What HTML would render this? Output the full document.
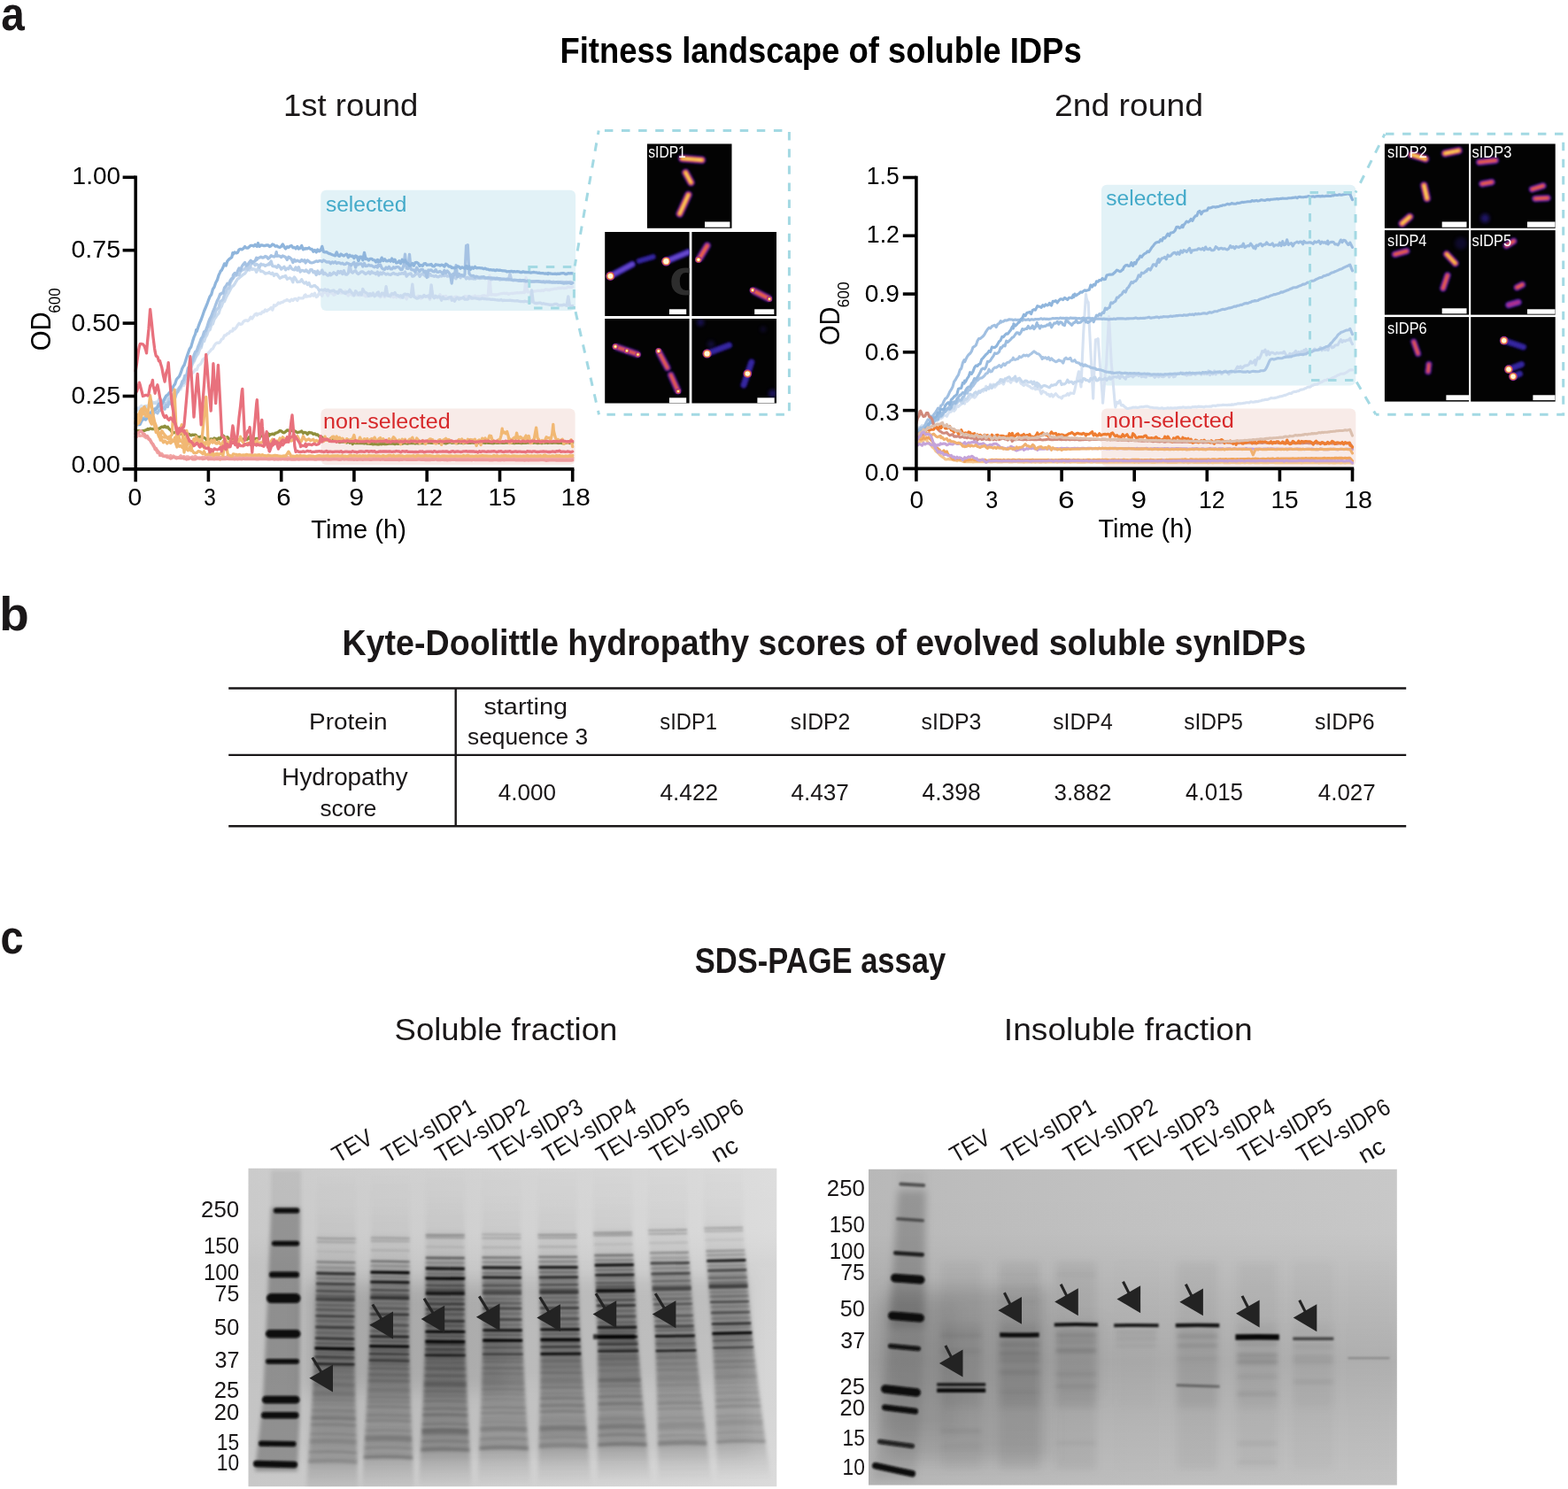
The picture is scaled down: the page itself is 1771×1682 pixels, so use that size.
<!DOCTYPE html>
<html lang="en"><head><meta charset="utf-8"><title>Fitness landscape of soluble IDPs</title>
<style>
html,body{margin:0;padding:0;background:#fff;}
svg{display:block;font-family:"Liberation Sans",sans-serif;}
</style></head>
<body>
<svg xmlns="http://www.w3.org/2000/svg" width="1771" height="1682" viewBox="0 0 1771 1682">
<defs>
<filter id="mb1" filterUnits="userSpaceOnUse" x="670" y="150" width="1100" height="320"><feGaussianBlur stdDeviation="1.1"/></filter>
<filter id="mb2" filterUnits="userSpaceOnUse" x="670" y="150" width="1100" height="320"><feGaussianBlur stdDeviation="0.7"/></filter>
<filter id="mb3" filterUnits="userSpaceOnUse" x="670" y="150" width="1100" height="320"><feGaussianBlur stdDeviation="2.2"/></filter>

<filter id="gb05" x="-20%" y="-200%" width="140%" height="500%"><feGaussianBlur stdDeviation="0.6"/></filter>
<filter id="gb1" x="-20%" y="-200%" width="140%" height="500%"><feGaussianBlur stdDeviation="1.0"/></filter>
<filter id="gb15" x="-20%" y="-20%" width="140%" height="140%"><feGaussianBlur stdDeviation="1.5"/></filter>
<filter id="gb2" x="-20%" y="-20%" width="140%" height="140%"><feGaussianBlur stdDeviation="2.2"/></filter>
<filter id="gb8" x="-20%" y="-20%" width="140%" height="140%"><feGaussianBlur stdDeviation="9"/></filter>
<filter id="gb4" x="-20%" y="-20%" width="140%" height="140%"><feGaussianBlur stdDeviation="4"/></filter>
<filter id="gnoise" x="0" y="0" width="100%" height="100%"><feTurbulence type="fractalNoise" baseFrequency="0.9" numOctaves="2" seed="3" result="n"/><feColorMatrix type="matrix" values="0 0 0 0 0  0 0 0 0 0  0 0 0 0 0  0.5 0.5 0 0 -0.38"/></filter>
<linearGradient id="g1bg" x1="0" y1="0" x2="1" y2="0"><stop offset="0" stop-color="#c8c8c8"/><stop offset="0.3" stop-color="#cdcdcd"/><stop offset="0.55" stop-color="#d2d2d2"/><stop offset="0.85" stop-color="#d7d7d7"/><stop offset="1" stop-color="#dbdbdb"/></linearGradient>
<linearGradient id="g1v" x1="0" y1="0" x2="0" y2="1"><stop offset="0" stop-color="#fff" stop-opacity="0.06"/><stop offset="0.2" stop-color="#fff" stop-opacity="0.02"/><stop offset="0.3" stop-color="#000" stop-opacity="0.03"/><stop offset="0.8" stop-color="#000" stop-opacity="0.02"/><stop offset="1" stop-color="#000" stop-opacity="0.0"/></linearGradient>
<linearGradient id="g2bg" x1="0" y1="0" x2="1" y2="0"><stop offset="0" stop-color="#b8b8b8"/><stop offset="0.15" stop-color="#bcbcbc"/><stop offset="0.5" stop-color="#c2c2c2"/><stop offset="1" stop-color="#c8c8c8"/></linearGradient>
<linearGradient id="g2v" x1="0" y1="0" x2="0" y2="1"><stop offset="0" stop-color="#000" stop-opacity="0.0"/><stop offset="0.2" stop-color="#000" stop-opacity="0.005"/><stop offset="0.39" stop-color="#000" stop-opacity="0.065"/><stop offset="0.61" stop-color="#000" stop-opacity="0.12"/><stop offset="0.81" stop-color="#000" stop-opacity="0.065"/><stop offset="0.97" stop-color="#000" stop-opacity="0.03"/><stop offset="1" stop-color="#000" stop-opacity="0.025"/></linearGradient>
</defs>
<rect width="1771" height="1682" fill="#fff"/>
<rect x="362.3" y="214.8" width="287.8" height="136.3" rx="6" fill="#e2f2f7"/>
<rect x="362.4" y="461.6" width="287.2" height="63.4" rx="6" fill="#f8ebe8"/>
<path d="M153.2,461.9 L154.8,460.9 L156.5,460.7 L158.1,459.9 L159.8,458.2 L161.4,461.0 L163.1,458.8 L164.7,458.6 L166.4,458.7 L168.0,457.3 L169.6,456.7 L171.3,453.1 L172.9,455.5 L174.6,455.6 L176.2,454.0 L177.9,456.1 L179.5,455.1 L180.6,453.4 L181.2,454.5 L182.8,454.3 L184.5,453.0 L186.1,453.2 L187.7,449.2 L189.4,448.2 L191.0,445.6 L192.7,448.7 L194.3,447.8 L196.0,446.2 L197.6,443.6 L199.3,442.7 L200.9,440.1 L202.5,440.0 L204.2,439.9 L205.8,434.3 L207.5,435.5 L208.0,432.8 L209.1,433.3 L210.8,430.5 L212.4,430.7 L214.1,427.6 L215.7,423.6 L217.4,421.2 L219.0,420.1 L220.6,417.4 L222.3,417.9 L223.9,413.2 L225.6,412.0 L227.2,410.3 L228.9,406.3 L230.5,405.2 L232.2,403.6 L233.8,400.8 L235.4,398.6 L237.1,396.9 L238.7,394.8 L240.4,393.9 L242.0,390.5 L243.7,388.1 L245.3,387.2 L247.0,387.4 L248.6,386.3 L250.3,383.3 L251.9,382.5 L253.5,378.9 L255.2,378.8 L256.8,376.9 L258.5,376.7 L260.1,374.1 L261.8,374.2 L262.9,373.7 L263.4,371.1 L265.1,371.9 L266.7,370.2 L268.4,367.2 L270.0,365.3 L271.6,366.4 L273.3,366.0 L274.9,363.4 L276.6,362.2 L278.2,361.8 L279.9,362.6 L281.5,361.1 L283.2,358.2 L284.8,359.9 L286.4,357.4 L288.1,354.9 L289.7,354.2 L290.3,356.1 L291.4,355.1 L293.0,354.2 L294.7,354.6 L296.3,352.2 L298.0,352.6 L299.6,349.9 L301.2,351.4 L302.9,350.0 L304.5,349.1 L306.2,347.5 L307.8,350.0 L309.5,344.7 L311.1,345.5 L312.8,344.2 L314.4,342.0 L316.1,342.8 L317.7,341.5 L319.3,341.4 L321.0,339.9 L322.6,339.6 L324.3,338.5 L325.9,339.6 L327.6,340.4 L329.2,338.2 L330.9,339.5 L332.5,337.6 L334.1,337.5 L335.8,339.4 L337.4,336.5 L339.1,336.9 L340.7,336.8 L342.4,336.9 L344.0,333.6 L345.1,333.0 L345.7,335.2 L347.3,334.9 L349.0,334.4 L350.6,334.5 L352.2,332.2 L353.9,334.1 L355.5,331.3 L357.2,335.5 L358.8,334.5 L360.5,330.9 L362.1,332.3 L363.8,334.3 L365.4,328.6 L367.0,330.3 L368.7,330.6 L370.3,334.1 L372.0,329.5 L372.5,330.6 L373.6,330.9 L375.3,331.3 L376.9,333.2 L378.6,332.5 L380.2,330.5 L381.9,329.9 L383.5,330.4 L385.1,330.8 L386.8,331.2 L388.4,330.9 L390.1,328.8 L391.7,331.7 L393.4,333.9 L395.0,331.4 L396.7,332.5 L398.3,333.6 L399.9,333.9 L401.6,331.3 L403.2,333.3 L404.9,332.8 L406.5,333.8 L408.2,331.2 L409.8,333.4 L411.5,333.5 L413.1,335.0 L414.8,334.7 L416.4,331.8 L418.0,334.6 L419.7,332.1 L421.3,332.8 L423.0,333.1 L424.6,333.4 L426.3,333.8 L427.4,332.3 L427.9,333.7 L429.6,335.7 L431.2,334.3 L432.8,332.0 L434.5,335.6 L436.1,334.1 L437.8,334.2 L439.4,332.7 L441.1,335.4 L442.7,332.5 L444.4,335.7 L446.0,334.2 L447.7,335.9 L449.3,334.2 L450.9,335.3 L452.6,336.5 L454.2,334.2 L455.9,335.9 L457.5,333.8 L459.2,338.0 L460.8,332.7 L462.5,334.9 L464.1,332.5 L465.8,333.9 L467.4,334.9 L469.0,335.2 L470.7,335.6 L472.3,334.1 L474.0,335.3 L475.6,337.0 L477.3,335.5 L478.9,334.5 L480.6,335.1 L482.2,334.9 L483.8,334.7 L485.5,338.4 L487.1,335.0 L488.8,333.3 L490.4,334.6 L492.1,335.7 L493.7,336.7 L495.4,336.1 L497.0,332.8 L498.6,335.9 L500.3,334.6 L501.9,335.3 L503.6,334.4 L505.2,336.8 L506.9,337.8 L508.5,335.8 L510.2,335.1 L511.8,338.7 L513.5,335.6 L515.1,335.1 L516.7,335.6 L518.4,335.8 L520.0,337.8 L521.7,336.5 L523.3,336.9 L525.0,334.4 L526.6,335.1 L528.3,334.8 L529.9,337.5 L531.5,337.1 L533.2,335.1 L534.8,335.4 L536.5,334.0 L537.0,336.2 L538.1,335.5 L539.8,334.8 L541.4,335.2 L543.1,334.9 L544.7,334.1 L546.4,333.8 L548.0,334.2 L549.6,334.4 L551.3,333.9 L552.9,311.4 L554.6,333.0 L556.2,332.6 L557.9,332.8 L559.5,333.0 L561.2,332.9 L562.8,332.5 L564.5,332.0 L566.1,331.7 L567.7,331.5 L569.4,331.2 L571.0,331.6 L572.7,331.2 L574.3,332.4 L576.0,331.8 L577.6,331.3 L579.3,331.5 L580.9,331.2 L582.5,331.0 L584.2,330.7 L585.8,330.8 L587.5,330.7 L589.1,330.7 L590.8,330.3 L591.9,330.1 L592.4,330.6 L594.1,313.6 L595.7,329.9 L597.3,329.9 L599.0,329.9 L600.6,329.6 L602.3,329.4 L603.9,328.9 L605.6,328.7 L607.2,328.4 L608.9,328.4 L610.5,328.6 L612.2,327.9 L613.8,328.5 L615.4,327.3 L617.1,326.9 L618.7,327.6 L619.3,327.4 L620.4,327.8 L622.0,326.9 L623.7,326.8 L625.3,326.4 L627.0,326.1 L628.6,326.1 L630.2,325.5 L631.9,325.4 L633.5,325.6 L635.2,325.0 L636.8,325.5 L638.5,325.4 L640.1,325.1 L641.8,323.9 L643.4,324.6 L645.1,324.4 L646.7,324.0" fill="none" stroke="#d9e4f3" stroke-width="3.3" stroke-linejoin="round" stroke-linecap="round"/>
<path d="M153.2,465.6 L154.8,462.9 L156.5,461.5 L158.1,462.9 L159.8,463.4 L161.4,461.1 L163.1,459.8 L164.7,458.4 L166.4,460.8 L168.0,460.3 L169.6,457.1 L171.3,456.8 L172.9,454.8 L174.6,455.0 L176.2,455.8 L177.9,455.4 L179.5,451.1 L180.6,454.5 L181.2,454.9 L182.8,454.5 L184.5,452.1 L186.1,451.3 L187.7,451.1 L189.4,450.0 L191.0,448.7 L192.7,447.4 L194.3,446.1 L196.0,445.2 L197.6,445.9 L199.3,440.6 L200.9,441.5 L202.5,437.8 L204.2,437.6 L205.8,433.7 L207.5,432.7 L208.0,430.7 L209.1,424.4 L210.8,425.5 L212.4,420.9 L214.1,420.4 L215.7,415.7 L217.4,411.1 L219.0,408.7 L220.6,404.8 L222.3,401.7 L223.9,399.8 L225.6,394.4 L227.2,392.9 L228.9,386.0 L230.5,385.7 L232.2,380.8 L233.8,378.3 L235.4,373.7 L237.1,372.6 L238.7,367.3 L240.4,365.7 L242.0,360.7 L243.7,358.3 L245.3,355.8 L247.0,353.9 L248.6,348.7 L250.3,345.9 L251.9,341.2 L253.5,340.7 L255.2,336.3 L256.8,333.2 L258.5,330.3 L260.1,327.3 L261.8,324.1 L262.9,323.0 L263.4,323.1 L265.1,320.7 L266.7,317.8 L268.4,315.1 L270.0,314.2 L271.6,312.6 L273.3,311.4 L274.9,309.9 L276.6,309.1 L278.2,306.7 L279.9,303.9 L281.5,305.1 L282.1,305.0 L283.2,301.8 L284.8,304.4 L286.4,303.8 L288.1,304.3 L289.7,307.4 L291.4,303.0 L293.0,304.3 L294.7,306.7 L296.3,306.3 L298.0,307.5 L299.6,309.2 L301.2,308.6 L302.9,308.3 L304.0,307.6 L304.5,308.3 L306.2,309.5 L307.8,308.2 L309.5,311.4 L311.1,309.7 L312.8,309.7 L314.4,312.0 L316.1,314.3 L317.7,313.6 L319.3,312.4 L321.0,312.5 L322.6,311.5 L324.3,315.3 L325.9,314.3 L327.6,313.9 L329.2,315.3 L330.9,318.7 L331.4,314.6 L332.5,313.0 L334.1,315.3 L335.8,318.5 L337.4,318.4 L339.1,318.1 L340.7,315.7 L342.4,318.8 L344.0,320.1 L345.7,318.7 L347.3,321.5 L349.0,319.5 L350.6,323.5 L352.2,323.8 L353.9,322.8 L355.5,322.5 L357.2,324.1 L358.8,325.2 L360.5,328.3 L362.1,327.3 L363.8,327.5 L365.4,327.8 L367.0,326.8 L368.7,328.4 L370.3,327.3 L372.0,328.6 L372.5,329.3 L373.6,328.8 L375.3,328.4 L376.9,328.0 L378.6,329.8 L380.2,329.6 L381.9,331.2 L383.5,327.4 L385.1,327.7 L386.8,329.9 L388.4,330.4 L390.1,331.5 L391.7,329.8 L393.4,329.8 L395.0,327.3 L396.7,330.0 L398.3,331.4 L399.9,333.7 L401.6,328.7 L403.2,330.4 L404.9,332.9 L406.5,330.6 L408.2,333.1 L409.8,326.5 L411.5,329.7 L413.1,330.5 L414.8,331.6 L416.4,334.3 L418.0,331.7 L419.7,333.7 L421.3,331.0 L423.0,334.7 L424.6,333.2 L426.3,330.5 L427.4,330.0 L427.9,333.7 L429.6,334.3 L431.2,331.2 L432.8,331.3 L434.5,333.9 L436.1,323.7 L437.8,333.7 L439.4,334.4 L441.1,333.9 L442.7,331.4 L444.4,332.3 L446.0,330.5 L447.7,333.5 L449.3,333.6 L450.9,334.9 L452.6,333.8 L454.2,335.5 L454.8,336.1 L455.9,332.9 L457.5,332.1 L459.2,332.9 L460.8,332.4 L462.5,333.9 L464.1,335.3 L465.8,321.1 L467.4,335.0 L469.0,336.1 L470.7,337.0 L472.3,336.8 L474.0,334.9 L475.6,334.8 L477.3,335.8 L478.9,333.4 L480.6,335.1 L482.2,334.7 L483.8,333.9 L485.5,336.7 L487.1,321.8 L488.8,334.8 L490.4,336.8 L492.1,334.3 L493.7,335.7 L495.4,334.9 L497.0,335.3 L498.6,339.2 L500.3,335.6 L501.9,337.5 L503.6,337.7 L505.2,337.4 L506.9,335.9 L508.5,335.9 L509.6,335.8 L510.2,339.3 L511.8,337.9 L513.5,340.2 L515.1,337.2 L516.7,336.3 L518.4,338.1 L520.0,336.8 L521.7,336.8 L523.3,335.8 L525.0,338.2 L526.6,338.2 L528.3,338.1 L529.9,334.8 L531.5,335.6 L533.2,337.2 L534.8,336.8 L536.5,336.9 L537.0,336.8 L538.1,337.2 L539.8,337.4 L541.4,337.8 L543.1,337.7 L544.7,337.0 L546.4,337.5 L548.0,337.7 L549.6,337.9 L551.3,337.9 L552.9,337.9 L554.6,338.4 L556.2,338.2 L557.9,338.3 L559.5,338.7 L561.2,338.8 L562.8,339.0 L564.5,339.1 L566.1,338.5 L567.7,339.7 L569.4,339.1 L571.0,339.3 L572.7,339.4 L574.3,339.3 L576.0,339.1 L577.6,339.5 L579.3,339.7 L580.9,339.9 L582.5,339.9 L584.2,339.6 L585.8,340.1 L587.5,340.5 L589.1,340.6 L590.8,340.7 L591.9,340.8 L592.4,340.1 L594.1,340.5 L595.7,340.9 L597.3,340.6 L599.0,341.5 L600.6,328.0 L602.3,341.4 L603.9,342.3 L605.6,342.5 L607.2,342.5 L608.9,342.1 L610.5,342.2 L612.2,343.2 L613.8,342.7 L615.4,343.3 L617.1,343.5 L618.7,343.8 L619.3,343.8 L620.4,344.3 L622.0,344.2 L623.7,344.3 L625.3,343.9 L627.0,343.4 L628.6,343.3 L630.2,344.4 L631.9,345.0 L633.5,344.7 L635.2,344.9 L636.8,344.1 L638.5,344.6 L640.1,345.2 L641.8,334.8 L643.4,344.9 L645.1,345.8 L646.7,345.5" fill="none" stroke="#c9daee" stroke-width="3.3" stroke-linejoin="round" stroke-linecap="round"/>
<path d="M153.2,472.5 L154.8,469.7 L156.5,469.8 L158.1,469.4 L159.8,466.9 L161.4,467.5 L163.1,467.4 L164.7,464.0 L166.4,466.5 L168.0,466.9 L169.6,466.5 L171.3,464.7 L172.9,462.6 L174.6,461.7 L176.2,460.8 L177.9,459.2 L179.5,458.8 L180.6,459.8 L181.2,458.5 L182.8,458.2 L184.5,458.6 L186.1,455.6 L187.7,455.4 L189.4,454.6 L191.0,450.5 L192.7,450.9 L194.3,451.4 L196.0,448.5 L197.6,442.9 L199.3,443.9 L200.9,440.3 L202.5,438.0 L204.2,435.8 L205.8,433.3 L207.5,432.4 L208.0,431.6 L209.1,428.7 L210.8,425.2 L212.4,419.8 L214.1,415.1 L215.7,414.6 L217.4,408.9 L219.0,407.2 L220.6,403.1 L222.3,398.7 L223.9,394.5 L225.6,391.5 L227.2,390.6 L228.9,381.5 L230.5,380.0 L232.2,376.7 L233.8,371.2 L235.4,369.1 L237.1,367.1 L238.7,361.3 L240.4,358.3 L242.0,356.8 L243.7,351.4 L245.3,348.8 L247.0,347.7 L248.6,340.7 L250.3,339.5 L251.9,338.2 L253.5,332.9 L255.2,330.2 L256.8,325.9 L258.5,325.8 L260.1,319.5 L261.8,316.4 L262.9,314.7 L263.4,314.3 L265.1,311.9 L266.7,311.3 L268.4,310.7 L270.0,310.6 L271.6,306.6 L273.3,305.3 L274.9,304.8 L276.6,303.6 L278.2,301.4 L279.9,304.4 L281.5,299.2 L282.1,302.5 L283.2,298.8 L284.8,297.7 L286.4,296.6 L288.1,299.7 L289.7,298.5 L291.4,299.2 L293.0,302.1 L294.7,298.1 L296.3,299.1 L298.0,299.0 L299.6,300.4 L301.2,299.2 L302.9,299.0 L304.0,297.4 L304.5,298.9 L306.2,295.0 L307.8,300.6 L309.5,300.8 L311.1,300.9 L312.8,302.3 L314.4,299.6 L316.1,301.2 L317.7,304.1 L319.3,302.5 L321.0,301.3 L322.6,304.9 L324.3,303.0 L325.9,303.7 L327.6,300.5 L329.2,303.2 L330.9,304.5 L332.5,304.9 L334.1,301.9 L335.8,305.2 L337.4,301.7 L339.1,307.1 L340.7,305.4 L342.4,305.7 L344.0,306.5 L345.1,306.0 L345.7,304.9 L347.3,306.9 L349.0,308.1 L350.6,304.6 L352.2,304.6 L353.9,307.7 L355.5,306.6 L357.2,310.6 L358.8,306.0 L360.5,309.3 L362.1,308.5 L363.8,305.1 L365.4,309.8 L367.0,308.3 L368.7,310.0 L370.3,311.2 L372.0,310.5 L372.5,308.6 L373.6,310.7 L375.3,309.6 L376.9,307.8 L378.6,308.9 L380.2,310.3 L381.9,306.4 L383.5,308.2 L385.1,306.4 L386.8,309.6 L388.4,305.8 L390.1,309.8 L391.7,310.2 L393.4,308.3 L395.0,298.3 L396.7,307.2 L398.3,308.2 L399.9,306.5 L401.6,305.7 L403.2,308.4 L404.9,309.5 L406.5,308.3 L408.2,306.8 L409.8,306.9 L411.5,308.5 L413.1,309.5 L414.8,308.3 L416.4,307.1 L418.0,309.4 L419.7,306.8 L421.3,308.3 L423.0,308.4 L424.6,309.7 L426.3,307.1 L427.4,309.0 L427.9,311.0 L429.6,308.0 L431.2,309.7 L432.8,307.7 L434.5,309.0 L436.1,310.1 L437.8,309.1 L439.4,310.0 L441.1,310.5 L442.7,309.4 L444.4,308.4 L446.0,309.5 L447.7,309.7 L449.3,310.4 L450.9,309.0 L452.6,309.4 L454.2,308.5 L455.9,309.4 L457.5,307.1 L459.2,312.1 L460.8,310.1 L462.5,309.4 L464.1,308.9 L465.8,312.2 L467.4,311.8 L469.0,310.3 L470.7,308.9 L472.3,308.9 L474.0,312.4 L475.6,310.3 L477.3,308.9 L478.9,310.5 L480.6,312.0 L482.2,311.6 L483.8,312.5 L485.5,309.3 L487.1,311.3 L488.8,311.6 L490.4,312.3 L492.1,311.4 L493.7,312.6 L495.4,312.8 L497.0,311.6 L498.6,312.0 L500.3,311.1 L501.9,311.7 L503.6,310.4 L505.2,312.1 L506.9,311.8 L508.5,311.9 L510.2,313.4 L511.8,310.9 L513.5,313.3 L515.1,314.7 L516.7,311.1 L518.4,312.0 L520.0,313.7 L521.7,311.8 L523.3,311.8 L525.0,312.3 L526.6,314.9 L528.3,313.2 L529.9,314.9 L531.5,314.4 L533.2,314.5 L534.8,315.0 L536.5,313.3 L537.0,315.0 L538.1,313.9 L539.8,314.1 L541.4,314.5 L543.1,314.3 L544.7,314.2 L546.4,314.2 L548.0,314.7 L549.6,314.2 L551.3,314.7 L552.9,314.5 L554.6,315.5 L556.2,315.5 L557.9,314.8 L559.5,315.4 L561.2,315.3 L562.8,315.1 L564.5,316.1 L566.1,315.6 L567.7,315.2 L569.4,315.7 L571.0,316.0 L572.7,316.0 L574.3,316.2 L576.0,309.5 L577.6,316.0 L579.3,316.6 L580.9,316.4 L582.5,316.6 L584.2,316.6 L585.8,316.7 L587.5,317.4 L589.1,316.7 L590.8,316.9 L591.9,317.7 L592.4,317.4 L594.1,317.8 L595.7,317.5 L597.3,317.4 L599.0,317.9 L600.6,317.8 L602.3,317.9 L603.9,317.9 L605.6,318.0 L607.2,318.1 L608.9,317.6 L610.5,317.9 L612.2,318.2 L613.8,317.6 L615.4,318.2 L617.1,317.8 L618.7,318.5 L620.4,317.7 L622.0,318.3 L623.7,318.6 L625.3,318.2 L627.0,318.8 L628.6,318.8 L630.2,318.4 L631.9,318.7 L633.5,318.4 L635.2,318.5 L636.8,318.6 L638.5,318.7 L640.1,318.5 L641.8,318.8 L643.4,318.5 L645.1,318.6 L646.7,319.6" fill="none" stroke="#b9cfe9" stroke-width="3.3" stroke-linejoin="round" stroke-linecap="round"/>
<path d="M153.2,477.3 L154.8,474.4 L156.5,476.6 L158.1,477.1 L159.8,473.6 L161.4,472.3 L163.1,471.9 L164.7,470.9 L166.4,470.9 L168.0,470.7 L169.6,470.2 L171.3,468.6 L172.9,468.1 L174.6,465.5 L176.2,465.1 L177.9,466.8 L179.5,463.5 L180.6,463.9 L181.2,462.0 L182.8,460.3 L184.5,460.3 L186.1,462.2 L187.7,457.8 L189.4,459.6 L191.0,454.2 L192.7,456.0 L194.3,454.2 L196.0,448.4 L197.6,450.0 L199.3,444.4 L200.9,442.7 L202.5,438.8 L204.2,436.0 L205.8,430.9 L207.5,429.0 L208.0,427.1 L209.1,424.2 L210.8,423.6 L212.4,415.7 L214.1,414.1 L215.7,412.3 L217.4,407.2 L219.0,401.4 L220.6,397.4 L222.3,395.9 L223.9,391.1 L225.6,387.2 L227.2,382.4 L228.9,380.2 L230.5,374.9 L232.2,373.7 L233.8,369.7 L235.4,364.1 L237.1,360.0 L238.7,357.1 L240.4,352.3 L242.0,348.8 L243.7,344.1 L245.3,339.7 L247.0,336.6 L248.6,332.2 L249.2,332.5 L250.3,331.2 L251.9,331.2 L253.5,325.1 L255.2,323.2 L256.8,320.2 L258.5,321.1 L260.1,316.8 L261.8,314.5 L262.9,314.6 L263.4,310.5 L265.1,308.5 L266.7,310.2 L268.4,306.3 L270.0,303.0 L271.6,305.4 L273.3,300.9 L274.9,298.5 L276.6,296.5 L278.2,300.1 L279.9,298.9 L281.5,296.4 L283.2,294.2 L284.8,296.8 L286.4,295.3 L288.1,295.0 L289.7,291.2 L290.3,293.2 L291.4,291.5 L293.0,291.2 L294.7,290.2 L296.3,291.0 L298.0,290.8 L299.6,289.5 L301.2,290.1 L302.9,292.2 L304.5,291.0 L306.2,288.8 L307.8,289.6 L309.5,290.0 L311.1,289.0 L312.2,284.7 L312.8,289.3 L314.4,288.9 L316.1,289.3 L317.7,290.6 L319.3,289.0 L321.0,289.7 L322.6,290.7 L324.3,293.4 L325.9,290.2 L327.6,291.2 L329.2,292.7 L330.9,296.5 L332.5,293.3 L334.1,295.2 L335.8,294.2 L337.4,294.9 L339.1,295.6 L340.7,293.5 L342.4,295.0 L344.0,293.8 L345.1,297.0 L345.7,296.0 L347.3,293.9 L349.0,295.3 L350.6,296.7 L352.2,296.9 L353.9,296.5 L355.5,295.8 L357.2,294.8 L358.8,295.5 L360.5,294.7 L362.1,294.6 L363.8,295.6 L365.4,294.0 L367.0,294.7 L368.7,296.0 L370.3,296.0 L372.0,295.8 L372.5,296.7 L373.6,297.7 L375.3,296.0 L376.9,297.0 L378.6,295.7 L380.2,297.5 L381.9,296.7 L383.5,296.8 L385.1,297.9 L386.8,297.2 L388.4,298.6 L390.1,298.4 L391.7,297.0 L393.4,297.7 L395.0,298.4 L396.7,299.7 L398.3,297.9 L399.9,296.3 L401.6,302.1 L403.2,297.8 L404.9,299.0 L406.5,297.9 L408.2,297.9 L409.8,301.0 L411.5,297.4 L413.1,300.6 L414.8,300.3 L416.4,299.2 L418.0,300.2 L419.7,299.9 L421.3,301.0 L423.0,301.8 L424.6,300.5 L426.3,302.1 L427.4,298.9 L427.9,300.4 L429.6,299.0 L431.2,302.7 L432.8,304.0 L434.5,304.4 L436.1,302.0 L437.8,303.4 L439.4,301.3 L441.1,303.9 L442.7,303.9 L444.4,301.8 L446.0,302.9 L447.7,301.6 L449.3,301.6 L450.9,302.3 L452.6,304.6 L454.2,304.3 L455.9,300.2 L457.5,287.2 L459.2,303.2 L460.8,303.5 L462.5,287.4 L464.1,304.2 L465.8,304.9 L467.4,305.0 L469.0,307.2 L470.7,302.3 L472.3,304.9 L474.0,306.7 L475.6,304.3 L477.3,304.3 L478.9,307.3 L480.6,306.2 L482.2,313.5 L483.8,305.1 L485.5,305.4 L487.1,304.9 L488.8,306.6 L490.4,307.0 L492.1,304.7 L493.7,307.3 L495.4,307.3 L497.0,306.5 L498.6,307.6 L500.3,309.5 L501.9,305.4 L503.6,308.3 L505.2,306.0 L506.9,307.9 L508.5,310.0 L510.2,320.1 L511.8,309.4 L513.5,310.6 L515.1,299.7 L516.7,312.7 L518.4,309.4 L520.0,311.2 L521.7,310.7 L523.3,311.8 L525.0,309.9 L526.6,277.5 L528.3,276.7 L529.9,309.1 L531.5,311.2 L533.2,311.6 L534.8,311.5 L536.5,313.3 L537.0,313.0 L538.1,312.2 L539.8,312.9 L541.4,313.4 L543.1,313.0 L544.7,312.9 L546.4,312.7 L548.0,313.6 L549.6,313.8 L551.3,313.6 L552.9,313.8 L554.6,313.8 L556.2,314.2 L557.9,314.1 L559.5,314.6 L561.2,314.2 L562.8,314.6 L564.5,314.6 L566.1,315.1 L567.7,315.6 L569.4,315.2 L571.0,315.4 L572.7,315.2 L574.3,315.4 L576.0,315.9 L577.6,316.0 L579.3,316.5 L580.9,316.3 L582.5,316.4 L584.2,316.7 L585.8,317.1 L587.5,316.4 L589.1,317.3 L590.8,316.6 L591.9,316.9 L592.4,316.8 L594.1,317.7 L595.7,317.2 L597.3,318.0 L599.0,317.7 L600.6,318.2 L602.3,318.0 L603.9,318.0 L605.6,317.6 L607.2,317.7 L608.9,318.2 L610.5,318.3 L612.2,318.6 L613.8,318.7 L615.4,319.0 L617.1,318.6 L618.7,318.4 L620.4,318.9 L622.0,318.6 L623.7,319.2 L625.3,319.2 L627.0,319.1 L628.6,318.7 L630.2,319.3 L631.9,318.9 L633.5,319.4 L635.2,319.7 L636.8,320.1 L638.5,319.7 L640.1,319.9 L641.8,319.4 L643.4,319.6 L645.1,320.4 L646.7,319.6" fill="none" stroke="#a5c2e3" stroke-width="3.3" stroke-linejoin="round" stroke-linecap="round"/>
<path d="M153.2,478.9 L154.8,478.0 L156.5,479.9 L158.1,479.5 L159.8,475.8 L161.4,473.5 L163.1,473.5 L164.7,474.1 L166.4,471.6 L166.9,468.7 L168.0,471.3 L169.6,466.6 L171.3,465.7 L172.9,464.1 L174.6,462.2 L176.2,462.3 L177.9,460.2 L179.5,456.1 L180.6,457.9 L181.2,457.3 L182.8,456.6 L184.5,453.4 L186.1,449.8 L187.7,447.2 L189.4,446.0 L191.0,444.0 L192.7,442.1 L194.3,440.5 L196.0,436.0 L197.6,434.0 L199.3,428.8 L200.9,426.8 L202.5,425.2 L204.2,421.2 L205.8,416.2 L207.5,413.0 L208.0,412.8 L209.1,409.3 L210.8,403.7 L212.4,399.1 L214.1,394.2 L215.7,392.1 L217.4,386.1 L219.0,380.9 L220.6,377.4 L221.7,372.7 L222.3,374.2 L223.9,369.2 L225.6,364.6 L227.2,361.0 L228.9,356.2 L230.5,351.5 L232.2,347.5 L233.8,343.7 L235.4,339.3 L237.1,334.9 L238.7,332.8 L240.4,326.6 L242.0,324.3 L243.7,319.3 L245.3,316.4 L247.0,310.9 L248.6,307.6 L249.2,306.1 L250.3,305.3 L251.9,302.0 L253.5,297.9 L255.2,300.1 L256.8,295.0 L258.5,293.1 L260.1,291.8 L261.8,290.7 L262.9,285.6 L263.4,287.1 L265.1,285.0 L266.7,285.8 L268.4,285.3 L270.0,282.0 L271.6,281.4 L273.3,281.8 L274.9,280.7 L276.6,278.6 L278.2,280.2 L279.9,280.1 L281.5,278.9 L283.2,277.3 L284.8,277.3 L286.4,278.0 L288.1,276.3 L289.7,278.0 L290.3,278.4 L291.4,274.7 L293.0,278.4 L294.7,277.0 L296.3,277.0 L298.0,277.6 L299.6,277.5 L301.2,276.9 L302.9,277.0 L304.5,278.5 L306.2,277.7 L307.8,276.0 L309.5,276.8 L311.1,278.3 L312.8,277.7 L314.4,279.0 L316.1,279.4 L317.7,278.4 L319.3,275.9 L321.0,278.9 L322.6,280.9 L324.3,278.7 L325.9,279.6 L327.6,278.0 L329.2,277.5 L330.9,279.8 L332.5,279.4 L334.1,280.9 L335.8,278.4 L337.4,281.1 L339.1,280.3 L340.7,277.5 L342.4,281.9 L344.0,280.7 L345.1,281.1 L345.7,280.5 L347.3,280.8 L349.0,279.8 L350.6,281.4 L352.2,281.5 L353.9,284.2 L355.5,282.4 L357.2,284.9 L358.8,281.9 L360.5,283.9 L362.1,282.9 L363.8,278.4 L365.4,284.4 L367.0,284.9 L368.7,284.6 L370.3,285.7 L372.0,286.6 L372.5,286.5 L373.6,287.0 L375.3,287.7 L376.9,288.3 L378.6,288.9 L380.2,284.9 L381.9,288.6 L383.5,289.4 L385.1,287.0 L386.8,288.2 L388.4,289.0 L390.1,287.7 L391.7,287.1 L393.4,290.8 L395.0,288.2 L396.7,289.6 L398.3,289.1 L399.9,291.6 L401.6,289.0 L403.2,289.8 L404.9,294.8 L406.5,290.1 L408.2,290.2 L409.8,293.9 L411.5,285.3 L413.1,292.7 L414.8,292.4 L416.4,294.0 L418.0,292.3 L419.7,292.3 L421.3,293.6 L423.0,293.8 L424.6,296.1 L426.3,293.4 L427.4,295.9 L427.9,294.2 L429.6,295.4 L431.2,291.1 L432.8,294.5 L434.5,292.7 L436.1,294.8 L437.8,294.9 L439.4,294.0 L441.1,295.1 L442.7,292.1 L444.4,295.5 L446.0,293.3 L447.7,297.0 L449.3,296.7 L450.9,294.8 L452.6,297.5 L454.2,293.3 L454.8,295.2 L455.9,295.9 L457.5,293.9 L459.2,297.1 L460.8,297.6 L462.5,300.1 L464.1,299.5 L465.8,297.6 L467.4,300.1 L469.0,296.6 L470.7,296.5 L472.3,297.4 L474.0,300.3 L475.6,299.5 L477.3,300.3 L478.9,297.9 L480.6,297.6 L482.2,299.5 L483.8,299.2 L485.5,299.1 L487.1,298.5 L488.8,300.7 L490.4,300.9 L492.1,298.7 L493.7,299.2 L495.4,299.3 L497.0,300.0 L498.6,299.2 L500.3,299.6 L501.9,301.1 L503.6,298.2 L505.2,299.1 L506.9,301.0 L508.5,300.9 L509.6,301.7 L510.2,302.7 L511.8,302.3 L513.5,302.9 L515.1,302.0 L516.7,300.8 L518.4,301.4 L520.0,303.3 L521.7,301.8 L523.3,302.5 L525.0,303.2 L526.6,300.4 L528.3,303.3 L529.9,300.9 L531.5,304.3 L533.2,301.9 L534.8,303.2 L536.5,301.2 L537.0,301.9 L538.1,302.9 L539.8,302.6 L541.4,302.6 L543.1,302.8 L544.7,302.9 L546.4,303.7 L548.0,303.1 L549.6,304.2 L551.3,304.2 L552.9,304.9 L554.6,304.7 L556.2,305.2 L557.9,304.9 L559.5,305.7 L561.2,304.8 L562.8,305.3 L564.5,305.2 L566.1,305.5 L567.7,305.9 L569.4,305.9 L571.0,306.1 L572.7,306.9 L574.3,306.7 L576.0,306.6 L577.6,306.3 L579.3,307.1 L580.9,306.7 L582.5,307.0 L584.2,306.7 L585.8,306.8 L587.5,307.5 L589.1,307.6 L590.8,306.9 L591.9,307.1 L592.4,307.5 L594.1,307.3 L595.7,307.6 L597.3,307.6 L599.0,308.0 L600.6,307.8 L602.3,307.5 L603.9,307.7 L605.6,307.8 L607.2,308.3 L608.9,308.1 L610.5,308.7 L612.2,308.7 L613.8,308.7 L615.4,309.2 L617.1,308.9 L618.7,309.6 L619.3,308.5 L620.4,308.8 L622.0,309.0 L623.7,309.3 L625.3,309.3 L627.0,309.2 L628.6,309.6 L630.2,309.2 L631.9,309.4 L633.5,308.8 L635.2,308.6 L636.8,308.6 L638.5,309.5 L640.1,309.5 L641.8,308.6 L643.4,308.8 L645.1,308.7 L646.7,308.8" fill="none" stroke="#8fb5dc" stroke-width="3.3" stroke-linejoin="round" stroke-linecap="round"/>
<path d="M153.2,482.7 L154.8,478.7 L156.5,478.2 L158.1,475.0 L159.8,470.1 L161.4,465.0 L163.1,467.4 L164.7,470.1 L166.4,470.2 L168.0,469.9 L169.6,469.3 L171.3,473.5 L172.9,476.9 L174.6,479.7 L175.1,480.2 L176.2,484.7 L177.9,488.7 L179.5,493.3 L180.6,494.8 L181.2,497.2 L182.8,496.5 L184.5,499.8 L186.1,498.0 L187.7,499.5 L188.8,500.9 L189.4,500.2 L191.0,499.0 L192.7,500.6 L194.3,498.9 L196.0,498.2 L197.1,498.1 L197.6,498.4 L199.3,503.2 L200.9,502.1 L202.5,504.4 L204.2,503.3 L205.8,505.4 L207.5,506.2 L208.0,506.2 L209.1,507.8 L210.8,507.3 L212.4,508.8 L214.1,505.5 L215.7,509.2 L217.4,509.0 L219.0,511.7 L220.6,511.7 L222.3,511.3 L223.9,509.6 L225.6,510.0 L227.2,511.0 L228.9,512.6 L230.5,509.8 L232.2,513.9 L233.8,514.1 L235.4,512.7 L237.1,514.9 L238.7,513.4 L240.4,512.7 L242.0,514.3 L243.7,513.8 L245.3,514.5 L247.0,515.6 L248.6,519.1 L250.3,516.7 L251.9,515.4 L253.5,517.7 L255.2,516.5 L256.8,515.7 L258.5,514.4 L260.1,518.1 L261.8,517.2 L262.9,516.4 L263.4,516.5 L265.1,517.2 L266.7,516.1 L268.4,517.0 L270.0,516.4 L271.6,516.8 L273.3,516.6 L274.9,516.2 L276.6,516.5 L278.2,516.7 L279.9,517.0 L281.5,516.9 L283.2,517.2 L284.8,516.0 L286.4,517.2 L288.1,517.5 L289.7,516.2 L291.4,516.3 L293.0,516.8 L294.7,516.4 L296.3,517.0 L298.0,516.9 L299.6,516.5 L301.2,516.6 L302.9,516.9 L304.5,516.2 L306.2,516.5 L307.8,516.7 L309.5,517.1 L311.1,516.7 L312.8,516.8 L314.4,516.7 L316.1,516.4 L317.7,516.9 L319.3,516.6 L321.0,516.4 L322.6,516.6 L324.3,516.0 L325.9,517.3 L327.6,516.7 L329.2,517.1 L330.9,516.7 L332.5,515.9 L334.1,517.2 L335.8,516.8 L337.4,516.5 L339.1,516.7 L340.7,516.4 L342.4,517.2 L344.0,516.4 L345.7,517.0 L347.3,517.1 L349.0,516.5 L350.6,516.6 L352.2,516.9 L353.9,517.0 L355.5,516.8 L357.2,516.7 L358.8,516.8 L360.5,517.0 L362.1,517.5 L363.8,516.3 L365.4,516.7 L367.0,517.1 L368.7,517.2 L370.3,516.9 L372.0,516.8 L373.6,517.4 L375.3,516.3 L376.9,516.6 L378.6,516.8 L380.2,516.6 L381.9,516.6 L383.5,516.4 L385.1,516.7 L386.8,516.3 L388.4,516.2 L390.1,516.8 L391.7,516.9 L393.4,517.0 L395.0,516.8 L396.7,516.9 L398.3,516.7 L399.9,516.6 L401.6,516.5 L403.2,517.1 L404.9,516.4 L406.5,516.8 L408.2,516.7 L409.8,516.9 L411.5,517.4 L413.1,516.6 L414.8,517.3 L416.4,516.3 L418.0,516.7 L419.7,516.2 L421.3,516.5 L423.0,516.5 L424.6,516.3 L426.3,516.7 L427.9,516.2 L429.6,516.8 L431.2,516.6 L432.8,516.9 L434.5,516.5 L436.1,516.5 L437.8,516.9 L439.4,517.1 L441.1,516.7 L442.7,516.6 L444.4,516.8 L446.0,517.0 L447.7,516.9 L449.3,516.8 L450.9,517.6 L452.6,516.9 L454.2,516.2 L455.9,517.1 L457.5,516.8 L459.2,516.2 L460.8,516.5 L462.5,516.4 L464.1,516.8 L465.8,517.1 L467.4,515.8 L469.0,516.6 L470.7,516.6 L472.3,516.2 L474.0,516.4 L475.6,516.7 L477.3,517.1 L478.9,516.8 L480.6,516.8 L482.2,516.9 L483.8,517.0 L485.5,517.0 L487.1,516.8 L488.8,516.9 L490.4,516.6 L492.1,516.4 L493.7,516.6 L495.4,516.7 L497.0,516.2 L498.6,516.5 L500.3,517.2 L501.9,516.9 L503.6,516.6 L505.2,517.0 L506.9,516.5 L508.5,517.3 L510.2,517.3 L511.8,516.4 L513.5,516.5 L515.1,517.2 L516.7,516.7 L518.4,516.3 L520.0,517.1 L521.7,517.1 L523.3,517.1 L525.0,517.0 L526.6,517.3 L528.3,516.9 L529.9,517.2 L531.5,516.7 L533.2,516.0 L534.8,517.1 L536.5,516.4 L538.1,516.3 L539.8,517.5 L541.4,516.7 L543.1,516.7 L544.7,516.8 L546.4,516.5 L548.0,516.9 L549.6,516.6 L551.3,516.8 L552.9,516.8 L554.6,517.0 L556.2,516.0 L557.9,516.7 L559.5,517.1 L561.2,516.1 L562.8,516.2 L564.5,516.8 L566.1,516.9 L567.7,517.0 L569.4,516.3 L571.0,516.8 L572.7,516.9 L574.3,516.4 L576.0,516.8 L577.6,516.7 L579.3,516.1 L580.9,516.4 L582.5,516.3 L584.2,516.6 L585.8,516.3 L587.5,516.8 L589.1,516.4 L590.8,516.4 L592.4,516.9 L594.1,517.1 L595.7,516.5 L597.3,516.8 L599.0,516.5 L600.6,516.9 L602.3,516.5 L603.9,516.4 L605.6,515.9 L607.2,516.1 L608.9,516.6 L610.5,516.2 L612.2,516.9 L613.8,516.3 L615.4,516.7 L617.1,516.3 L618.7,516.6 L620.4,516.8 L622.0,516.9 L623.7,516.3 L625.3,516.7 L627.0,516.5 L628.6,516.6 L630.2,517.4 L631.9,516.5 L633.5,516.8 L635.2,516.6 L636.8,516.6 L638.5,517.3 L640.1,516.8 L641.8,516.7 L643.4,516.6 L645.1,516.4 L646.7,516.9" fill="none" stroke="#f1b873" stroke-width="3.3" stroke-linejoin="round" stroke-linecap="round"/>
<path d="M153.2,493.3 L154.8,493.4 L156.5,490.6 L158.1,492.3 L159.8,492.2 L161.4,491.7 L163.1,493.3 L164.7,494.5 L166.4,494.6 L168.0,496.3 L169.6,496.4 L171.3,499.7 L172.9,503.4 L174.6,505.8 L176.2,508.1 L177.9,511.5 L179.5,511.2 L181.2,512.3 L182.8,512.4 L184.5,514.7 L186.1,515.2 L187.7,514.8 L189.4,514.8 L191.0,516.1 L192.7,514.5 L194.3,516.1 L196.0,515.0 L197.6,516.1 L199.3,516.3 L200.9,517.0 L202.5,516.4 L204.2,514.8 L205.8,517.0 L207.5,515.6 L208.0,515.8 L209.1,517.0 L210.8,516.0 L212.4,515.8 L214.1,516.9 L215.7,517.1 L217.4,516.0 L219.0,516.5 L220.6,515.3 L222.3,516.5 L223.9,517.6 L225.6,516.8 L227.2,517.6 L228.9,516.3 L230.5,516.3 L232.2,517.1 L233.8,517.4 L235.4,516.2 L237.1,516.9 L238.7,516.6 L240.4,517.0 L242.0,516.9 L243.7,516.9 L245.3,517.0 L247.0,516.4 L248.6,516.6 L250.3,517.0 L251.9,516.7 L253.5,517.2 L255.2,516.7 L256.8,516.7 L258.5,517.0 L260.1,517.0 L261.8,516.9 L263.4,516.8 L265.1,517.0 L266.7,517.1 L268.4,517.0 L270.0,517.0 L271.6,516.8 L273.3,516.9 L274.9,516.9 L276.6,517.3 L278.2,517.0 L279.9,517.1 L281.5,517.1 L283.2,517.0 L284.8,517.1 L286.4,517.3 L288.1,516.9 L289.7,516.9 L291.4,517.1 L293.0,516.9 L294.7,517.2 L296.3,517.3 L298.0,517.1 L299.6,516.8 L301.2,517.1 L302.9,517.3 L304.5,517.0 L306.2,517.2 L307.8,517.2 L309.5,517.0 L311.1,517.4 L312.8,517.4 L314.4,517.4 L316.1,516.9 L317.7,517.1 L319.3,517.2 L321.0,517.3 L322.6,517.0 L324.3,516.9 L325.9,517.3 L327.6,517.1 L329.2,516.8 L330.9,517.1 L332.5,517.2 L334.1,517.1 L335.8,517.2 L337.4,517.1 L339.1,517.1 L340.7,517.3 L342.4,517.2 L344.0,517.2 L345.7,517.3 L347.3,517.2 L349.0,517.4 L350.6,517.0 L352.2,517.0 L353.9,517.4 L355.5,517.1 L357.2,517.2 L358.8,517.3 L360.5,517.3 L362.1,517.2 L363.8,517.1 L365.4,517.5 L367.0,517.1 L368.7,517.4 L370.3,517.5 L372.0,517.3 L373.6,517.2 L375.3,517.4 L376.9,517.3 L378.6,517.4 L380.2,517.4 L381.9,517.2 L383.5,517.5 L385.1,517.2 L386.8,517.3 L388.4,517.4 L390.1,517.4 L391.7,517.4 L393.4,517.4 L395.0,517.4 L396.7,517.4 L398.3,517.8 L399.9,517.8 L401.6,517.4 L403.2,517.5 L404.9,517.5 L406.5,517.5 L408.2,517.6 L409.8,517.2 L411.5,517.5 L413.1,517.5 L414.8,517.7 L416.4,517.3 L418.0,517.4 L419.7,517.2 L421.3,517.4 L423.0,517.7 L424.6,517.7 L426.3,517.3 L427.9,517.6 L429.6,517.6 L431.2,517.6 L432.8,517.5 L434.5,517.5 L436.1,517.7 L437.8,517.7 L439.4,517.9 L441.1,517.5 L442.7,517.6 L444.4,517.9 L446.0,517.4 L447.7,517.6 L449.3,517.8 L450.9,517.7 L452.6,517.7 L454.2,517.6 L455.9,517.6 L457.5,517.7 L459.2,517.6 L460.8,518.1 L462.5,517.7 L464.1,517.6 L465.8,517.5 L467.4,517.5 L469.0,517.9 L470.7,518.0 L472.3,517.8 L474.0,517.3 L475.6,517.7 L477.3,517.8 L478.9,518.0 L480.6,517.7 L482.2,517.8 L483.8,517.7 L485.5,517.7 L487.1,518.2 L488.8,517.8 L490.4,517.6 L492.1,517.9 L493.7,518.0 L495.4,518.0 L497.0,518.0 L498.6,517.4 L500.3,517.6 L501.9,517.9 L503.6,517.6 L505.2,518.0 L506.9,517.9 L508.5,518.0 L510.2,517.9 L511.8,517.7 L513.5,517.5 L515.1,517.7 L516.7,517.9 L518.4,517.8 L520.0,517.9 L521.7,517.8 L523.3,518.0 L525.0,517.9 L526.6,517.8 L528.3,517.8 L529.9,518.1 L531.5,517.9 L533.2,517.9 L534.8,518.1 L536.5,518.3 L538.1,518.0 L539.8,517.8 L541.4,518.0 L543.1,517.6 L544.7,517.9 L546.4,518.1 L548.0,518.0 L549.6,517.9 L551.3,517.9 L552.9,518.0 L554.6,517.9 L556.2,517.5 L557.9,517.9 L559.5,518.0 L561.2,518.1 L562.8,518.3 L564.5,518.0 L566.1,518.1 L567.7,518.1 L569.4,518.2 L571.0,517.9 L572.7,517.9 L574.3,518.2 L576.0,518.3 L577.6,518.0 L579.3,517.9 L580.9,518.0 L582.5,518.0 L584.2,518.4 L585.8,518.2 L587.5,518.0 L589.1,518.1 L590.8,518.1 L592.4,518.1 L594.1,518.0 L595.7,518.2 L597.3,518.3 L599.0,518.4 L600.6,518.2 L602.3,518.2 L603.9,518.2 L605.6,518.0 L607.2,518.3 L608.9,518.3 L610.5,518.1 L612.2,518.4 L613.8,518.6 L615.4,518.3 L617.1,518.1 L618.7,518.4 L620.4,518.3 L622.0,518.6 L623.7,518.1 L625.3,518.6 L627.0,518.4 L628.6,518.3 L630.2,518.0 L631.9,518.3 L633.5,518.4 L635.2,518.6 L636.8,518.4 L638.5,518.5 L640.1,518.4 L641.8,518.3 L643.4,518.1 L645.1,518.5 L646.7,518.1" fill="none" stroke="#f2a8a6" stroke-width="3.3" stroke-linejoin="round" stroke-linecap="round"/>
<path d="M153.2,484.9 L154.8,487.9 L156.5,486.3 L158.1,486.7 L159.8,487.1 L161.4,486.6 L163.1,486.4 L164.7,485.8 L166.4,485.1 L166.9,484.4 L168.0,485.1 L169.6,484.0 L171.3,484.5 L172.9,484.6 L174.6,484.7 L176.2,485.3 L177.9,485.7 L179.5,484.0 L180.6,484.0 L181.2,483.2 L182.8,482.2 L184.5,482.7 L186.1,481.2 L187.7,482.9 L189.4,482.2 L191.0,484.6 L192.7,485.7 L194.3,488.0 L196.0,488.8 L197.6,488.5 L199.3,488.4 L200.9,488.2 L202.5,490.6 L204.2,489.2 L205.8,490.7 L207.5,490.8 L208.0,490.7 L209.1,491.0 L210.8,490.3 L212.4,490.1 L214.1,490.8 L215.7,491.9 L217.4,491.1 L219.0,491.4 L220.6,491.1 L221.7,491.8 L222.3,493.8 L223.9,493.6 L225.6,493.8 L227.2,493.1 L228.9,494.8 L230.5,494.3 L232.2,495.5 L233.8,497.6 L235.4,497.0 L237.1,496.1 L238.7,495.8 L240.4,497.3 L242.0,495.0 L243.7,495.6 L245.3,496.7 L247.0,494.8 L248.6,495.8 L249.2,495.0 L250.3,492.6 L251.9,492.0 L253.5,493.7 L255.2,494.7 L256.8,493.7 L258.5,495.6 L260.1,497.3 L261.8,499.1 L262.9,496.1 L263.4,499.2 L265.1,499.7 L266.7,497.4 L268.4,496.6 L270.0,497.4 L271.6,495.5 L273.3,496.5 L274.9,496.1 L276.6,495.7 L278.2,496.7 L279.9,495.8 L281.5,493.6 L283.2,496.7 L284.8,495.5 L286.4,495.1 L288.1,496.0 L289.7,495.4 L290.3,497.0 L291.4,495.4 L293.0,494.3 L294.7,492.7 L296.3,492.2 L298.0,493.1 L299.6,493.1 L301.2,489.6 L302.9,489.9 L304.0,492.3 L304.5,490.6 L306.2,490.8 L307.8,490.1 L309.5,490.8 L311.1,489.1 L312.8,488.8 L314.4,488.1 L316.1,486.5 L317.7,486.9 L319.3,488.3 L321.0,488.8 L322.6,487.6 L324.3,486.0 L325.9,486.2 L327.6,487.7 L329.2,486.0 L330.9,486.7 L331.4,487.7 L332.5,486.8 L334.1,487.5 L335.8,488.7 L337.4,488.2 L339.1,487.9 L340.7,486.9 L342.4,489.4 L344.0,488.4 L345.1,488.7 L345.7,488.9 L347.3,490.5 L349.0,488.4 L350.6,488.8 L352.2,488.9 L353.9,490.4 L355.5,489.8 L357.2,491.1 L358.8,491.0 L360.5,493.0 L362.1,493.0 L363.8,494.1 L365.4,495.4 L367.0,495.4 L368.7,496.7 L370.3,497.3 L372.0,497.2 L372.5,497.6 L373.6,495.1 L375.3,495.5 L376.9,496.4 L378.6,496.9 L380.2,498.7 L381.9,497.8 L383.5,499.7 L385.1,499.1 L386.8,499.2 L388.4,499.2 L390.1,498.2 L391.7,500.1 L393.4,497.1 L395.0,500.2 L396.7,499.0 L398.3,501.6 L399.9,499.4 L401.6,500.6 L403.2,500.4 L404.9,500.5 L406.5,500.4 L408.2,500.6 L409.8,500.7 L411.5,501.0 L413.1,500.5 L414.8,501.2 L416.4,501.2 L418.0,501.4 L419.7,501.4 L421.3,501.8 L423.0,501.7 L424.6,501.6 L426.3,502.0 L427.4,501.8 L427.9,502.0 L429.6,501.5 L431.2,501.8 L432.8,501.3 L434.5,501.6 L436.1,501.7 L437.8,501.3 L439.4,501.2 L441.1,501.1 L442.7,501.1 L444.4,501.2 L446.0,501.6 L447.7,501.0 L449.3,501.3 L450.9,501.1 L452.6,500.8 L454.2,501.3 L455.9,500.7 L457.5,500.4 L459.2,500.8 L460.8,501.0 L462.5,500.5 L464.1,500.7 L465.8,500.5 L467.4,500.4 L469.0,501.0 L470.7,500.5 L472.3,500.9 L474.0,500.7 L475.6,500.3 L477.3,500.7 L478.9,500.5 L480.6,500.4 L482.2,500.2 L483.8,500.2 L485.5,500.1 L487.1,500.4 L488.8,500.4 L490.4,500.1 L492.1,500.5 L493.7,500.4 L495.4,500.1 L497.0,500.4 L498.6,500.5 L500.3,500.0 L501.9,500.3 L503.6,500.8 L505.2,500.4 L506.9,499.8 L508.5,499.5 L510.2,500.3 L511.8,500.1 L513.5,500.1 L515.1,500.2 L516.7,500.7 L518.4,500.0 L520.0,500.2 L521.7,500.3 L523.3,500.6 L525.0,500.4 L526.6,500.3 L528.3,500.3 L529.9,500.2 L531.5,500.3 L533.2,500.0 L534.8,500.1 L536.5,500.5 L537.0,500.4 L538.1,500.1 L539.8,500.4 L541.4,499.9 L543.1,500.4 L544.7,500.2 L546.4,500.1 L548.0,500.5 L549.6,499.9 L551.3,500.3 L552.9,500.4 L554.6,500.4 L556.2,500.7 L557.9,500.6 L559.5,499.9 L561.2,500.3 L562.8,500.3 L564.5,500.2 L566.1,500.1 L567.7,500.4 L569.4,500.3 L571.0,500.2 L572.7,500.0 L574.3,500.2 L576.0,499.8 L577.6,500.3 L579.3,500.3 L580.9,500.6 L582.5,500.3 L584.2,500.1 L585.8,500.3 L587.5,500.3 L589.1,500.5 L590.8,500.4 L592.4,500.4 L594.1,500.3 L595.7,500.0 L597.3,500.1 L599.0,500.0 L600.6,500.0 L602.3,500.4 L603.9,499.9 L605.6,500.2 L607.2,500.6 L608.9,500.4 L610.5,500.3 L612.2,500.6 L613.8,499.7 L615.4,500.3 L617.1,500.0 L618.7,500.5 L620.4,500.2 L622.0,500.2 L623.7,500.4 L625.3,500.2 L627.0,500.2 L628.6,500.2 L630.2,500.5 L631.9,500.1 L633.5,500.3 L635.2,500.5 L636.8,500.8 L638.5,500.3 L640.1,500.3 L641.8,499.7 L643.4,500.5 L645.1,499.9 L646.7,499.9" fill="none" stroke="#8f8f3c" stroke-width="3.3" stroke-linejoin="round" stroke-linecap="round"/>
<path d="M153.2,478.1 L154.8,478.9 L156.5,470.3 L158.1,464.8 L159.8,468.2 L161.4,464.5 L163.1,462.5 L164.2,462.2 L164.7,463.1 L166.4,465.0 L168.0,470.7 L169.6,476.1 L171.3,479.1 L172.4,475.7 L172.9,477.1 L174.6,480.8 L176.2,488.3 L177.9,486.5 L179.5,488.7 L180.6,492.5 L181.2,492.3 L182.8,486.8 L184.5,489.3 L186.1,491.3 L187.7,493.1 L189.4,495.5 L191.0,496.1 L192.7,494.7 L194.3,498.8 L196.0,497.8 L197.6,494.2 L199.3,500.9 L200.9,500.2 L202.5,495.1 L204.2,498.5 L205.8,499.3 L207.5,501.9 L208.0,503.3 L209.1,497.4 L210.8,505.1 L212.4,498.2 L214.1,500.0 L215.7,498.6 L217.4,502.5 L219.0,495.7 L220.6,495.9 L221.7,496.3 L222.3,496.2 L223.9,500.4 L225.6,497.5 L227.2,497.2 L228.9,498.8 L230.5,505.9 L232.2,499.7 L233.8,499.6 L235.4,502.7 L237.1,500.0 L238.7,497.2 L240.4,500.1 L242.0,497.0 L243.7,500.9 L245.3,501.2 L247.0,499.0 L248.6,501.4 L250.3,503.0 L251.9,498.5 L253.5,499.2 L255.2,497.8 L256.8,500.8 L258.5,499.8 L260.1,497.7 L261.8,499.7 L262.9,499.1 L263.4,498.1 L265.1,500.4 L266.7,498.3 L268.4,502.1 L270.0,498.0 L271.6,493.3 L273.3,497.8 L274.9,500.2 L276.6,502.9 L278.2,502.0 L279.9,500.2 L281.5,501.4 L283.2,498.7 L284.8,499.6 L286.4,498.4 L288.1,500.6 L289.7,498.5 L290.3,497.3 L291.4,502.1 L293.0,500.1 L294.7,500.0 L296.3,499.7 L298.0,496.8 L299.6,499.8 L301.2,500.8 L302.9,501.6 L304.5,501.7 L306.2,498.5 L307.8,496.2 L309.5,497.8 L311.1,499.5 L312.8,497.9 L314.4,499.3 L316.1,495.0 L317.7,496.7 L319.3,493.8 L321.0,495.5 L322.6,495.6 L324.3,498.9 L325.9,495.8 L327.6,497.7 L329.2,498.1 L330.9,496.5 L332.5,493.4 L334.1,495.8 L335.8,492.6 L337.4,495.5 L339.1,499.8 L340.7,498.0 L342.4,492.8 L344.0,495.6 L345.1,496.7 L345.7,497.8 L347.3,496.5 L349.0,495.9 L350.6,497.7 L352.2,497.0 L353.9,496.2 L355.5,499.1 L357.2,497.4 L358.8,498.4 L360.5,498.2 L362.1,498.7 L363.8,498.2 L365.4,498.6 L367.0,493.1 L368.7,497.2 L370.3,496.0 L372.0,498.5 L372.5,496.5 L373.6,495.9 L375.3,493.4 L376.9,493.1 L378.6,497.7 L380.2,493.0 L381.9,496.6 L383.5,494.2 L385.1,496.9 L386.8,495.2 L388.4,497.0 L390.1,499.6 L391.7,495.6 L393.4,497.4 L395.0,497.0 L396.7,496.2 L398.3,495.7 L399.9,491.5 L401.6,499.0 L403.2,497.8 L404.9,498.7 L406.5,494.1 L408.2,497.4 L409.8,498.0 L411.5,495.8 L413.1,496.6 L414.8,495.6 L416.4,499.9 L418.0,496.7 L419.7,495.5 L421.3,498.0 L423.0,494.1 L424.6,497.0 L426.3,498.4 L427.4,497.6 L427.9,495.7 L429.6,494.6 L431.2,497.9 L432.8,495.7 L434.5,497.7 L436.1,498.9 L437.8,499.2 L439.4,495.6 L441.1,498.1 L442.7,496.9 L444.4,493.8 L446.0,495.2 L447.7,498.2 L449.3,498.0 L450.9,496.9 L452.6,501.9 L454.2,496.2 L455.9,499.1 L457.5,496.2 L459.2,499.2 L460.8,498.5 L462.5,496.1 L464.1,496.5 L465.8,494.2 L467.4,499.0 L469.0,499.3 L470.7,495.0 L472.3,497.0 L474.0,500.6 L475.6,499.2 L477.3,497.4 L478.9,499.4 L480.6,501.4 L482.2,498.3 L483.8,497.5 L485.5,495.8 L487.1,496.2 L488.8,496.8 L490.4,500.2 L492.1,501.0 L493.7,500.6 L495.4,497.3 L497.0,496.6 L498.6,502.4 L500.3,497.3 L501.9,496.6 L503.6,495.3 L505.2,496.9 L506.9,496.5 L508.5,498.0 L510.2,499.1 L511.8,498.8 L513.5,498.6 L515.1,500.9 L516.7,498.7 L518.4,496.4 L520.0,499.2 L521.7,495.9 L523.3,500.3 L525.0,497.6 L526.6,500.1 L528.3,496.3 L529.9,497.0 L531.5,496.5 L533.2,496.8 L534.8,497.4 L536.5,496.2 L537.0,498.1 L538.1,503.5 L539.8,497.9 L541.4,496.9 L543.1,502.6 L544.7,495.1 L546.4,497.5 L548.0,495.0 L549.6,497.6 L550.7,496.5 L551.3,497.3 L552.9,492.1 L553.5,493.5 L554.6,492.4 L556.2,497.7 L557.9,498.2 L559.5,498.4 L561.2,498.9 L562.8,496.9 L564.5,497.1 L566.1,491.6 L567.2,484.2 L567.7,489.2 L569.4,487.9 L571.0,489.7 L572.7,487.6 L574.3,493.3 L575.4,500.7 L576.0,495.8 L577.6,499.9 L579.3,495.7 L580.9,494.2 L582.5,495.3 L583.6,489.1 L584.2,491.9 L585.8,496.0 L587.5,493.5 L589.1,494.5 L590.8,497.4 L591.9,498.7 L592.4,494.9 L594.1,492.1 L595.7,496.4 L597.3,492.5 L599.0,500.5 L600.6,500.3 L602.3,496.7 L602.8,498.2 L603.9,492.4 L605.6,483.1 L607.2,495.1 L608.3,496.0 L608.9,497.0 L610.5,499.6 L612.2,497.4 L613.8,499.3 L615.4,497.4 L617.1,493.8 L618.7,494.7 L620.4,494.7 L622.0,496.6 L623.7,490.1 L624.8,479.4 L625.3,486.3 L627.0,493.4 L627.5,494.7 L628.6,497.4 L630.2,496.4 L631.9,497.7 L633.5,497.2 L635.2,496.3 L636.8,501.3 L638.5,498.6 L640.1,500.2 L641.8,499.8 L643.4,498.9 L645.1,496.8 L646.7,504.6" fill="none" stroke="#f1b873" stroke-width="3.3" stroke-linejoin="round" stroke-linecap="round"/>
<path d="M153.2,476.0 L154.8,469.1 L156.5,468.1 L158.1,466.7 L159.8,462.0 L161.4,462.0 L163.1,459.5 L164.7,463.8 L166.4,466.7 L166.9,466.2 L168.0,460.9 L169.6,446.7 L171.3,457.9 L172.4,465.9 L172.9,468.5 L174.6,476.6 L176.2,480.6 L177.9,488.8 L179.5,488.7 L181.2,491.7 L182.8,493.9 L184.5,493.8 L186.1,494.1 L187.7,493.5 L189.4,494.7 L191.0,493.4 L192.7,492.9 L194.3,491.0 L196.0,460.4 L197.1,440.2 L197.6,453.9 L199.3,490.9 L199.8,505.0 L200.9,499.5 L202.5,490.1 L204.2,483.1 L205.3,479.7 L205.8,486.2 L207.5,503.8 L208.0,511.0 L209.1,502.4 L210.8,486.3 L212.4,494.4 L214.1,498.3 L215.7,506.4 L216.3,506.9 L217.4,501.9 L219.0,499.4 L220.6,496.4 L221.7,493.2 L222.3,496.7 L223.9,496.3 L225.6,501.6 L227.2,504.6 L228.9,487.6 L230.5,469.8 L232.2,454.0 L232.7,448.3 L233.8,470.6 L235.4,506.6 L237.1,507.1 L238.7,509.7 L240.4,511.1 L240.9,514.9 L242.0,513.3 L243.7,512.7 L245.3,512.2 L247.0,513.8 L248.6,512.6 L250.3,511.9 L251.9,514.6 L253.5,502.7 L254.6,494.7 L255.2,497.3 L256.8,510.9 L257.4,513.4 L258.5,514.0 L260.1,514.8 L261.8,515.9 L263.4,512.8 L265.1,513.2 L266.7,513.3 L268.4,514.2 L270.0,513.4 L271.6,513.9 L273.3,514.2 L274.9,514.0 L276.6,514.1 L278.2,513.4 L279.9,513.9 L281.5,514.0 L283.2,513.9 L284.8,513.9 L286.4,514.6 L288.1,513.8 L289.7,514.1 L291.4,513.9 L293.0,513.7 L294.7,514.5 L296.3,513.6 L298.0,514.5 L299.6,514.6 L301.2,515.2 L302.9,514.1 L304.5,514.7 L306.2,514.8 L307.8,514.9 L309.5,514.5 L311.1,514.4 L312.8,514.6 L314.4,514.9 L316.1,515.1 L317.7,515.6 L319.3,515.2 L321.0,514.9 L322.6,515.2 L323.2,514.4 L324.3,512.8 L325.9,510.2 L327.6,512.9 L328.7,515.0 L329.2,515.3 L330.9,515.2 L332.5,515.6 L334.1,515.2 L335.8,514.7 L337.4,515.2 L339.1,514.5 L340.7,515.1 L342.4,514.8 L344.0,514.9 L345.7,515.3 L347.3,515.4 L349.0,514.9 L350.6,514.8 L352.2,515.1 L353.9,515.1 L355.5,516.0 L357.2,515.3 L358.8,514.8 L360.5,514.7 L362.1,514.9 L363.8,515.3 L365.4,514.8 L367.0,515.2 L368.7,514.8 L370.3,514.6 L372.0,515.4 L373.6,515.1 L375.3,515.0 L376.9,514.9 L378.6,515.0 L380.2,514.8 L381.9,514.7 L383.5,515.2 L385.1,515.1 L386.8,514.7 L388.4,515.4 L390.1,515.2 L391.7,515.7 L393.4,515.3 L395.0,514.4 L396.7,514.4 L398.3,515.2 L399.9,514.5 L401.6,514.9 L403.2,514.9 L404.9,515.1 L406.5,514.7 L408.2,515.5 L409.8,514.6 L411.5,515.0 L413.1,515.0 L414.8,515.6 L416.4,514.3 L418.0,514.8 L419.7,514.9 L421.3,515.0 L423.0,514.7 L424.6,515.2 L426.3,514.9 L427.9,514.8 L429.6,515.3 L431.2,515.3 L432.8,514.6 L434.5,515.3 L436.1,515.3 L437.8,514.9 L439.4,514.3 L441.1,514.4 L442.7,515.3 L444.4,514.3 L446.0,515.5 L447.7,515.2 L449.3,514.9 L450.9,514.7 L452.6,514.8 L454.2,514.9 L455.9,515.6 L457.5,515.6 L459.2,515.0 L460.8,514.9 L462.5,515.0 L464.1,515.2 L465.8,514.9 L467.4,514.7 L469.0,516.0 L470.7,514.6 L472.3,514.5 L474.0,514.8 L475.6,515.2 L477.3,515.0 L478.9,515.0 L480.6,514.3 L482.2,514.9 L483.8,514.8 L485.5,514.7 L487.1,515.0 L488.8,515.2 L490.4,515.6 L492.1,515.3 L493.7,514.8 L495.4,514.8 L497.0,515.7 L498.6,515.2 L500.3,515.0 L501.9,514.8 L503.6,515.2 L505.2,515.2 L506.9,515.1 L508.5,514.9 L510.2,515.0 L511.8,515.3 L513.5,515.1 L515.1,515.0 L516.7,515.2 L518.4,515.1 L520.0,515.1 L521.7,515.6 L523.3,514.5 L525.0,515.1 L526.6,514.8 L528.3,514.4 L529.9,514.9 L531.5,515.3 L533.2,515.1 L534.8,515.3 L536.5,515.2 L538.1,514.8 L539.8,515.3 L541.4,514.9 L543.1,515.0 L544.7,514.5 L546.4,514.9 L548.0,514.8 L549.6,514.8 L551.3,515.2 L552.9,515.1 L554.6,515.4 L556.2,515.4 L557.9,514.4 L559.5,515.4 L561.2,514.7 L562.8,515.1 L564.5,515.4 L566.1,515.0 L567.7,514.8 L569.4,514.7 L571.0,514.7 L572.7,515.1 L574.3,514.9 L576.0,515.3 L577.6,515.3 L579.3,514.8 L580.9,514.8 L582.5,515.1 L584.2,515.1 L585.8,515.3 L587.5,515.0 L589.1,515.4 L590.8,515.0 L592.4,515.1 L594.1,515.1 L595.7,514.4 L597.3,515.3 L599.0,515.0 L600.6,514.8 L602.3,515.3 L603.9,514.8 L605.6,515.4 L607.2,514.9 L608.9,515.0 L610.5,514.6 L612.2,515.6 L613.8,514.6 L615.4,514.1 L617.1,514.9 L618.7,515.4 L620.4,515.0 L622.0,515.5 L623.7,514.8 L625.3,515.0 L627.0,515.4 L628.6,514.5 L630.2,515.1 L631.9,514.6 L633.5,515.2 L635.2,515.2 L636.8,515.5 L638.5,515.0 L640.1,515.1 L641.8,515.4 L643.4,514.5 L645.1,515.1 L646.7,514.4" fill="none" stroke="#f1b873" stroke-width="3.3" stroke-linejoin="round" stroke-linecap="round"/>
<path d="M153.2,444.2 L154.8,441.4 L156.5,435.7 L157.3,432.2 L158.1,434.3 L159.8,441.2 L161.4,447.5 L163.1,447.0 L164.7,446.3 L166.4,446.3 L166.9,446.9 L168.0,444.6 L169.6,435.9 L171.3,433.8 L172.4,429.4 L172.9,436.1 L174.6,441.2 L175.1,444.3 L176.2,439.2 L177.9,434.8 L179.5,442.7 L180.6,449.2 L181.2,450.9 L182.8,463.5 L184.5,469.0 L186.1,471.5 L187.7,469.6 L189.4,473.0 L191.0,474.4 L192.7,471.9 L194.3,473.5 L196.0,476.5 L197.6,477.6 L199.3,482.7 L199.8,486.6 L200.9,485.3 L202.5,483.8 L204.2,486.9 L205.8,485.5 L207.5,487.7 L208.0,486.1 L209.1,489.7 L210.8,489.9 L212.4,494.7 L214.1,498.5 L215.7,498.5 L216.3,499.6 L217.4,500.3 L219.0,503.6 L220.6,502.3 L222.3,500.4 L223.9,502.1 L225.6,505.0 L227.2,501.4 L228.9,503.5 L230.5,504.9 L232.2,506.3 L233.8,506.4 L235.4,506.0 L237.1,510.9 L238.7,507.8 L240.4,509.5 L242.0,506.9 L243.7,507.6 L245.3,508.0 L247.0,507.5 L248.6,505.6 L249.2,505.4 L250.3,509.9 L251.9,503.9 L253.5,505.6 L255.2,507.7 L256.8,501.7 L258.5,504.2 L260.1,503.0 L261.8,499.4 L262.9,500.6 L263.4,500.0 L265.1,498.4 L266.7,500.1 L268.4,505.3 L270.0,501.7 L271.6,503.5 L273.3,503.6 L274.9,503.8 L276.6,501.6 L278.2,501.9 L279.9,502.7 L281.5,500.7 L283.2,502.5 L284.8,503.3 L286.4,501.4 L288.1,502.3 L289.7,503.1 L290.3,501.7 L291.4,502.1 L293.0,502.9 L294.7,502.9 L296.3,503.5 L298.0,504.2 L299.6,498.5 L301.2,501.7 L302.9,505.9 L304.5,501.6 L306.2,502.9 L307.8,503.1 L309.5,501.8 L311.1,500.6 L312.8,499.1 L314.4,501.0 L316.1,500.8 L317.7,499.4 L319.3,502.9 L321.0,500.5 L322.6,499.1 L324.3,493.8 L325.9,494.9 L327.6,495.0 L329.2,493.5 L330.9,492.9 L331.4,489.9 L332.5,492.3 L334.1,494.0 L335.8,496.4 L337.4,498.8 L339.1,502.1 L339.6,504.6 L340.7,503.1 L342.4,503.7 L344.0,503.5 L345.1,501.3 L345.7,504.7 L347.3,502.1 L349.0,501.9 L350.6,502.2 L352.2,502.7 L353.9,501.5 L355.5,501.5 L357.2,502.4 L358.8,502.0 L360.5,501.1 L361.6,497.7 L362.1,492.6 L363.8,499.0 L365.4,495.7 L367.0,497.1 L368.7,496.0 L370.3,496.4 L372.0,498.2 L372.5,497.6 L373.6,498.5 L375.3,498.6 L376.9,498.6 L378.6,498.3 L380.2,499.3 L381.9,498.7 L383.5,498.7 L385.1,498.9 L386.8,498.6 L388.4,497.9 L390.1,498.7 L391.7,498.0 L393.4,498.1 L395.0,498.7 L396.7,498.7 L398.3,498.6 L399.9,498.7 L401.6,497.6 L403.2,498.5 L404.9,498.5 L406.5,498.9 L408.2,498.8 L409.8,498.8 L411.5,498.8 L413.1,498.5 L414.8,498.3 L416.4,498.7 L418.0,499.2 L419.7,498.0 L421.3,498.5 L423.0,498.6 L424.6,499.0 L426.3,498.5 L427.9,498.6 L429.6,498.4 L431.2,498.6 L432.8,498.4 L434.5,498.6 L436.1,497.3 L437.8,499.4 L439.4,498.5 L441.1,499.6 L442.7,498.5 L444.4,498.7 L446.0,499.0 L447.7,498.2 L449.3,498.9 L450.9,499.2 L452.6,498.7 L454.2,498.8 L455.9,499.4 L457.5,498.0 L459.2,498.8 L460.8,498.8 L462.5,499.5 L464.1,498.1 L465.8,498.6 L467.4,498.4 L469.0,498.4 L470.7,499.1 L472.3,498.9 L474.0,498.2 L475.6,498.7 L477.3,498.0 L478.9,498.8 L480.6,498.1 L482.2,498.1 L483.8,498.9 L485.5,498.7 L487.1,498.4 L488.8,498.7 L490.4,498.6 L492.1,498.5 L493.7,499.0 L495.4,498.9 L497.0,498.5 L498.6,498.7 L500.3,499.0 L501.9,498.8 L503.6,498.5 L505.2,498.4 L506.9,498.5 L508.5,498.5 L510.2,497.9 L511.8,498.7 L513.5,498.8 L515.1,498.3 L516.7,498.5 L518.4,498.7 L520.0,498.9 L521.7,498.8 L523.3,498.5 L525.0,498.5 L526.6,499.1 L528.3,499.7 L529.9,498.1 L531.5,498.9 L533.2,498.6 L534.8,499.0 L536.5,499.5 L538.1,499.2 L539.8,499.2 L541.4,498.9 L543.1,498.7 L544.7,498.7 L546.4,498.7 L548.0,498.1 L549.6,498.6 L551.3,498.2 L552.9,498.5 L554.6,499.2 L556.2,499.2 L557.9,498.2 L559.5,498.8 L561.2,498.2 L562.8,498.9 L564.5,499.3 L566.1,499.0 L567.7,498.7 L569.4,499.1 L571.0,498.2 L572.7,498.6 L574.3,498.6 L576.0,499.0 L577.6,497.8 L579.3,498.4 L580.9,499.0 L582.5,498.1 L584.2,498.8 L585.8,498.3 L587.5,499.0 L589.1,498.9 L590.8,498.1 L592.4,498.8 L594.1,498.9 L595.7,498.2 L597.3,498.6 L599.0,499.3 L600.6,498.1 L602.3,498.5 L603.9,498.2 L605.6,498.9 L607.2,498.5 L608.9,498.4 L610.5,499.3 L612.2,498.8 L613.8,498.5 L615.4,499.0 L617.1,498.3 L618.7,498.5 L620.4,499.0 L622.0,498.8 L623.7,498.8 L625.3,498.4 L627.0,498.8 L628.6,498.5 L630.2,498.7 L631.9,498.8 L633.5,498.0 L635.2,497.8 L636.8,498.2 L638.5,498.5 L640.1,498.8 L641.8,498.6 L643.4,499.1 L645.1,497.9 L646.7,498.5" fill="none" stroke="#e8717d" stroke-width="3.3" stroke-linejoin="round" stroke-linecap="round"/>
<path d="M153.2,419.1 L154.8,408.9 L156.5,395.9 L157.3,391.7 L158.1,388.6 L159.8,388.5 L161.4,388.8 L163.1,391.0 L164.7,395.7 L165.5,398.8 L166.4,387.5 L168.0,371.2 L169.6,349.3 L171.3,364.5 L172.9,380.1 L174.6,393.7 L175.1,396.9 L176.2,402.0 L177.9,403.1 L179.5,407.9 L180.6,407.7 L181.2,410.3 L182.8,415.3 L184.5,424.4 L186.1,431.1 L187.7,421.3 L189.4,416.2 L190.2,409.6 L191.0,420.9 L192.7,440.5 L194.3,456.3 L196.0,466.5 L197.6,477.9 L199.3,485.0 L199.8,488.3 L200.9,490.0 L202.5,487.8 L204.2,485.2 L205.8,483.4 L207.5,482.1 L208.0,479.6 L209.1,467.8 L210.8,448.6 L212.4,429.9 L214.1,410.6 L214.9,402.6 L215.7,416.4 L217.4,443.5 L219.0,471.1 L220.6,449.5 L222.3,430.5 L223.1,422.3 L223.9,434.5 L225.6,455.0 L227.2,479.9 L228.9,455.6 L230.5,434.6 L232.2,409.4 L232.7,400.3 L233.8,411.9 L235.4,433.2 L237.1,451.4 L238.2,464.2 L238.7,453.0 L240.4,422.2 L240.9,410.7 L242.0,429.7 L243.7,455.7 L245.3,430.1 L246.4,412.3 L247.0,423.3 L248.6,453.1 L250.3,487.5 L250.5,491.8 L251.9,493.2 L253.5,495.4 L254.6,502.9 L255.2,501.8 L256.8,502.9 L258.5,505.0 L260.1,504.6 L261.8,490.2 L262.9,481.0 L263.4,483.3 L265.1,497.5 L265.6,502.6 L266.7,499.5 L268.4,489.6 L270.0,471.7 L271.6,458.6 L273.3,441.7 L273.8,439.4 L274.9,462.0 L276.6,497.6 L278.2,492.1 L279.9,486.7 L281.5,485.7 L282.1,482.6 L283.2,493.4 L284.8,511.0 L286.4,491.5 L288.1,474.6 L289.7,456.1 L290.3,451.7 L291.4,468.3 L293.0,495.8 L294.7,482.8 L295.8,474.4 L296.3,481.9 L298.0,499.1 L298.5,502.0 L299.6,496.6 L301.2,487.6 L302.9,499.5 L304.0,509.4 L304.5,510.0 L306.2,505.1 L307.8,500.1 L309.5,496.6 L311.1,499.6 L312.8,501.8 L314.4,507.1 L315.0,504.5 L316.1,504.9 L317.7,499.0 L319.3,497.0 L320.4,497.4 L321.0,497.6 L322.6,499.3 L324.3,498.8 L325.9,499.3 L327.6,487.4 L329.2,474.0 L330.0,469.0 L330.9,479.6 L332.5,498.8 L332.8,503.6 L334.1,510.4 L335.8,509.4 L337.4,510.4 L339.1,510.5 L340.7,510.3 L342.4,509.9 L344.0,510.5 L345.7,510.0 L347.3,509.4 L349.0,510.0 L350.6,509.7 L352.2,510.7 L353.9,510.3 L355.5,510.4 L357.2,509.8 L358.8,510.0 L360.5,509.6 L362.1,510.0 L363.8,509.9 L365.4,510.6 L367.0,510.2 L368.7,509.4 L370.3,510.6 L372.0,510.2 L373.6,510.1 L375.3,510.5 L376.9,510.4 L378.6,510.1 L380.2,510.2 L381.9,510.1 L383.5,510.3 L385.1,509.7 L386.8,510.9 L388.4,510.5 L390.1,510.2 L391.7,510.2 L393.4,510.3 L395.0,510.5 L396.7,510.7 L398.3,509.7 L399.9,510.3 L401.6,510.3 L403.2,511.0 L404.9,510.3 L406.5,509.9 L408.2,510.0 L409.8,510.1 L411.5,510.4 L413.1,509.7 L414.8,509.6 L416.4,510.3 L418.0,509.9 L419.7,509.6 L421.3,510.1 L423.0,509.7 L424.6,510.8 L426.3,510.7 L427.9,510.1 L429.6,509.8 L431.2,510.2 L432.8,509.9 L434.5,510.0 L436.1,509.8 L437.8,510.2 L439.4,509.9 L441.1,510.0 L442.7,510.3 L444.4,510.2 L446.0,510.1 L447.7,509.5 L449.3,509.9 L450.9,510.0 L452.6,510.9 L454.2,509.7 L455.9,509.8 L457.5,510.3 L459.2,509.6 L460.8,510.4 L462.5,510.3 L464.1,510.3 L465.8,510.3 L467.4,510.7 L469.0,510.3 L470.7,510.5 L472.3,510.6 L474.0,510.0 L475.6,510.2 L477.3,510.0 L478.9,510.9 L480.6,510.4 L482.2,510.2 L483.8,510.2 L485.5,510.2 L487.1,510.1 L488.8,510.7 L490.4,509.7 L492.1,510.1 L493.7,510.7 L495.4,510.1 L497.0,510.2 L498.6,510.1 L500.3,509.9 L501.9,510.1 L503.6,510.0 L505.2,510.0 L506.9,510.6 L508.5,510.6 L510.2,509.9 L511.8,509.7 L513.5,510.6 L515.1,510.1 L516.7,509.8 L518.4,510.2 L520.0,510.5 L521.7,510.3 L523.3,509.9 L525.0,509.8 L526.6,509.6 L528.3,510.2 L529.9,510.0 L531.5,509.8 L533.2,510.0 L534.8,509.8 L536.5,510.3 L538.1,510.1 L539.8,511.0 L541.4,509.7 L543.1,510.5 L544.7,509.8 L546.4,509.8 L548.0,510.2 L549.6,510.3 L551.3,509.8 L552.9,510.1 L554.6,510.0 L556.2,509.8 L557.9,509.7 L559.5,510.0 L561.2,510.7 L562.8,510.0 L564.5,509.9 L566.1,509.7 L567.7,510.4 L569.4,510.5 L571.0,509.8 L572.7,510.1 L574.3,510.0 L576.0,509.6 L577.6,510.5 L579.3,510.5 L580.9,510.1 L582.5,509.8 L584.2,510.3 L585.8,510.1 L587.5,510.1 L589.1,510.3 L590.8,510.3 L592.4,510.3 L594.1,510.8 L595.7,509.6 L597.3,510.1 L599.0,510.0 L600.6,510.5 L602.3,509.8 L603.9,509.9 L605.6,510.3 L607.2,510.5 L608.9,510.4 L610.5,510.2 L612.2,510.2 L613.8,509.9 L615.4,510.1 L617.1,510.2 L618.7,510.5 L620.4,510.4 L622.0,510.5 L623.7,510.0 L625.3,510.1 L627.0,510.5 L628.6,509.6 L630.2,509.9 L631.9,509.2 L633.5,510.3 L635.2,510.1 L636.8,510.2 L638.5,510.3 L640.1,510.2 L641.8,510.0 L643.4,510.3 L645.1,510.8 L646.7,510.1" fill="none" stroke="#e8717d" stroke-width="3.3" stroke-linejoin="round" stroke-linecap="round"/>
<path d="M153.2,490.1 L154.8,489.1 L156.5,488.7 L158.1,487.6 L158.7,486.6 L159.8,487.4 L161.4,489.6 L163.1,490.3 L164.7,492.9 L166.4,492.4 L166.9,493.4 L168.0,495.1 L169.6,497.6 L171.3,500.6 L172.9,501.7 L174.6,504.9 L175.1,507.6 L176.2,506.3 L177.9,509.1 L179.5,511.1 L180.6,514.4 L181.2,513.7 L182.8,514.6 L184.5,515.4 L186.1,515.5 L187.7,515.3 L188.8,516.6 L189.4,516.7 L191.0,516.8 L192.7,518.0 L194.3,517.2 L196.0,516.5 L197.6,517.0 L199.3,517.9 L200.9,517.3 L202.5,517.4 L204.2,517.7 L205.8,517.6 L207.5,517.2 L208.0,518.1 L209.1,518.1 L210.8,519.0 L212.4,518.7 L214.1,518.0 L215.7,517.1 L217.4,518.8 L219.0,518.6 L220.6,518.8 L222.3,517.9 L223.9,517.4 L225.6,518.1 L227.2,517.5 L228.9,518.6 L230.5,518.4 L232.2,518.0 L233.8,517.1 L235.4,518.9 L237.1,518.3 L238.7,518.5 L240.4,518.7 L242.0,518.8 L243.7,518.5 L245.3,518.5 L247.0,518.7 L248.6,518.7 L250.3,518.6 L251.9,518.7 L253.5,518.4 L255.2,518.5 L256.8,518.2 L258.5,518.6 L260.1,518.4 L261.8,518.5 L263.4,518.6 L265.1,518.8 L266.7,518.5 L268.4,518.9 L270.0,518.5 L271.6,518.7 L273.3,518.8 L274.9,518.1 L276.6,518.6 L278.2,518.7 L279.9,518.5 L281.5,518.6 L283.2,518.5 L284.8,518.6 L286.4,518.6 L288.1,518.7 L289.7,518.8 L291.4,518.9 L293.0,518.7 L294.7,518.4 L296.3,518.6 L298.0,518.6 L299.6,518.4 L301.2,518.6 L302.9,518.8 L304.5,518.8 L306.2,518.6 L307.8,518.4 L309.5,519.0 L311.1,518.8 L312.8,518.9 L314.4,519.0 L316.1,518.6 L317.7,518.9 L319.3,518.5 L321.0,518.9 L322.6,518.6 L324.3,519.0 L325.9,518.8 L327.6,518.6 L329.2,519.1 L330.9,518.8 L332.5,519.1 L334.1,519.0 L335.8,518.7 L337.4,519.2 L339.1,518.8 L340.7,518.9 L342.4,518.9 L344.0,518.9 L345.7,518.8 L347.3,519.0 L349.0,518.6 L350.6,518.9 L352.2,518.9 L353.9,518.9 L355.5,519.1 L357.2,519.0 L358.8,518.9 L360.5,518.9 L362.1,518.9 L363.8,518.8 L365.4,519.1 L367.0,518.7 L368.7,518.9 L370.3,519.1 L372.0,519.0 L373.6,519.1 L375.3,518.9 L376.9,518.7 L378.6,518.9 L380.2,518.9 L381.9,519.1 L383.5,519.3 L385.1,519.2 L386.8,518.4 L388.4,519.0 L390.1,518.9 L391.7,518.9 L393.4,519.0 L395.0,519.0 L396.7,519.0 L398.3,519.0 L399.9,519.3 L401.6,519.0 L403.2,519.4 L404.9,519.1 L406.5,519.0 L408.2,519.2 L409.8,519.3 L411.5,519.0 L413.1,519.1 L414.8,519.1 L416.4,519.1 L418.0,519.3 L419.7,519.3 L421.3,519.0 L423.0,519.2 L424.6,519.0 L426.3,519.1 L427.9,519.0 L429.6,519.3 L431.2,519.0 L432.8,519.0 L434.5,519.4 L436.1,519.3 L437.8,519.4 L439.4,519.2 L441.1,519.3 L442.7,519.2 L444.4,519.3 L446.0,519.1 L447.7,519.4 L449.3,519.4 L450.9,519.7 L452.6,519.1 L454.2,519.3 L455.9,519.2 L457.5,519.2 L459.2,519.3 L460.8,519.1 L462.5,519.3 L464.1,519.4 L465.8,519.4 L467.4,519.3 L469.0,519.3 L470.7,519.3 L472.3,519.1 L474.0,519.2 L475.6,519.4 L477.3,519.1 L478.9,519.4 L480.6,519.5 L482.2,519.6 L483.8,519.3 L485.5,519.6 L487.1,519.3 L488.8,519.1 L490.4,519.3 L492.1,519.0 L493.7,519.5 L495.4,519.4 L497.0,519.7 L498.6,519.4 L500.3,519.4 L501.9,519.6 L503.6,519.4 L505.2,519.8 L506.9,519.7 L508.5,519.5 L510.2,519.3 L511.8,519.4 L513.5,519.1 L515.1,519.6 L516.7,519.7 L518.4,519.7 L520.0,519.5 L521.7,519.4 L523.3,519.6 L525.0,519.3 L526.6,519.6 L528.3,519.5 L529.9,519.7 L531.5,519.7 L533.2,519.8 L534.8,519.3 L536.5,519.5 L538.1,519.7 L539.8,519.4 L541.4,519.5 L543.1,519.6 L544.7,519.5 L546.4,519.6 L548.0,519.6 L549.6,519.7 L551.3,519.7 L552.9,519.8 L554.6,519.9 L556.2,519.9 L557.9,519.7 L559.5,519.6 L561.2,519.6 L562.8,519.8 L564.5,519.7 L566.1,519.8 L567.7,519.3 L569.4,519.8 L571.0,519.7 L572.7,519.4 L574.3,519.6 L576.0,519.5 L577.6,519.6 L579.3,519.7 L580.9,519.4 L582.5,519.8 L584.2,519.8 L585.8,519.6 L587.5,519.8 L589.1,519.9 L590.8,519.9 L592.4,520.0 L594.1,519.9 L595.7,519.9 L597.3,520.0 L599.0,519.7 L600.6,519.8 L602.3,519.9 L603.9,519.9 L605.6,519.9 L607.2,519.9 L608.9,519.8 L610.5,519.7 L612.2,519.7 L613.8,519.6 L615.4,520.0 L617.1,520.3 L618.7,520.0 L620.4,519.8 L622.0,519.9 L623.7,519.7 L625.3,519.9 L627.0,519.8 L628.6,520.0 L630.2,520.1 L631.9,520.0 L633.5,520.0 L635.2,519.9 L636.8,520.2 L638.5,520.2 L640.1,519.8 L641.8,520.2 L643.4,520.1 L645.1,520.2 L646.7,519.9" fill="none" stroke="#ee9a9c" stroke-width="3.3" stroke-linejoin="round" stroke-linecap="round"/>
<rect x="597.8" y="301.5" width="50.6" height="46.6" fill="none" stroke="#a3d9e3" stroke-width="3" stroke-dasharray="9.5,9.5"/>
<path d="M153.2,198.6 V544.2 M138.6,529.9 H648.4" stroke="#000" stroke-width="3.6" fill="none"/>
<path d="M138.6,447.5 H153.2" stroke="#000" stroke-width="3.6"/>
<path d="M138.6,365.1 H153.2" stroke="#000" stroke-width="3.6"/>
<path d="M138.6,282.7 H153.2" stroke="#000" stroke-width="3.6"/>
<path d="M138.6,200.3 H153.2" stroke="#000" stroke-width="3.6"/>
<path d="M235.4,529.9 V544.2" stroke="#000" stroke-width="3.6"/>
<path d="M317.7,529.9 V544.2" stroke="#000" stroke-width="3.6"/>
<path d="M399.9,529.9 V544.2" stroke="#000" stroke-width="3.6"/>
<path d="M482.2,529.9 V544.2" stroke="#000" stroke-width="3.6"/>
<path d="M564.5,529.9 V544.2" stroke="#000" stroke-width="3.6"/>
<path d="M646.7,529.9 V544.2" stroke="#000" stroke-width="3.6"/>
<rect x="1244" y="208.7" width="287.3" height="226.7" rx="6" fill="#e2f2f7"/>
<rect x="1244" y="461.6" width="287.3" height="65.4" rx="6" fill="#f8ebe8"/>
<path d="M1034.9,488.2 L1036.5,484.1 L1038.2,482.9 L1039.8,483.0 L1041.5,480.5 L1043.1,482.1 L1044.8,480.0 L1046.4,479.1 L1048.0,478.2 L1049.7,479.4 L1051.3,474.9 L1053.0,476.4 L1054.6,474.8 L1056.2,473.9 L1057.9,475.6 L1059.5,474.7 L1061.2,472.1 L1062.3,472.6 L1062.8,472.6 L1064.5,471.4 L1066.1,469.2 L1067.7,469.0 L1069.4,470.3 L1071.0,467.0 L1072.7,465.3 L1074.3,465.1 L1076.0,461.8 L1077.6,464.3 L1079.2,462.4 L1080.9,458.4 L1082.5,459.3 L1084.2,457.6 L1085.8,456.7 L1087.4,455.3 L1089.1,454.5 L1089.6,456.1 L1090.7,451.4 L1092.4,453.3 L1094.0,451.7 L1095.7,449.6 L1097.3,448.3 L1098.9,448.2 L1100.6,449.2 L1102.2,447.9 L1103.9,444.2 L1105.5,443.7 L1107.1,441.7 L1108.8,440.9 L1110.4,442.1 L1112.1,440.3 L1113.7,436.3 L1115.4,438.8 L1117.0,438.8 L1118.6,434.1 L1120.3,436.6 L1121.9,434.1 L1123.6,437.3 L1125.2,435.7 L1126.9,433.8 L1128.5,433.5 L1130.1,432.3 L1130.7,431.9 L1131.8,432.0 L1133.4,434.1 L1135.1,429.9 L1136.7,429.6 L1138.3,430.4 L1140.0,429.7 L1141.6,432.3 L1143.3,428.5 L1144.4,427.4 L1144.9,429.6 L1146.6,429.3 L1148.2,431.2 L1149.8,429.4 L1151.5,429.2 L1153.1,433.1 L1154.8,434.2 L1156.4,435.5 L1158.1,433.2 L1159.7,434.9 L1161.3,435.9 L1163.0,436.4 L1164.6,438.1 L1166.3,439.0 L1167.9,437.6 L1169.5,439.9 L1171.2,439.2 L1171.7,439.5 L1172.8,437.7 L1174.5,440.6 L1176.1,444.8 L1177.8,441.7 L1179.4,443.0 L1181.0,443.3 L1182.7,445.7 L1184.3,445.3 L1185.4,447.2 L1186.0,447.7 L1187.6,445.2 L1189.2,448.1 L1190.9,446.2 L1192.5,444.7 L1194.2,446.9 L1195.8,448.5 L1197.5,448.7 L1199.1,450.1 L1200.7,447.4 L1202.4,447.0 L1204.0,446.8 L1205.7,444.6 L1207.3,446.4 L1209.0,443.9 L1210.6,444.3 L1212.2,444.2 L1212.8,444.5 L1213.9,440.5 L1215.5,432.7 L1217.2,424.9 L1218.3,419.9 L1218.8,419.9 L1220.4,433.4 L1221.0,436.9 L1222.1,412.0 L1223.7,376.1 L1225.4,349.7 L1226.5,332.3 L1227.0,336.5 L1228.7,341.8 L1229.2,341.5 L1230.3,366.9 L1231.9,397.6 L1233.6,429.3 L1234.7,450.2 L1235.2,434.8 L1236.9,396.1 L1237.4,383.7 L1238.5,383.9 L1240.2,382.6 L1241.8,404.5 L1243.4,425.7 L1245.1,446.4 L1245.6,455.3 L1246.7,442.0 L1248.4,421.3 L1249.7,411.0 L1250.0,403.0 L1251.6,374.8 L1252.5,357.6 L1253.3,371.2 L1254.9,404.2 L1255.2,409.4 L1256.6,425.2 L1258.2,443.9 L1259.3,456.5 L1259.9,459.9 L1261.5,454.3 L1263.1,455.4 L1264.8,452.6 L1266.4,457.9 L1268.1,457.5 L1269.7,459.0 L1271.3,460.4 L1273.0,461.5 L1274.6,461.5 L1276.3,461.1 L1277.9,460.7 L1279.6,460.1 L1281.2,460.2 L1282.8,460.1 L1284.5,460.5 L1286.1,460.3 L1287.8,459.7 L1289.4,459.6 L1291.1,459.7 L1292.7,459.3 L1294.3,459.0 L1294.9,459.3 L1296.0,459.0 L1297.6,459.6 L1299.3,460.3 L1300.9,460.3 L1302.5,460.6 L1304.2,460.8 L1305.8,460.7 L1307.5,460.9 L1308.6,461.1 L1309.1,461.3 L1310.8,461.3 L1312.4,460.7 L1314.0,461.6 L1315.7,461.2 L1317.3,461.2 L1319.0,460.6 L1320.6,461.3 L1322.2,460.8 L1323.9,461.1 L1325.5,461.0 L1327.2,460.7 L1328.8,461.0 L1330.5,460.5 L1332.1,460.4 L1333.7,460.4 L1335.4,460.3 L1335.9,459.9 L1337.0,460.0 L1338.7,460.4 L1340.3,460.4 L1342.0,460.0 L1343.6,460.2 L1345.2,460.4 L1346.9,459.6 L1348.5,459.7 L1350.2,459.4 L1351.8,459.9 L1353.4,459.1 L1355.1,459.4 L1356.7,459.2 L1358.4,459.5 L1360.0,459.9 L1361.7,459.0 L1363.3,459.3 L1364.9,459.3 L1366.6,459.1 L1368.2,459.1 L1369.9,458.2 L1371.5,458.3 L1373.2,458.6 L1374.8,457.9 L1376.4,457.9 L1378.1,457.8 L1379.7,457.8 L1381.4,457.3 L1383.0,457.5 L1384.6,457.5 L1386.3,457.6 L1387.9,457.3 L1389.6,457.4 L1390.7,457.4 L1391.2,456.8 L1392.9,457.2 L1394.5,456.6 L1396.1,456.6 L1397.8,455.9 L1399.4,455.8 L1401.1,455.9 L1402.7,455.8 L1404.3,455.4 L1406.0,455.3 L1407.6,454.8 L1409.3,454.7 L1410.9,455.0 L1412.6,453.8 L1414.2,454.1 L1415.8,454.2 L1417.5,453.7 L1418.0,453.9 L1419.1,453.6 L1420.8,453.7 L1422.4,453.0 L1424.1,452.8 L1425.7,452.0 L1427.3,452.0 L1429.0,451.4 L1430.6,451.4 L1432.3,451.2 L1433.9,450.4 L1435.5,449.6 L1437.2,449.8 L1438.8,449.7 L1440.5,449.4 L1442.1,449.1 L1443.8,448.6 L1445.4,447.9 L1447.0,447.7 L1448.7,447.2 L1450.3,446.6 L1452.0,446.4 L1453.6,445.7 L1455.3,444.9 L1456.9,444.2 L1458.5,444.5 L1460.2,442.9 L1461.8,442.6 L1463.5,442.5 L1465.1,441.8 L1466.7,441.8 L1468.4,440.6 L1470.0,440.1 L1471.7,439.8 L1472.8,439.5 L1473.3,438.9 L1475.0,438.5 L1476.6,437.5 L1478.2,437.1 L1479.9,437.2 L1481.5,435.6 L1483.2,435.2 L1484.8,434.4 L1486.5,434.3 L1488.1,434.0 L1489.7,432.8 L1491.4,432.1 L1493.0,431.6 L1494.7,430.3 L1496.3,429.5 L1497.9,429.5 L1499.6,428.4 L1500.1,428.7 L1501.2,428.4 L1502.9,428.0 L1504.5,427.0 L1506.2,426.5 L1507.8,425.6 L1509.4,424.8 L1511.1,423.7 L1512.7,423.3 L1514.4,422.2 L1516.0,422.2 L1517.6,422.2 L1519.3,421.5 L1520.9,420.6 L1522.6,419.4 L1524.2,418.1 L1525.9,417.9 L1527.5,417.9" fill="none" stroke="#d6e2f2" stroke-width="3.1" stroke-linejoin="round" stroke-linecap="round"/>
<path d="M1034.9,488.4 L1036.5,486.0 L1038.2,484.2 L1039.8,482.1 L1041.5,485.3 L1043.1,483.4 L1044.8,482.6 L1046.4,480.8 L1048.0,479.5 L1049.7,480.0 L1051.3,476.8 L1053.0,478.1 L1054.6,474.4 L1056.2,475.3 L1057.9,472.6 L1059.5,471.3 L1061.2,471.0 L1062.3,471.0 L1062.8,470.8 L1064.5,470.1 L1066.1,465.3 L1067.7,465.4 L1069.4,462.5 L1071.0,463.3 L1072.7,462.2 L1074.3,462.3 L1076.0,460.6 L1077.6,461.3 L1079.2,456.6 L1080.9,455.4 L1082.5,453.5 L1084.2,452.4 L1085.8,454.6 L1087.4,455.5 L1089.1,449.8 L1089.6,450.1 L1090.7,451.3 L1092.4,450.4 L1094.0,447.2 L1095.7,445.1 L1097.3,446.1 L1098.9,446.9 L1100.6,444.0 L1102.2,442.9 L1103.9,445.2 L1105.5,441.8 L1107.1,443.4 L1108.8,441.2 L1110.4,439.8 L1112.1,439.6 L1113.7,440.9 L1115.4,437.5 L1117.0,439.2 L1118.6,435.5 L1120.3,438.4 L1121.9,435.6 L1123.6,434.8 L1125.2,434.3 L1126.9,432.3 L1128.5,431.4 L1130.1,428.5 L1130.7,430.1 L1131.8,428.8 L1133.4,431.4 L1135.1,427.8 L1136.7,427.6 L1138.3,426.4 L1140.0,425.8 L1141.6,428.4 L1143.3,428.5 L1144.4,427.4 L1144.9,427.4 L1146.6,425.1 L1148.2,430.3 L1149.8,428.0 L1151.5,427.2 L1153.1,429.4 L1154.8,431.7 L1156.4,431.4 L1158.1,430.0 L1159.7,430.2 L1161.3,432.0 L1163.0,431.8 L1164.6,430.9 L1166.3,433.8 L1167.9,431.1 L1169.5,435.8 L1171.2,432.3 L1171.7,437.1 L1172.8,433.4 L1174.5,435.5 L1176.1,438.0 L1177.8,435.9 L1179.4,435.6 L1181.0,435.8 L1182.7,436.7 L1184.3,437.4 L1185.4,437.7 L1186.0,437.0 L1187.6,434.9 L1189.2,435.4 L1190.9,434.6 L1192.5,434.8 L1194.2,432.5 L1195.8,430.6 L1197.5,430.4 L1199.1,434.6 L1200.7,433.9 L1202.4,433.9 L1204.0,432.6 L1205.7,429.1 L1207.3,432.1 L1209.0,431.2 L1210.6,431.4 L1212.2,433.5 L1212.8,432.4 L1213.9,431.6 L1215.5,431.5 L1217.2,430.5 L1218.8,430.4 L1220.4,429.8 L1222.1,431.5 L1223.7,427.6 L1225.4,428.0 L1226.5,429.5 L1227.0,429.2 L1228.7,429.7 L1230.3,431.1 L1231.9,427.4 L1233.6,428.9 L1235.2,426.7 L1236.9,426.0 L1238.5,429.9 L1240.2,429.6 L1241.8,427.2 L1243.4,428.6 L1245.1,428.7 L1246.7,428.3 L1248.4,427.1 L1250.0,429.5 L1251.6,427.4 L1253.3,425.9 L1253.8,428.2 L1254.9,427.9 L1256.6,426.6 L1258.2,425.7 L1259.9,425.6 L1261.5,426.2 L1263.1,424.4 L1264.8,427.5 L1266.4,424.1 L1268.1,425.5 L1269.7,426.6 L1271.3,428.1 L1273.0,423.7 L1274.6,425.4 L1276.3,424.8 L1277.9,423.3 L1279.6,425.9 L1281.2,424.1 L1282.8,423.9 L1284.5,422.8 L1286.1,424.6 L1287.8,422.4 L1289.4,425.7 L1291.1,424.9 L1292.7,425.7 L1294.3,426.1 L1296.0,422.2 L1297.6,424.2 L1299.3,424.6 L1300.9,424.2 L1302.5,424.2 L1304.2,426.4 L1305.8,424.9 L1307.5,423.6 L1308.6,425.9 L1309.1,424.4 L1310.8,424.6 L1312.4,425.4 L1314.0,425.8 L1315.7,424.7 L1317.3,423.5 L1319.0,423.0 L1320.6,425.9 L1322.2,423.4 L1323.9,422.7 L1325.5,425.9 L1327.2,425.3 L1328.8,422.6 L1330.5,422.2 L1332.1,422.4 L1333.7,420.9 L1335.4,422.1 L1335.9,421.1 L1337.0,423.0 L1338.7,422.9 L1340.3,424.1 L1342.0,422.7 L1343.6,423.3 L1345.2,423.5 L1346.9,421.7 L1348.5,422.0 L1350.2,423.1 L1351.8,422.1 L1353.4,421.9 L1355.1,421.7 L1356.7,423.2 L1358.4,421.2 L1360.0,422.7 L1361.7,421.6 L1363.3,422.7 L1364.9,418.9 L1366.6,423.7 L1368.2,420.1 L1369.9,422.8 L1371.5,419.0 L1373.2,422.9 L1374.8,420.0 L1376.4,421.1 L1378.1,419.4 L1379.7,422.5 L1381.4,421.0 L1383.0,419.7 L1384.6,419.0 L1386.3,421.0 L1387.9,422.7 L1389.6,420.4 L1390.7,420.8 L1391.2,419.4 L1392.9,419.2 L1394.5,419.2 L1396.1,417.1 L1397.8,414.0 L1398.9,414.6 L1399.4,415.8 L1401.1,413.8 L1402.7,416.1 L1404.3,414.4 L1406.0,413.1 L1407.6,412.9 L1409.3,412.7 L1410.9,411.3 L1412.6,408.1 L1414.2,410.2 L1415.8,409.0 L1417.5,406.6 L1418.0,412.3 L1419.1,407.8 L1420.8,403.9 L1422.4,405.1 L1424.1,401.4 L1425.7,396.7 L1426.2,397.7 L1427.3,397.7 L1429.0,395.1 L1430.6,401.1 L1432.3,396.9 L1433.9,400.5 L1435.5,398.3 L1437.2,398.2 L1438.8,399.1 L1440.5,399.8 L1442.1,398.4 L1443.8,399.2 L1445.4,398.8 L1447.0,398.5 L1448.7,398.9 L1450.3,397.1 L1452.0,400.1 L1453.6,402.1 L1455.3,401.8 L1456.9,399.4 L1458.5,400.8 L1460.2,399.4 L1461.8,398.6 L1463.5,396.4 L1465.1,400.2 L1466.7,397.6 L1468.4,400.1 L1470.0,396.8 L1471.7,401.0 L1472.8,395.6 L1473.3,398.1 L1475.0,394.3 L1476.6,396.9 L1478.2,398.3 L1479.9,397.3 L1481.5,397.4 L1483.2,395.7 L1484.8,394.1 L1486.5,395.3 L1488.1,395.8 L1489.7,395.5 L1491.4,392.3 L1493.0,395.9 L1494.7,393.3 L1496.3,395.3 L1497.9,394.9 L1499.6,392.6 L1500.1,395.7 L1501.2,390.6 L1502.9,389.8 L1504.5,392.9 L1506.2,392.3 L1507.8,390.2 L1509.4,389.7 L1511.1,389.6 L1512.7,386.3 L1514.4,383.6 L1516.0,386.5 L1517.6,384.6 L1519.3,385.5 L1520.9,384.2 L1522.6,384.2 L1524.2,382.9 L1524.8,382.2 L1525.9,385.6 L1527.5,388.7" fill="none" stroke="#c6d8ed" stroke-width="3.1" stroke-linejoin="round" stroke-linecap="round"/>
<path d="M1034.9,490.1 L1036.5,488.8 L1038.2,487.4 L1039.8,485.2 L1041.5,484.8 L1043.1,485.0 L1044.8,481.7 L1046.4,481.0 L1048.0,479.6 L1049.7,478.0 L1051.3,476.5 L1053.0,474.2 L1054.6,473.4 L1056.2,472.7 L1057.9,472.3 L1059.5,471.3 L1061.2,468.6 L1062.3,466.6 L1062.8,467.5 L1064.5,466.4 L1066.1,464.4 L1067.7,465.2 L1069.4,462.6 L1071.0,460.5 L1072.7,458.7 L1074.3,458.6 L1076.0,456.6 L1077.6,455.5 L1079.2,453.6 L1080.9,454.3 L1082.5,451.2 L1084.2,452.1 L1085.8,452.0 L1087.4,448.5 L1089.1,447.5 L1089.6,445.1 L1090.7,444.1 L1092.4,444.3 L1094.0,440.2 L1095.7,440.4 L1097.3,437.6 L1098.9,436.0 L1100.6,433.7 L1102.2,431.1 L1103.3,430.0 L1103.9,429.9 L1105.5,428.3 L1107.1,427.1 L1108.8,427.0 L1110.4,425.8 L1112.1,424.2 L1113.7,421.9 L1115.4,421.4 L1117.0,417.2 L1118.6,419.9 L1120.3,419.4 L1121.9,416.6 L1123.6,415.1 L1125.2,415.3 L1126.9,414.1 L1128.5,412.7 L1130.1,413.6 L1130.7,414.7 L1131.8,413.2 L1133.4,410.8 L1135.1,412.7 L1136.7,410.3 L1138.3,409.2 L1140.0,409.1 L1141.6,407.1 L1143.3,406.5 L1144.4,404.1 L1144.9,405.7 L1146.6,406.4 L1148.2,405.7 L1149.8,405.3 L1151.5,402.7 L1153.1,403.7 L1154.8,402.5 L1156.4,401.0 L1158.1,401.9 L1159.7,401.0 L1161.3,402.2 L1163.0,400.8 L1164.6,399.8 L1166.3,398.2 L1167.9,396.9 L1169.0,397.9 L1169.5,398.0 L1171.2,399.4 L1172.8,399.7 L1174.5,401.2 L1176.1,403.2 L1177.2,405.5 L1177.8,403.5 L1179.4,404.4 L1181.0,403.8 L1182.7,405.5 L1184.3,403.7 L1186.0,406.6 L1187.6,404.8 L1189.2,406.7 L1190.9,407.7 L1192.5,408.7 L1194.2,408.0 L1195.8,406.6 L1197.5,407.6 L1199.1,408.0 L1200.7,410.1 L1202.4,405.4 L1204.0,404.2 L1204.6,405.0 L1205.7,405.5 L1207.3,405.5 L1209.0,404.3 L1210.6,408.0 L1212.2,408.0 L1213.9,406.7 L1215.5,409.3 L1217.2,409.9 L1218.8,410.0 L1220.4,412.1 L1222.1,411.2 L1223.7,413.4 L1225.4,411.8 L1226.5,413.2 L1227.0,412.7 L1228.7,413.8 L1230.3,414.0 L1231.9,415.3 L1233.6,415.5 L1235.2,415.9 L1236.9,416.0 L1238.5,417.5 L1240.2,417.3 L1241.8,417.8 L1243.4,417.9 L1245.1,418.6 L1246.7,419.1 L1248.4,419.7 L1250.0,420.3 L1251.6,420.3 L1253.3,420.8 L1253.8,420.3 L1254.9,421.1 L1256.6,420.9 L1258.2,421.5 L1259.9,421.2 L1261.5,421.1 L1263.1,421.0 L1264.8,420.9 L1266.4,421.4 L1268.1,421.7 L1269.7,421.4 L1271.3,421.4 L1273.0,421.5 L1274.6,421.9 L1276.3,421.5 L1277.9,421.8 L1279.6,421.7 L1281.2,421.6 L1282.8,421.9 L1284.5,422.0 L1286.1,421.6 L1287.8,422.2 L1289.4,422.4 L1291.1,422.3 L1292.7,422.0 L1294.3,422.5 L1296.0,422.4 L1297.6,422.3 L1299.3,422.8 L1300.9,423.2 L1302.5,422.7 L1304.2,422.8 L1305.8,423.1 L1307.5,422.8 L1308.6,422.9 L1309.1,423.3 L1310.8,422.8 L1312.4,423.0 L1314.0,423.2 L1315.7,422.6 L1317.3,422.7 L1319.0,422.8 L1320.6,422.4 L1322.2,422.4 L1323.9,422.6 L1325.5,422.3 L1327.2,422.0 L1328.8,422.4 L1330.5,422.1 L1332.1,422.1 L1333.7,421.4 L1335.4,422.5 L1335.9,421.8 L1337.0,422.0 L1338.7,421.9 L1340.3,421.3 L1342.0,421.7 L1343.6,421.0 L1345.2,421.7 L1346.9,421.4 L1348.5,421.6 L1350.2,421.6 L1351.8,421.3 L1353.4,421.3 L1355.1,421.1 L1356.7,421.7 L1358.4,420.5 L1360.0,421.0 L1361.7,420.5 L1363.3,421.1 L1364.9,420.7 L1366.6,419.9 L1368.2,420.9 L1369.9,421.0 L1371.5,420.7 L1373.2,420.3 L1374.8,420.2 L1376.4,420.0 L1378.1,420.3 L1379.7,420.6 L1381.4,420.3 L1383.0,419.7 L1384.6,419.9 L1386.3,420.5 L1387.9,419.9 L1389.6,419.4 L1390.7,419.2 L1391.2,419.6 L1392.9,419.7 L1394.5,420.1 L1396.1,420.0 L1397.8,419.8 L1399.4,419.6 L1401.1,419.6 L1402.7,419.9 L1404.3,420.1 L1406.0,420.0 L1407.6,420.1 L1409.3,419.6 L1410.9,420.4 L1412.6,419.9 L1414.2,419.6 L1415.8,419.3 L1417.5,419.7 L1418.0,419.5 L1419.1,419.8 L1420.8,419.7 L1422.4,419.5 L1424.1,418.7 L1425.7,418.7 L1427.3,418.7 L1429.0,417.8 L1430.6,415.1 L1432.3,411.3 L1433.9,407.7 L1434.5,406.7 L1435.5,405.8 L1437.2,405.6 L1438.8,406.1 L1440.5,405.5 L1442.1,405.0 L1443.8,404.5 L1445.4,404.8 L1447.0,404.8 L1448.7,404.4 L1450.3,403.6 L1452.0,403.4 L1453.6,403.0 L1455.3,403.1 L1456.9,402.9 L1458.5,402.9 L1460.2,402.0 L1461.8,401.7 L1463.5,401.3 L1465.1,401.0 L1466.7,401.0 L1468.4,400.4 L1470.0,400.5 L1471.7,400.4 L1472.8,400.2 L1473.3,400.0 L1475.0,399.9 L1476.6,398.8 L1478.2,398.2 L1479.9,397.9 L1481.5,397.4 L1483.2,396.6 L1484.8,395.7 L1486.5,395.6 L1488.1,395.3 L1489.7,394.8 L1491.4,394.1 L1493.0,393.9 L1494.7,393.1 L1496.3,392.5 L1497.9,391.5 L1499.6,391.2 L1500.1,391.0 L1501.2,390.2 L1502.9,388.0 L1504.5,386.7 L1506.2,384.4 L1507.8,382.6 L1509.4,381.0 L1511.1,378.4 L1512.7,377.0 L1513.8,376.4 L1514.4,375.5 L1516.0,375.1 L1517.6,374.4 L1519.3,373.6 L1520.9,373.0 L1522.6,373.0 L1524.2,372.1 L1524.8,371.3 L1525.9,373.8 L1527.5,377.6" fill="none" stroke="#a9c5e4" stroke-width="3.1" stroke-linejoin="round" stroke-linecap="round"/>
<path d="M1034.9,488.3 L1036.5,487.7 L1038.2,485.5 L1039.8,483.4 L1041.5,483.5 L1043.1,482.4 L1044.8,480.1 L1046.4,476.7 L1048.0,474.0 L1048.6,474.4 L1049.7,474.8 L1051.3,470.0 L1053.0,471.4 L1054.6,468.4 L1056.2,466.6 L1057.9,463.9 L1059.5,461.1 L1061.2,462.1 L1062.3,459.6 L1062.8,458.0 L1064.5,457.0 L1066.1,453.2 L1067.7,450.3 L1069.4,449.3 L1071.0,446.6 L1072.7,442.6 L1074.3,440.2 L1076.0,437.1 L1077.6,431.2 L1079.2,429.0 L1080.9,425.8 L1082.5,423.4 L1084.2,417.9 L1085.8,416.1 L1087.4,409.8 L1089.1,406.5 L1089.6,408.8 L1090.7,406.3 L1092.4,402.9 L1094.0,400.7 L1095.7,399.3 L1097.3,396.9 L1098.9,392.4 L1100.6,391.4 L1102.2,390.1 L1103.3,387.2 L1103.9,385.2 L1105.5,382.6 L1107.1,382.5 L1108.8,381.1 L1110.4,379.8 L1112.1,377.6 L1113.7,374.6 L1115.4,372.0 L1117.0,370.2 L1118.6,370.9 L1120.3,368.7 L1121.9,367.9 L1123.6,367.3 L1125.2,369.6 L1126.9,366.1 L1128.5,365.4 L1130.1,362.7 L1130.7,364.2 L1131.8,363.2 L1133.4,363.1 L1135.1,361.8 L1136.7,362.1 L1138.3,361.5 L1140.0,360.7 L1141.6,361.0 L1143.3,361.0 L1144.4,361.9 L1144.9,361.6 L1146.6,361.0 L1148.2,361.5 L1149.8,361.3 L1151.5,361.4 L1153.1,361.4 L1154.8,362.1 L1156.4,360.7 L1158.1,361.4 L1159.7,361.3 L1161.3,360.6 L1163.0,361.6 L1164.6,360.8 L1166.3,360.9 L1167.9,361.2 L1169.5,360.5 L1171.2,360.8 L1171.7,360.6 L1172.8,360.6 L1174.5,360.3 L1176.1,359.8 L1177.8,360.7 L1179.4,360.0 L1181.0,360.4 L1182.7,360.2 L1184.3,360.6 L1186.0,360.3 L1187.6,360.0 L1189.2,359.6 L1190.9,359.7 L1192.5,359.6 L1194.2,359.5 L1195.8,360.0 L1197.5,359.1 L1199.1,359.6 L1200.7,359.3 L1202.4,359.5 L1204.0,359.4 L1205.7,359.3 L1207.3,360.1 L1209.0,358.9 L1210.6,359.4 L1212.2,359.2 L1213.9,359.4 L1215.5,359.4 L1217.2,359.8 L1218.8,359.6 L1220.4,360.1 L1222.1,359.5 L1223.7,359.0 L1225.4,360.0 L1226.5,359.7 L1227.0,359.6 L1228.7,359.2 L1230.3,359.3 L1231.9,359.7 L1233.6,359.7 L1235.2,359.9 L1236.9,360.0 L1238.5,360.1 L1240.2,360.1 L1241.8,360.1 L1243.4,360.1 L1245.1,360.4 L1246.7,360.1 L1248.4,360.4 L1250.0,360.3 L1251.6,360.9 L1253.3,360.7 L1253.8,360.5 L1254.9,360.4 L1256.6,360.5 L1258.2,360.0 L1259.9,360.4 L1261.5,359.9 L1263.1,359.8 L1264.8,359.9 L1266.4,359.9 L1268.1,359.8 L1269.7,360.0 L1271.3,360.2 L1273.0,359.9 L1274.6,359.9 L1276.3,359.8 L1277.9,359.8 L1279.6,359.8 L1281.2,359.4 L1282.8,359.0 L1284.5,359.6 L1286.1,359.8 L1287.8,359.4 L1289.4,359.5 L1291.1,359.4 L1292.7,359.4 L1294.3,359.0 L1296.0,358.7 L1297.6,358.2 L1299.3,359.1 L1300.9,359.1 L1302.5,358.7 L1304.2,358.6 L1305.8,358.0 L1307.5,358.1 L1308.6,358.6 L1309.1,358.9 L1310.8,358.0 L1312.4,358.2 L1314.0,357.6 L1315.7,357.8 L1317.3,357.7 L1319.0,357.9 L1320.6,357.4 L1322.2,357.0 L1323.9,357.4 L1325.5,357.0 L1327.2,357.0 L1328.8,356.5 L1330.5,356.6 L1332.1,356.3 L1333.7,356.3 L1335.4,356.5 L1335.9,356.5 L1337.0,355.7 L1338.7,356.1 L1340.3,356.1 L1342.0,355.9 L1343.6,355.1 L1345.2,355.4 L1346.9,355.0 L1348.5,355.8 L1350.2,354.4 L1351.8,354.9 L1353.4,354.4 L1355.1,354.7 L1356.7,354.5 L1358.4,354.1 L1360.0,353.7 L1361.7,354.1 L1363.3,354.2 L1364.9,353.3 L1366.6,352.6 L1368.2,353.2 L1369.9,352.6 L1371.5,351.8 L1373.2,351.7 L1374.8,351.8 L1376.4,350.8 L1378.1,350.4 L1379.7,349.8 L1381.4,349.3 L1383.0,349.6 L1384.6,349.0 L1386.3,348.5 L1387.9,347.9 L1389.6,347.9 L1390.7,347.4 L1391.2,347.5 L1392.9,346.6 L1394.5,346.0 L1396.1,346.1 L1397.8,345.2 L1399.4,345.2 L1401.1,344.4 L1402.7,344.4 L1404.3,343.5 L1406.0,342.8 L1407.6,342.4 L1409.3,342.7 L1410.9,341.7 L1412.6,341.4 L1414.2,340.4 L1415.8,340.2 L1417.5,339.5 L1418.0,339.9 L1419.1,339.7 L1420.8,339.5 L1422.4,338.2 L1424.1,337.9 L1425.7,337.2 L1427.3,336.8 L1429.0,336.2 L1430.6,335.3 L1432.3,335.5 L1433.9,334.5 L1435.5,333.8 L1437.2,333.4 L1438.8,332.6 L1440.5,332.6 L1442.1,332.0 L1443.8,331.6 L1445.4,331.0 L1447.0,329.9 L1448.7,330.2 L1450.3,329.3 L1452.0,328.7 L1453.6,328.0 L1455.3,327.5 L1456.9,326.6 L1458.5,326.1 L1460.2,325.1 L1461.8,324.8 L1463.5,324.7 L1465.1,324.3 L1466.7,323.4 L1468.4,322.8 L1470.0,322.1 L1471.7,321.1 L1472.8,321.0 L1473.3,321.2 L1475.0,320.4 L1476.6,319.1 L1478.2,319.2 L1479.9,318.0 L1481.5,317.4 L1483.2,317.3 L1484.8,316.6 L1486.5,315.5 L1488.1,314.9 L1489.7,314.0 L1491.4,313.5 L1493.0,313.3 L1494.7,311.8 L1496.3,311.6 L1497.9,311.0 L1499.6,310.3 L1500.1,310.5 L1501.2,309.9 L1502.9,308.7 L1504.5,308.0 L1506.2,307.6 L1507.8,306.7 L1509.4,306.1 L1511.1,305.4 L1512.7,304.6 L1514.4,304.1 L1516.0,303.3 L1517.6,302.4 L1519.3,301.6 L1520.9,300.9 L1522.6,300.2 L1524.2,299.3 L1524.8,299.1 L1525.9,301.8 L1527.5,305.9" fill="none" stroke="#a0bfe1" stroke-width="3.1" stroke-linejoin="round" stroke-linecap="round"/>
<path d="M1034.9,493.7 L1036.5,489.8 L1038.2,488.9 L1039.8,488.9 L1041.5,486.8 L1043.1,485.2 L1044.8,484.1 L1046.4,482.8 L1048.0,480.6 L1049.7,478.7 L1051.3,476.6 L1053.0,477.8 L1054.6,477.5 L1056.2,473.9 L1057.9,474.2 L1059.5,473.7 L1061.2,468.4 L1062.3,468.9 L1062.8,470.2 L1064.5,468.4 L1066.1,465.6 L1067.7,464.2 L1069.4,462.1 L1071.0,461.3 L1072.7,462.2 L1074.3,460.5 L1076.0,454.5 L1077.6,453.9 L1079.2,455.9 L1080.9,450.3 L1082.5,448.7 L1084.2,446.3 L1085.8,445.7 L1087.4,443.5 L1089.1,443.6 L1089.6,444.2 L1090.7,440.8 L1092.4,438.2 L1094.0,437.0 L1095.7,436.9 L1097.3,433.3 L1098.9,431.6 L1100.6,427.5 L1102.2,428.5 L1103.9,426.2 L1105.5,423.6 L1107.1,420.5 L1108.8,417.0 L1110.4,416.1 L1112.1,417.0 L1113.7,414.4 L1115.4,408.4 L1117.0,408.6 L1118.6,407.3 L1120.3,404.5 L1121.9,402.4 L1123.6,398.9 L1125.2,399.4 L1126.9,398.9 L1128.5,397.4 L1130.1,392.6 L1130.7,393.5 L1131.8,392.2 L1133.4,390.1 L1135.1,390.8 L1136.7,385.2 L1138.3,386.5 L1140.0,384.8 L1141.6,383.4 L1143.3,381.2 L1144.4,380.9 L1144.9,380.5 L1146.6,378.0 L1148.2,375.9 L1149.8,375.7 L1151.5,377.6 L1153.1,375.3 L1154.8,371.5 L1156.4,372.6 L1158.1,371.4 L1159.7,371.5 L1161.3,368.4 L1163.0,371.0 L1164.6,370.7 L1166.3,368.0 L1167.9,371.6 L1169.5,369.5 L1171.2,364.5 L1171.7,368.3 L1172.8,367.5 L1174.5,371.0 L1176.1,367.9 L1177.8,369.1 L1179.4,368.4 L1181.0,368.4 L1182.7,366.8 L1184.3,367.2 L1186.0,365.0 L1187.6,369.8 L1189.2,367.2 L1190.9,364.9 L1192.5,365.2 L1194.2,363.4 L1195.8,366.1 L1197.5,363.7 L1199.1,364.2 L1200.7,366.9 L1202.4,367.6 L1204.0,361.9 L1205.7,363.0 L1207.3,364.5 L1209.0,365.8 L1210.6,367.3 L1212.2,365.0 L1213.9,364.3 L1215.5,361.9 L1217.2,364.8 L1218.8,364.4 L1220.4,364.3 L1222.1,362.5 L1223.7,361.6 L1225.4,361.1 L1226.5,363.9 L1227.0,362.5 L1228.7,364.5 L1230.3,363.4 L1231.9,362.2 L1233.6,359.8 L1235.2,363.7 L1236.9,359.6 L1238.5,356.1 L1240.2,356.8 L1241.8,354.6 L1243.4,356.1 L1245.1,353.1 L1246.7,353.5 L1248.4,348.0 L1250.0,349.5 L1251.6,348.0 L1253.3,347.3 L1253.8,344.8 L1254.9,341.8 L1256.6,342.6 L1258.2,341.2 L1259.9,340.1 L1261.5,336.1 L1263.1,336.1 L1264.8,333.9 L1266.4,333.0 L1267.5,331.8 L1268.1,330.3 L1269.7,328.6 L1271.3,330.0 L1273.0,325.9 L1274.6,324.4 L1276.3,321.5 L1277.9,318.5 L1279.6,319.6 L1281.2,317.7 L1282.8,317.5 L1284.5,315.0 L1286.1,310.9 L1287.8,312.4 L1289.4,308.1 L1291.1,308.7 L1292.7,307.8 L1294.3,306.0 L1294.9,306.5 L1296.0,304.3 L1297.6,303.5 L1299.3,305.0 L1300.9,302.1 L1302.5,298.8 L1304.2,298.7 L1305.8,300.3 L1307.5,294.1 L1308.6,292.6 L1309.1,296.4 L1310.8,293.7 L1312.4,291.7 L1314.0,291.4 L1315.7,290.4 L1317.3,292.8 L1319.0,288.2 L1320.6,289.5 L1322.2,289.0 L1323.9,287.0 L1325.5,285.6 L1327.2,285.3 L1328.8,287.2 L1330.5,285.0 L1332.1,287.3 L1333.7,283.2 L1335.4,285.2 L1335.9,285.0 L1337.0,282.6 L1338.7,283.2 L1340.3,284.6 L1342.0,282.3 L1343.6,280.5 L1345.2,285.3 L1346.9,282.7 L1348.5,282.6 L1350.2,282.3 L1351.8,282.3 L1353.4,280.8 L1355.1,281.1 L1356.7,281.9 L1358.4,280.5 L1360.0,282.5 L1361.7,279.0 L1363.3,281.5 L1364.9,281.8 L1366.6,280.5 L1368.2,282.7 L1369.9,282.8 L1371.5,282.1 L1373.2,278.7 L1374.8,279.7 L1376.4,281.6 L1378.1,280.6 L1379.7,280.3 L1381.4,281.3 L1383.0,280.7 L1384.6,281.4 L1386.3,281.9 L1387.9,280.9 L1389.6,277.6 L1390.7,278.6 L1391.2,279.7 L1392.9,278.7 L1394.5,280.8 L1396.1,278.4 L1397.8,279.1 L1399.4,279.4 L1401.1,278.0 L1402.7,278.7 L1404.3,275.1 L1406.0,279.6 L1407.6,278.4 L1409.3,277.5 L1410.9,277.9 L1412.6,275.1 L1414.2,277.2 L1415.8,280.1 L1417.5,278.3 L1418.0,280.9 L1419.1,277.1 L1420.8,277.6 L1422.4,275.9 L1424.1,275.3 L1425.7,277.9 L1427.3,276.3 L1429.0,276.3 L1430.6,273.8 L1432.3,275.9 L1433.9,276.5 L1435.5,276.4 L1437.2,274.9 L1438.8,278.1 L1440.5,276.8 L1442.1,276.8 L1443.8,277.3 L1445.4,274.1 L1447.0,277.7 L1448.7,272.7 L1450.3,276.8 L1452.0,276.0 L1453.6,270.8 L1455.3,276.6 L1456.9,275.3 L1458.5,274.7 L1460.2,277.9 L1461.8,274.9 L1463.5,274.0 L1465.1,273.1 L1466.7,274.4 L1468.4,273.0 L1470.0,273.3 L1471.7,275.8 L1472.8,272.4 L1473.3,273.0 L1475.0,274.1 L1476.6,274.3 L1478.2,273.9 L1479.9,273.7 L1481.5,274.5 L1483.2,275.4 L1484.8,272.8 L1486.5,273.9 L1488.1,273.3 L1489.7,272.1 L1491.4,275.4 L1493.0,273.2 L1494.7,274.2 L1496.3,273.6 L1497.9,275.0 L1499.6,272.0 L1500.1,275.9 L1501.2,274.4 L1502.9,273.6 L1504.5,273.4 L1506.2,273.5 L1507.8,276.0 L1509.4,275.7 L1511.1,276.8 L1512.7,274.3 L1514.4,271.0 L1516.0,273.7 L1517.6,271.2 L1519.3,271.7 L1520.9,274.0 L1522.6,276.4 L1524.2,275.9 L1524.8,274.0 L1525.9,276.3 L1527.5,279.4" fill="none" stroke="#9cbde0" stroke-width="3.1" stroke-linejoin="round" stroke-linecap="round"/>
<path d="M1034.9,492.3 L1036.5,489.3 L1038.2,488.5 L1039.8,487.6 L1041.5,486.7 L1043.1,485.5 L1044.8,484.4 L1046.4,482.3 L1048.0,482.4 L1048.6,479.1 L1049.7,478.0 L1051.3,477.2 L1053.0,474.0 L1054.6,471.7 L1056.2,471.4 L1057.9,470.1 L1059.5,465.9 L1061.2,466.7 L1062.3,462.4 L1062.8,462.5 L1064.5,462.4 L1066.1,462.8 L1067.7,457.9 L1069.4,455.9 L1071.0,454.7 L1072.7,457.0 L1074.3,451.6 L1076.0,450.1 L1077.6,448.1 L1079.2,446.9 L1080.9,445.4 L1082.5,439.2 L1084.2,438.7 L1085.8,438.2 L1087.4,432.4 L1089.1,433.1 L1089.6,430.0 L1090.7,431.1 L1092.4,427.6 L1094.0,425.4 L1095.7,420.6 L1097.3,422.5 L1098.9,419.9 L1100.6,415.2 L1102.2,413.1 L1103.3,413.0 L1103.9,413.4 L1105.5,411.5 L1107.1,411.0 L1108.8,405.8 L1110.4,404.3 L1112.1,402.2 L1113.7,400.4 L1115.4,399.0 L1117.0,396.5 L1118.6,397.5 L1120.3,392.1 L1121.9,392.6 L1123.6,392.4 L1125.2,391.3 L1126.9,388.6 L1128.5,385.7 L1130.1,384.5 L1130.7,383.0 L1131.8,380.4 L1133.4,380.6 L1135.1,378.3 L1136.7,376.8 L1138.3,377.2 L1140.0,374.8 L1141.6,372.7 L1143.3,369.2 L1144.4,371.0 L1144.9,365.7 L1146.6,368.2 L1148.2,366.9 L1149.8,364.9 L1151.5,363.8 L1153.1,360.7 L1154.8,359.1 L1156.4,355.3 L1158.1,356.7 L1159.7,353.6 L1161.3,353.1 L1163.0,352.4 L1164.6,354.7 L1166.3,350.3 L1167.9,349.6 L1169.5,350.2 L1171.2,346.6 L1171.7,345.6 L1172.8,346.1 L1174.5,346.5 L1176.1,347.4 L1177.8,344.7 L1179.4,346.0 L1181.0,343.8 L1182.7,345.0 L1184.3,344.4 L1185.4,342.3 L1186.0,343.5 L1187.6,345.0 L1189.2,340.2 L1190.9,340.5 L1192.5,339.7 L1194.2,342.0 L1195.8,339.6 L1197.5,337.9 L1199.1,337.9 L1200.7,338.7 L1202.4,336.3 L1204.0,337.4 L1205.7,338.6 L1207.3,336.3 L1209.0,336.2 L1210.6,336.6 L1212.2,333.2 L1212.8,335.6 L1213.9,332.1 L1215.5,333.9 L1217.2,332.5 L1218.8,331.6 L1220.4,329.8 L1222.1,330.3 L1223.7,328.9 L1225.4,327.8 L1226.5,328.6 L1227.0,328.2 L1228.7,327.7 L1230.3,327.2 L1231.9,322.0 L1233.6,324.0 L1235.2,321.4 L1236.9,322.1 L1238.5,317.8 L1240.2,318.2 L1241.8,316.4 L1243.4,316.8 L1245.1,314.4 L1246.7,315.7 L1248.4,315.5 L1250.0,310.9 L1251.6,310.4 L1253.3,310.0 L1253.8,310.3 L1254.9,310.1 L1256.6,310.0 L1258.2,308.5 L1259.9,307.0 L1261.5,305.1 L1263.1,305.7 L1264.8,306.8 L1266.4,306.0 L1267.5,304.8 L1268.1,304.7 L1269.7,301.4 L1271.3,299.8 L1273.0,299.4 L1274.6,300.5 L1276.3,300.2 L1277.9,296.6 L1279.6,300.4 L1281.2,296.5 L1282.8,298.0 L1284.5,293.7 L1286.1,292.6 L1287.8,289.1 L1289.4,290.4 L1291.1,288.1 L1292.7,286.7 L1294.3,285.9 L1296.0,283.9 L1297.6,284.7 L1299.3,282.1 L1300.9,279.5 L1302.5,277.7 L1304.2,275.4 L1305.8,274.0 L1307.5,273.5 L1308.6,273.2 L1309.1,273.5 L1310.8,270.7 L1312.4,272.0 L1314.0,268.5 L1315.7,269.1 L1317.3,266.9 L1319.0,264.1 L1320.6,266.4 L1322.2,263.0 L1323.9,262.8 L1325.5,262.2 L1327.2,260.4 L1328.8,256.6 L1330.5,256.2 L1332.1,257.6 L1333.7,256.9 L1335.4,254.3 L1335.9,256.8 L1337.0,254.1 L1338.7,252.2 L1340.3,250.0 L1342.0,251.0 L1343.6,249.8 L1345.2,247.5 L1346.9,249.4 L1348.5,246.0 L1350.2,243.9 L1351.8,243.7 L1353.4,239.3 L1355.1,238.4 L1356.7,241.9 L1358.4,239.2 L1360.0,238.3 L1361.7,238.0 L1363.3,237.7 L1364.9,234.8 L1366.6,235.0 L1368.2,234.6 L1369.9,233.7 L1371.5,233.8 L1373.2,234.1 L1374.8,233.6 L1376.4,233.5 L1378.1,232.6 L1379.7,232.5 L1381.4,231.7 L1383.0,231.8 L1384.6,231.1 L1386.3,230.3 L1387.9,230.9 L1389.6,230.4 L1390.7,230.1 L1391.2,229.5 L1392.9,230.1 L1394.5,230.2 L1396.1,230.1 L1397.8,229.2 L1399.4,229.5 L1401.1,229.1 L1402.7,228.3 L1404.3,228.6 L1406.0,228.2 L1407.6,228.0 L1409.3,227.7 L1410.9,227.8 L1412.6,227.8 L1414.2,226.5 L1415.8,227.1 L1417.5,226.9 L1418.0,226.7 L1419.1,226.4 L1420.8,227.1 L1422.4,226.8 L1424.1,225.9 L1425.7,225.9 L1427.3,226.2 L1429.0,226.4 L1430.6,225.6 L1432.3,225.4 L1433.9,226.0 L1435.5,225.2 L1437.2,225.3 L1438.8,225.0 L1440.5,224.9 L1442.1,224.6 L1443.8,224.9 L1445.4,224.5 L1447.0,224.4 L1448.7,224.0 L1450.3,224.2 L1452.0,224.3 L1453.6,224.2 L1455.3,223.7 L1456.9,223.7 L1458.5,223.6 L1460.2,223.4 L1461.8,223.3 L1463.5,222.8 L1465.1,223.7 L1466.7,222.5 L1468.4,222.4 L1470.0,222.8 L1471.7,222.7 L1472.8,222.6 L1473.3,222.5 L1475.0,222.4 L1476.6,222.0 L1478.2,221.6 L1479.9,222.5 L1481.5,222.0 L1483.2,221.8 L1484.8,222.4 L1486.5,221.7 L1488.1,221.5 L1489.7,221.6 L1491.4,221.9 L1493.0,221.4 L1494.7,221.6 L1496.3,221.7 L1497.9,221.3 L1499.6,221.4 L1500.1,221.1 L1501.2,221.5 L1502.9,221.5 L1504.5,220.8 L1506.2,220.9 L1507.8,220.1 L1509.4,220.5 L1511.1,220.4 L1512.7,219.7 L1514.4,220.3 L1516.0,220.1 L1517.6,219.8 L1519.3,219.5 L1520.9,219.3 L1522.6,218.7 L1524.2,219.5 L1524.8,218.8 L1525.9,222.0 L1527.5,225.6" fill="none" stroke="#8fb5dc" stroke-width="3.1" stroke-linejoin="round" stroke-linecap="round"/>
<path d="M1034.9,501.1 L1036.5,499.7 L1038.2,499.7 L1039.8,498.1 L1041.5,498.7 L1043.1,497.5 L1044.8,496.3 L1045.8,497.0 L1046.4,496.8 L1048.0,499.6 L1049.7,500.9 L1051.3,502.7 L1053.0,505.0 L1054.6,506.3 L1056.2,508.2 L1056.8,509.6 L1057.9,510.4 L1059.5,511.5 L1061.2,513.6 L1062.8,515.0 L1064.5,516.4 L1066.1,517.2 L1067.7,518.9 L1069.4,519.0 L1071.0,518.6 L1072.7,518.9 L1074.3,518.9 L1076.0,519.6 L1077.6,520.0 L1079.2,519.8 L1080.9,520.6 L1082.5,519.6 L1084.2,520.2 L1085.8,520.5 L1087.4,521.2 L1089.1,521.8 L1089.6,521.6 L1090.7,521.8 L1092.4,521.8 L1094.0,521.8 L1095.7,521.8 L1097.3,521.6 L1098.9,521.9 L1100.6,521.6 L1102.2,521.8 L1103.9,521.8 L1105.5,521.8 L1107.1,521.8 L1108.8,521.7 L1110.4,521.7 L1112.1,521.8 L1113.7,521.7 L1115.4,521.6 L1117.0,521.8 L1118.6,522.0 L1120.3,521.9 L1121.9,521.7 L1123.6,521.7 L1125.2,521.6 L1126.9,521.9 L1128.5,522.0 L1130.1,521.8 L1131.8,521.9 L1133.4,521.8 L1135.1,521.8 L1136.7,521.8 L1138.3,521.8 L1140.0,521.9 L1141.6,522.0 L1143.3,521.9 L1144.9,521.7 L1146.6,521.8 L1148.2,521.6 L1149.8,521.9 L1151.5,521.7 L1153.1,521.9 L1154.8,521.9 L1156.4,522.1 L1158.1,521.9 L1159.7,521.9 L1161.3,522.0 L1163.0,521.8 L1164.6,522.1 L1166.3,521.9 L1167.9,521.9 L1169.5,522.1 L1171.2,521.8 L1172.8,521.9 L1174.5,522.1 L1176.1,522.1 L1177.8,521.8 L1179.4,521.9 L1181.0,522.1 L1182.7,521.9 L1184.3,521.9 L1186.0,522.0 L1187.6,522.0 L1189.2,521.8 L1190.9,522.0 L1192.5,522.0 L1194.2,522.1 L1195.8,522.0 L1197.5,522.0 L1199.1,522.0 L1200.7,521.9 L1202.4,522.1 L1204.0,522.0 L1205.7,521.9 L1207.3,522.0 L1209.0,522.2 L1210.6,522.0 L1212.2,522.0 L1213.9,521.9 L1215.5,522.0 L1217.2,522.1 L1218.8,522.1 L1220.4,522.0 L1222.1,522.2 L1223.7,522.0 L1225.4,522.1 L1227.0,522.0 L1228.7,521.9 L1230.3,522.0 L1231.9,522.1 L1233.6,522.2 L1235.2,522.0 L1236.9,522.0 L1238.5,522.1 L1240.2,522.2 L1241.8,522.0 L1243.4,522.3 L1245.1,522.1 L1246.7,522.2 L1248.4,522.0 L1250.0,522.2 L1251.6,522.1 L1253.3,522.2 L1254.9,522.2 L1256.6,522.2 L1258.2,522.3 L1259.9,522.1 L1261.5,522.1 L1263.1,522.3 L1264.8,522.2 L1266.4,522.2 L1268.1,522.2 L1269.7,522.1 L1271.3,522.2 L1273.0,522.1 L1274.6,522.3 L1276.3,522.0 L1277.9,522.1 L1279.6,522.3 L1281.2,522.4 L1282.8,522.2 L1284.5,522.0 L1286.1,522.4 L1287.8,522.2 L1289.4,522.1 L1291.1,522.1 L1292.7,522.1 L1294.3,522.3 L1296.0,522.3 L1297.6,522.3 L1299.3,522.3 L1300.9,522.4 L1302.5,522.2 L1304.2,522.4 L1305.8,522.3 L1307.5,522.1 L1309.1,522.3 L1310.8,522.3 L1312.4,522.2 L1314.0,522.3 L1315.7,522.2 L1317.3,522.2 L1319.0,522.5 L1320.6,522.3 L1322.2,522.4 L1323.9,522.3 L1325.5,522.4 L1327.2,522.3 L1328.8,522.5 L1330.5,522.3 L1332.1,522.3 L1333.7,522.3 L1335.4,522.2 L1337.0,522.4 L1338.7,522.3 L1340.3,522.3 L1342.0,522.6 L1343.6,522.5 L1345.2,522.3 L1346.9,522.2 L1348.5,522.5 L1350.2,522.4 L1351.8,522.4 L1353.4,522.3 L1355.1,522.4 L1356.7,522.3 L1358.4,522.4 L1360.0,522.5 L1361.7,522.2 L1363.3,522.4 L1364.9,522.7 L1366.6,522.3 L1368.2,522.4 L1369.9,522.6 L1371.5,522.5 L1373.2,522.5 L1374.8,522.3 L1376.4,522.4 L1378.1,522.4 L1379.7,522.3 L1381.4,522.2 L1383.0,522.7 L1384.6,522.6 L1386.3,522.5 L1387.9,522.6 L1389.6,522.6 L1391.2,522.3 L1392.9,522.4 L1394.5,522.4 L1396.1,522.6 L1397.8,522.4 L1399.4,522.6 L1401.1,522.7 L1402.7,522.3 L1404.3,522.5 L1406.0,522.6 L1407.6,522.4 L1409.3,522.4 L1410.9,522.6 L1412.6,522.6 L1414.2,522.4 L1415.8,522.5 L1417.5,522.6 L1419.1,522.4 L1420.8,522.7 L1422.4,522.6 L1424.1,522.3 L1425.7,522.6 L1427.3,522.6 L1429.0,522.7 L1430.6,522.5 L1432.3,522.7 L1433.9,522.5 L1435.5,522.4 L1437.2,522.4 L1438.8,522.5 L1440.5,522.7 L1442.1,522.6 L1443.8,522.6 L1445.4,522.5 L1447.0,522.7 L1448.7,522.6 L1450.3,522.6 L1452.0,522.5 L1453.6,522.6 L1455.3,522.8 L1456.9,522.7 L1458.5,522.7 L1460.2,522.8 L1461.8,522.8 L1463.5,522.8 L1465.1,522.8 L1466.7,522.4 L1468.4,522.6 L1470.0,522.9 L1471.7,522.7 L1473.3,522.8 L1475.0,522.6 L1476.6,522.7 L1478.2,522.7 L1479.9,522.7 L1481.5,522.7 L1483.2,522.8 L1484.8,522.7 L1486.5,522.8 L1488.1,522.5 L1489.7,522.9 L1491.4,522.7 L1493.0,522.8 L1494.7,522.8 L1496.3,522.7 L1497.9,522.8 L1499.6,522.8 L1501.2,522.9 L1502.9,522.8 L1504.5,522.6 L1506.2,522.9 L1507.8,522.9 L1509.4,522.7 L1511.1,522.7 L1512.7,522.6 L1514.4,522.9 L1516.0,522.7 L1517.6,522.7 L1519.3,522.9 L1520.9,522.8 L1522.6,522.8 L1524.2,522.8 L1525.9,522.9 L1527.5,522.9" fill="none" stroke="#f3c58e" stroke-width="3.1" stroke-linejoin="round" stroke-linecap="round"/>
<path d="M1034.9,497.3 L1036.5,496.2 L1038.2,495.8 L1039.8,496.3 L1041.5,495.9 L1043.1,494.3 L1044.8,495.5 L1046.4,494.6 L1048.0,494.9 L1048.6,494.0 L1049.7,495.1 L1051.3,496.6 L1053.0,498.4 L1054.6,501.7 L1056.2,503.3 L1057.9,505.2 L1059.5,506.9 L1061.2,508.3 L1062.3,509.7 L1062.8,510.4 L1064.5,510.7 L1066.1,508.9 L1067.7,512.1 L1069.4,510.0 L1070.5,512.7 L1071.0,513.3 L1072.7,514.8 L1074.3,516.8 L1076.0,518.6 L1077.6,519.1 L1079.2,519.0 L1080.9,518.6 L1082.5,518.4 L1084.2,518.9 L1085.8,518.6 L1087.4,519.3 L1089.1,518.1 L1089.6,521.4 L1090.7,519.8 L1092.4,519.4 L1094.0,519.7 L1095.7,519.3 L1097.3,519.3 L1098.9,518.6 L1100.6,519.7 L1102.2,519.6 L1103.9,520.2 L1105.5,519.5 L1107.1,519.8 L1108.8,519.3 L1110.4,519.8 L1112.1,519.3 L1113.7,519.9 L1115.4,520.4 L1117.0,520.0 L1118.6,519.7 L1120.3,519.4 L1121.9,519.6 L1123.6,519.5 L1125.2,519.4 L1126.9,519.5 L1128.5,519.6 L1130.1,519.5 L1131.8,519.9 L1133.4,519.4 L1135.1,519.7 L1136.7,519.8 L1138.3,519.4 L1140.0,519.6 L1141.6,519.8 L1143.3,519.4 L1144.9,519.3 L1146.6,519.5 L1148.2,519.7 L1149.8,519.4 L1151.5,519.2 L1153.1,519.7 L1154.8,519.6 L1156.4,519.7 L1158.1,519.5 L1159.7,519.5 L1161.3,519.5 L1163.0,519.6 L1164.6,519.5 L1166.3,519.2 L1167.9,519.8 L1169.5,519.6 L1171.2,519.6 L1172.8,519.6 L1174.5,519.6 L1176.1,519.6 L1177.8,519.5 L1179.4,519.6 L1181.0,519.5 L1182.7,519.6 L1184.3,519.4 L1186.0,519.9 L1187.6,519.5 L1189.2,519.8 L1190.9,519.7 L1192.5,519.6 L1194.2,519.7 L1195.8,519.5 L1197.5,519.5 L1199.1,519.4 L1200.7,519.4 L1202.4,519.7 L1204.0,519.2 L1205.7,519.5 L1207.3,519.4 L1209.0,519.7 L1210.6,519.7 L1212.2,519.4 L1213.9,519.5 L1215.5,519.8 L1217.2,519.4 L1218.8,519.5 L1220.4,519.9 L1222.1,519.9 L1223.7,519.6 L1225.4,519.7 L1227.0,519.5 L1228.7,519.3 L1230.3,519.3 L1231.9,519.7 L1233.6,519.7 L1235.2,519.3 L1236.9,519.6 L1238.5,519.6 L1240.2,519.3 L1241.8,519.4 L1243.4,519.6 L1245.1,519.4 L1246.7,519.6 L1248.4,519.4 L1250.0,519.4 L1251.6,519.5 L1253.3,519.7 L1254.9,519.6 L1256.6,519.3 L1258.2,519.3 L1259.9,519.4 L1261.5,519.7 L1263.1,519.4 L1264.8,519.7 L1266.4,519.5 L1268.1,519.4 L1269.7,519.2 L1271.3,519.7 L1273.0,519.5 L1274.6,519.8 L1276.3,519.7 L1277.9,519.4 L1279.6,519.4 L1281.2,519.4 L1282.8,519.3 L1284.5,519.2 L1286.1,519.4 L1287.8,519.7 L1289.4,519.6 L1291.1,519.7 L1292.7,519.6 L1294.3,519.6 L1296.0,519.5 L1297.6,519.7 L1299.3,519.4 L1300.9,519.6 L1302.5,519.6 L1304.2,519.7 L1305.8,519.7 L1307.5,519.5 L1308.6,519.5 L1309.1,519.6 L1310.8,519.5 L1312.4,519.4 L1314.0,519.7 L1315.7,519.7 L1317.3,519.4 L1319.0,519.5 L1320.6,519.4 L1322.2,519.3 L1323.9,519.4 L1325.5,519.2 L1327.2,519.3 L1328.8,519.2 L1330.5,519.2 L1332.1,519.4 L1333.7,519.4 L1335.4,519.1 L1337.0,519.3 L1338.7,518.8 L1340.3,519.4 L1342.0,519.5 L1343.6,519.3 L1345.2,518.8 L1346.9,519.0 L1348.5,519.3 L1350.2,519.1 L1351.8,519.0 L1353.4,519.2 L1355.1,519.0 L1356.7,519.0 L1358.4,519.0 L1360.0,519.1 L1361.7,519.0 L1363.3,519.0 L1364.9,518.8 L1366.6,519.4 L1368.2,519.1 L1369.9,518.7 L1371.5,518.8 L1373.2,519.0 L1374.8,519.4 L1376.4,518.8 L1378.1,518.6 L1379.7,518.9 L1381.4,518.8 L1383.0,518.8 L1384.6,518.6 L1386.3,519.1 L1387.9,518.8 L1389.6,518.8 L1391.2,518.5 L1392.9,518.5 L1394.5,518.7 L1396.1,518.9 L1397.8,518.6 L1399.4,518.7 L1401.1,518.5 L1402.7,518.6 L1404.3,518.6 L1406.0,518.5 L1407.6,518.5 L1409.3,518.4 L1410.9,518.4 L1412.6,518.7 L1414.2,518.4 L1415.8,518.3 L1417.5,518.2 L1418.0,518.0 L1419.1,518.3 L1420.8,518.3 L1422.4,518.7 L1424.1,518.5 L1425.7,518.4 L1427.3,518.4 L1429.0,518.5 L1430.6,518.5 L1432.3,518.1 L1433.9,518.4 L1435.5,518.3 L1437.2,517.9 L1438.8,518.3 L1440.5,518.5 L1442.1,518.1 L1443.8,517.9 L1445.4,518.3 L1447.0,518.1 L1448.7,518.1 L1450.3,518.0 L1452.0,518.0 L1453.6,518.1 L1455.3,518.1 L1456.9,518.1 L1458.5,518.0 L1460.2,517.9 L1461.8,518.0 L1463.5,518.0 L1465.1,518.1 L1466.7,517.8 L1468.4,518.1 L1470.0,517.9 L1471.7,517.7 L1473.3,518.0 L1475.0,517.6 L1476.6,518.1 L1478.2,517.8 L1479.9,517.8 L1481.5,517.6 L1483.2,517.7 L1484.8,517.7 L1486.5,517.6 L1488.1,517.9 L1489.7,517.7 L1491.4,517.7 L1493.0,517.9 L1494.7,517.6 L1496.3,517.4 L1497.9,517.8 L1499.6,517.6 L1501.2,517.6 L1502.9,517.8 L1504.5,517.6 L1506.2,517.7 L1507.8,517.3 L1509.4,517.4 L1511.1,517.5 L1512.7,517.3 L1514.4,517.4 L1516.0,517.4 L1517.6,517.8 L1519.3,517.3 L1520.9,517.5 L1522.6,517.4 L1524.2,517.2 L1524.8,517.4 L1525.9,518.7 L1527.5,520.7" fill="none" stroke="#f0a45c" stroke-width="3.1" stroke-linejoin="round" stroke-linecap="round"/>
<path d="M1034.9,502.6 L1036.5,502.9 L1038.2,501.6 L1039.8,501.9 L1041.5,503.2 L1043.1,500.5 L1044.8,502.0 L1046.4,501.0 L1048.0,501.0 L1049.7,500.8 L1051.3,502.6 L1053.0,503.0 L1054.6,502.0 L1056.2,501.9 L1057.9,503.9 L1059.5,502.4 L1061.2,502.7 L1062.3,501.0 L1062.8,501.6 L1064.5,501.4 L1066.1,500.9 L1067.7,501.2 L1069.4,502.8 L1071.0,502.1 L1072.7,500.9 L1074.3,501.8 L1076.0,502.0 L1077.6,500.6 L1079.2,500.6 L1080.9,501.5 L1082.5,501.4 L1084.2,500.2 L1085.8,501.3 L1087.4,501.6 L1089.1,500.3 L1089.6,499.6 L1090.7,501.8 L1092.4,501.2 L1094.0,499.9 L1095.7,500.4 L1097.3,499.6 L1098.9,499.7 L1100.6,497.8 L1102.2,501.4 L1103.3,499.3 L1103.9,500.6 L1105.5,502.0 L1107.1,501.5 L1108.8,501.6 L1110.4,500.8 L1112.1,502.1 L1113.7,503.1 L1115.4,503.5 L1117.0,503.0 L1118.6,502.2 L1120.3,503.2 L1121.9,501.6 L1123.6,501.2 L1125.2,501.2 L1126.9,502.6 L1128.5,503.8 L1130.1,505.4 L1130.7,506.1 L1131.8,505.6 L1133.4,506.0 L1135.1,506.4 L1136.7,507.3 L1138.3,505.8 L1140.0,506.9 L1141.6,504.3 L1143.3,505.0 L1144.4,507.6 L1144.9,505.6 L1146.6,508.3 L1148.2,509.0 L1149.8,508.2 L1151.5,507.7 L1153.1,507.3 L1154.8,505.7 L1156.4,508.4 L1158.1,507.5 L1159.7,506.6 L1161.3,507.3 L1163.0,506.1 L1164.6,506.7 L1166.3,506.1 L1167.9,506.6 L1169.5,507.3 L1171.2,507.3 L1171.7,508.5 L1172.8,507.4 L1174.5,507.3 L1176.1,507.3 L1177.8,507.3 L1179.4,507.2 L1181.0,506.8 L1182.7,507.1 L1184.3,506.9 L1186.0,506.8 L1187.6,507.2 L1189.2,506.8 L1190.9,506.8 L1192.5,507.2 L1194.2,506.5 L1195.8,506.7 L1197.5,506.5 L1199.1,506.2 L1200.7,506.5 L1202.4,506.5 L1204.0,506.4 L1205.7,506.2 L1207.3,506.7 L1209.0,506.7 L1210.6,506.5 L1212.2,506.6 L1213.9,506.2 L1215.5,506.5 L1217.2,506.4 L1218.8,506.5 L1220.4,506.8 L1222.1,506.3 L1223.7,506.4 L1225.4,506.5 L1227.0,506.7 L1228.7,506.3 L1230.3,506.2 L1231.9,506.3 L1233.6,506.5 L1235.2,506.7 L1236.9,506.7 L1238.5,506.8 L1240.2,506.6 L1241.8,506.1 L1243.4,506.7 L1245.1,506.3 L1246.7,506.8 L1248.4,506.5 L1250.0,506.9 L1251.6,506.6 L1253.3,506.9 L1254.9,506.6 L1256.6,506.6 L1258.2,506.4 L1259.9,506.3 L1261.5,506.7 L1263.1,506.5 L1264.8,506.7 L1266.4,506.7 L1268.1,506.6 L1269.7,506.8 L1271.3,506.5 L1273.0,506.7 L1274.6,506.4 L1276.3,506.7 L1277.9,506.6 L1279.6,506.8 L1281.2,506.9 L1282.8,506.7 L1284.5,506.4 L1286.1,506.9 L1287.8,506.8 L1289.4,506.7 L1291.1,506.8 L1292.7,506.7 L1294.3,506.4 L1296.0,506.5 L1297.6,507.5 L1299.3,507.0 L1300.9,506.7 L1302.5,506.8 L1304.2,506.5 L1305.8,506.8 L1307.5,506.6 L1309.1,506.8 L1310.8,507.1 L1312.4,506.7 L1314.0,506.8 L1315.7,506.5 L1317.3,506.9 L1319.0,506.6 L1320.6,507.0 L1322.2,506.9 L1323.9,506.7 L1325.5,506.9 L1327.2,506.8 L1328.8,506.6 L1330.5,506.6 L1332.1,506.8 L1333.7,506.9 L1335.4,506.8 L1337.0,506.9 L1338.7,506.9 L1340.3,506.7 L1342.0,507.4 L1343.6,507.0 L1345.2,507.0 L1346.9,506.8 L1348.5,506.8 L1350.2,506.7 L1351.8,506.5 L1353.4,506.9 L1355.1,507.3 L1356.7,507.1 L1358.4,506.7 L1360.0,507.0 L1361.7,507.2 L1363.3,507.0 L1364.9,507.0 L1366.6,506.6 L1368.2,506.9 L1369.9,507.0 L1371.5,506.8 L1373.2,506.9 L1374.8,507.5 L1376.4,506.8 L1378.1,506.9 L1379.7,506.7 L1381.4,506.9 L1383.0,507.2 L1384.6,507.2 L1386.3,506.9 L1387.9,506.8 L1389.6,506.9 L1391.2,507.2 L1392.9,507.0 L1394.5,506.9 L1396.1,507.0 L1397.8,507.2 L1399.4,507.1 L1401.1,507.3 L1402.7,507.0 L1404.3,507.1 L1406.0,507.2 L1407.6,506.5 L1409.3,507.2 L1410.9,507.1 L1412.6,507.0 L1414.2,507.0 L1415.8,507.2 L1417.5,507.3 L1419.1,507.0 L1420.8,507.0 L1422.4,507.0 L1424.1,507.5 L1425.7,507.3 L1427.3,507.1 L1429.0,507.1 L1430.6,507.1 L1432.3,506.9 L1433.9,507.4 L1435.5,506.8 L1437.2,507.1 L1438.8,507.0 L1440.5,507.3 L1442.1,507.0 L1443.8,507.3 L1445.4,507.3 L1447.0,507.0 L1448.7,507.4 L1450.3,507.2 L1452.0,507.2 L1453.6,507.1 L1455.3,507.3 L1456.9,507.0 L1458.5,507.0 L1460.2,507.5 L1461.8,507.5 L1463.5,507.3 L1465.1,507.1 L1466.7,507.0 L1468.4,507.2 L1470.0,507.5 L1471.7,507.3 L1473.3,507.7 L1475.0,507.3 L1476.6,507.3 L1478.2,507.2 L1479.9,507.5 L1481.5,507.1 L1483.2,507.2 L1484.8,507.5 L1486.5,507.6 L1488.1,507.5 L1489.7,507.6 L1491.4,506.9 L1493.0,507.2 L1494.7,507.6 L1496.3,507.7 L1497.9,507.7 L1499.6,507.4 L1501.2,507.7 L1502.9,507.3 L1504.5,507.2 L1506.2,507.3 L1507.8,507.4 L1509.4,507.6 L1511.1,507.6 L1512.7,507.5 L1514.4,507.4 L1516.0,507.5 L1517.6,507.5 L1519.3,507.4 L1520.9,507.3 L1522.6,507.4 L1524.2,507.3 L1525.9,507.5 L1527.5,507.7" fill="none" stroke="#c4a3d9" stroke-width="3.1" stroke-linejoin="round" stroke-linecap="round"/>
<path d="M1034.9,497.2 L1036.5,495.5 L1038.2,494.1 L1039.8,494.7 L1041.5,492.1 L1043.1,491.8 L1044.8,491.2 L1046.4,490.7 L1048.0,489.1 L1048.6,489.4 L1049.7,489.6 L1051.3,491.8 L1053.0,491.0 L1054.6,490.2 L1056.2,491.8 L1057.9,493.5 L1059.5,493.6 L1061.2,492.7 L1062.3,492.4 L1062.8,494.8 L1064.5,494.0 L1066.1,496.5 L1067.7,495.9 L1069.4,495.4 L1071.0,498.2 L1072.7,497.1 L1074.3,498.8 L1076.0,498.7 L1077.6,499.0 L1079.2,499.9 L1080.9,500.7 L1082.5,500.1 L1084.2,500.9 L1085.8,502.0 L1087.4,504.2 L1089.1,503.9 L1089.6,504.6 L1090.7,504.5 L1092.4,504.0 L1094.0,502.9 L1095.7,504.1 L1097.3,503.1 L1098.9,504.0 L1100.6,503.7 L1102.2,502.7 L1103.9,504.4 L1105.5,504.8 L1107.1,505.5 L1108.8,504.4 L1110.4,504.2 L1112.1,503.3 L1113.7,505.3 L1115.4,506.5 L1117.0,504.9 L1118.6,505.2 L1120.3,505.6 L1121.9,506.3 L1123.6,505.1 L1125.2,506.5 L1126.9,505.2 L1128.5,506.3 L1130.1,505.9 L1131.8,505.8 L1133.4,507.3 L1135.1,506.6 L1136.7,507.3 L1138.3,507.4 L1140.0,506.2 L1141.6,506.4 L1143.3,507.2 L1144.4,507.1 L1144.9,506.5 L1146.6,507.2 L1148.2,504.8 L1149.8,506.4 L1151.5,505.2 L1153.1,505.5 L1154.8,504.7 L1156.4,503.4 L1158.1,501.6 L1159.7,503.5 L1161.3,503.7 L1163.0,504.7 L1164.6,504.4 L1166.3,502.4 L1167.9,503.5 L1169.5,506.9 L1171.2,507.1 L1171.7,506.2 L1172.8,505.2 L1174.5,504.8 L1176.1,504.6 L1177.8,506.3 L1179.4,505.8 L1181.0,505.4 L1182.7,507.1 L1184.3,504.2 L1186.0,505.2 L1187.6,508.3 L1189.2,505.7 L1190.9,507.1 L1192.5,506.8 L1194.2,507.9 L1195.8,507.5 L1197.5,507.1 L1199.1,508.5 L1200.7,507.6 L1202.4,507.2 L1204.0,507.7 L1205.7,507.3 L1207.3,507.2 L1209.0,507.5 L1210.6,507.2 L1212.2,507.2 L1213.9,507.3 L1215.5,507.2 L1217.2,507.0 L1218.8,507.3 L1220.4,507.0 L1222.1,507.0 L1223.7,506.9 L1225.4,507.0 L1227.0,506.9 L1228.7,506.7 L1230.3,506.9 L1231.9,506.6 L1233.6,507.1 L1235.2,506.8 L1236.9,506.4 L1238.5,506.6 L1240.2,506.9 L1241.8,506.4 L1243.4,506.7 L1245.1,506.2 L1246.7,506.5 L1248.4,506.4 L1250.0,506.5 L1251.6,506.7 L1253.3,506.3 L1253.8,506.2 L1254.9,506.5 L1256.6,506.4 L1258.2,506.7 L1259.9,506.6 L1261.5,506.9 L1263.1,506.7 L1264.8,506.5 L1266.4,506.5 L1268.1,506.8 L1269.7,506.9 L1271.3,506.8 L1273.0,506.9 L1274.6,506.8 L1276.3,506.8 L1277.9,506.9 L1279.6,506.7 L1281.2,506.9 L1282.8,507.2 L1284.5,507.0 L1286.1,507.1 L1287.8,507.1 L1289.4,506.9 L1291.1,507.1 L1292.7,506.9 L1294.3,506.9 L1296.0,507.3 L1297.6,507.2 L1299.3,507.0 L1300.9,507.7 L1302.5,507.4 L1304.2,507.1 L1305.8,507.2 L1307.5,507.6 L1308.6,507.6 L1309.1,507.5 L1310.8,507.4 L1312.4,507.3 L1314.0,507.6 L1315.7,507.8 L1317.3,507.3 L1319.0,507.5 L1320.6,507.8 L1322.2,507.7 L1323.9,507.3 L1325.5,507.7 L1327.2,507.5 L1328.8,507.4 L1330.5,507.6 L1332.1,507.4 L1333.7,507.3 L1335.4,507.6 L1337.0,507.5 L1338.7,507.5 L1340.3,508.0 L1342.0,507.7 L1343.6,507.6 L1345.2,507.5 L1346.9,507.4 L1348.5,507.7 L1350.2,507.2 L1351.8,507.3 L1353.4,507.6 L1355.1,507.6 L1356.7,507.3 L1358.4,507.6 L1360.0,507.5 L1361.7,507.9 L1363.3,507.5 L1364.9,507.3 L1366.6,507.2 L1368.2,507.5 L1369.9,507.3 L1371.5,507.7 L1373.2,507.3 L1374.8,507.7 L1376.4,507.4 L1378.1,507.7 L1379.7,507.7 L1381.4,507.2 L1383.0,508.0 L1384.6,507.2 L1386.3,507.6 L1387.9,507.3 L1389.6,507.3 L1391.2,507.5 L1392.9,507.2 L1394.5,507.1 L1396.1,507.2 L1397.8,507.5 L1399.4,507.3 L1401.1,507.3 L1402.7,507.6 L1404.3,507.4 L1406.0,507.4 L1407.6,507.5 L1409.3,507.5 L1410.9,507.5 L1412.6,507.6 L1414.2,511.2 L1415.3,513.9 L1415.8,512.7 L1417.5,508.8 L1418.0,507.6 L1419.1,507.5 L1420.8,508.0 L1422.4,507.2 L1424.1,507.2 L1425.7,507.8 L1427.3,507.8 L1429.0,507.4 L1430.6,507.8 L1432.3,507.3 L1433.9,507.4 L1435.5,507.5 L1437.2,507.2 L1438.8,507.5 L1440.5,507.7 L1442.1,507.6 L1443.8,507.4 L1445.4,507.4 L1447.0,507.8 L1448.7,507.3 L1450.3,507.8 L1452.0,507.3 L1453.6,507.9 L1455.3,507.4 L1456.9,507.2 L1458.5,507.3 L1460.2,507.5 L1461.8,507.3 L1463.5,507.2 L1465.1,507.3 L1466.7,507.8 L1468.4,507.4 L1470.0,507.6 L1471.7,507.4 L1473.3,507.5 L1475.0,507.5 L1476.6,507.4 L1478.2,507.3 L1479.9,507.4 L1481.5,507.7 L1483.2,507.8 L1484.8,507.8 L1486.5,507.4 L1488.1,507.6 L1489.7,507.5 L1491.4,507.4 L1493.0,507.3 L1494.7,507.7 L1496.3,507.6 L1497.9,507.5 L1499.6,507.6 L1501.2,507.4 L1502.9,507.3 L1504.5,507.5 L1506.2,507.3 L1507.8,507.5 L1509.4,507.5 L1511.1,507.6 L1512.7,507.5 L1514.4,507.3 L1516.0,507.2 L1517.6,507.6 L1519.3,507.5 L1520.9,507.3 L1522.6,507.7 L1524.2,507.6 L1524.8,507.5 L1525.9,509.3 L1527.5,512.0" fill="none" stroke="#f0b070" stroke-width="3.1" stroke-linejoin="round" stroke-linecap="round"/>
<path d="M1034.9,478.0 L1036.5,472.2 L1038.2,469.6 L1039.0,464.7 L1039.8,464.1 L1041.5,468.2 L1043.1,470.6 L1044.8,470.0 L1046.4,466.5 L1047.2,466.4 L1048.0,466.6 L1049.7,470.9 L1051.3,471.3 L1053.0,474.3 L1054.6,480.3 L1056.2,481.7 L1056.8,482.2 L1057.9,483.6 L1059.5,485.2 L1061.2,486.9 L1062.3,487.5 L1062.8,487.7 L1064.5,489.0 L1066.1,489.3 L1067.7,489.0 L1069.4,488.5 L1071.0,490.4 L1072.7,491.9 L1074.3,491.3 L1076.0,490.7 L1077.6,493.2 L1079.2,492.9 L1080.9,493.2 L1082.5,492.4 L1084.2,494.0 L1085.8,493.7 L1087.4,493.0 L1089.1,494.2 L1089.6,494.2 L1090.7,494.1 L1092.4,494.8 L1094.0,493.4 L1095.7,494.7 L1097.3,495.1 L1098.9,494.8 L1100.6,495.9 L1102.2,494.2 L1103.9,496.9 L1105.5,496.0 L1107.1,494.5 L1108.8,496.4 L1110.4,496.3 L1112.1,494.9 L1113.7,496.5 L1115.4,495.9 L1117.0,496.7 L1118.6,496.6 L1120.3,494.5 L1121.9,496.8 L1123.6,495.7 L1125.2,496.8 L1126.9,494.9 L1128.5,496.6 L1130.1,496.1 L1131.8,495.0 L1133.4,495.2 L1135.1,496.0 L1136.7,496.3 L1138.3,497.1 L1140.0,495.5 L1141.6,495.3 L1143.3,498.5 L1144.9,496.8 L1146.6,496.5 L1148.2,496.6 L1149.8,496.3 L1151.5,496.2 L1153.1,496.4 L1154.8,496.8 L1156.4,496.6 L1158.1,496.3 L1159.7,496.9 L1161.3,496.2 L1163.0,496.6 L1164.6,496.4 L1166.3,496.4 L1167.9,496.6 L1169.5,496.6 L1171.2,496.7 L1171.7,496.4 L1172.8,496.4 L1174.5,496.3 L1176.1,496.7 L1177.8,497.0 L1179.4,496.7 L1181.0,496.8 L1182.7,496.2 L1184.3,496.0 L1186.0,496.5 L1187.6,496.8 L1189.2,496.8 L1190.9,496.5 L1192.5,496.4 L1194.2,496.4 L1195.8,495.9 L1197.5,496.4 L1199.1,496.7 L1200.7,496.3 L1202.4,496.5 L1204.0,496.8 L1205.7,495.9 L1207.3,496.6 L1209.0,496.6 L1210.6,496.5 L1212.2,496.5 L1213.9,496.8 L1215.5,496.2 L1217.2,496.5 L1218.8,497.0 L1220.4,496.9 L1222.1,496.7 L1223.7,496.6 L1225.4,496.4 L1227.0,496.4 L1228.7,496.5 L1230.3,496.9 L1231.9,496.7 L1233.6,496.3 L1235.2,496.5 L1236.9,496.5 L1238.5,496.5 L1240.2,496.4 L1241.8,496.5 L1243.4,496.6 L1245.1,496.4 L1246.7,496.3 L1248.4,496.4 L1250.0,496.6 L1251.6,496.6 L1253.3,496.2 L1253.8,497.0 L1254.9,496.5 L1256.6,496.8 L1258.2,496.7 L1259.9,496.5 L1261.5,497.0 L1263.1,497.3 L1264.8,496.8 L1266.4,497.1 L1268.1,497.0 L1269.7,497.1 L1271.3,497.0 L1273.0,497.2 L1274.6,497.7 L1276.3,497.4 L1277.9,497.4 L1279.6,497.5 L1281.2,497.6 L1282.8,497.8 L1284.5,497.8 L1286.1,497.9 L1287.8,498.0 L1289.4,498.1 L1291.1,498.3 L1292.7,498.2 L1294.3,497.6 L1296.0,498.3 L1297.6,497.6 L1299.3,497.9 L1300.9,498.4 L1302.5,498.8 L1304.2,498.3 L1305.8,498.4 L1307.5,498.7 L1308.6,498.7 L1309.1,498.9 L1310.8,498.7 L1312.4,498.3 L1314.0,498.9 L1315.7,499.2 L1317.3,498.7 L1319.0,498.8 L1320.6,498.7 L1322.2,498.9 L1323.9,499.2 L1325.5,499.1 L1327.2,499.3 L1328.8,499.1 L1330.5,498.9 L1332.1,499.1 L1333.7,499.2 L1335.4,499.5 L1337.0,499.1 L1338.7,499.3 L1340.3,499.3 L1342.0,499.3 L1343.6,499.5 L1345.2,499.3 L1346.9,499.8 L1348.5,499.4 L1350.2,499.3 L1351.8,499.6 L1353.4,499.3 L1355.1,499.3 L1356.7,499.3 L1358.4,499.9 L1360.0,499.7 L1361.7,499.5 L1363.3,499.8 L1364.9,499.5 L1366.6,499.5 L1368.2,500.0 L1369.9,500.2 L1371.5,499.9 L1373.2,499.7 L1374.8,499.7 L1376.4,499.8 L1378.1,499.9 L1379.7,499.7 L1381.4,499.8 L1383.0,500.0 L1384.6,499.6 L1386.3,499.9 L1387.9,499.7 L1389.6,500.2 L1391.2,500.0 L1392.9,500.1 L1394.5,499.8 L1396.1,500.3 L1397.8,500.4 L1399.4,500.6 L1401.1,499.9 L1402.7,499.8 L1404.3,499.8 L1406.0,500.4 L1407.6,500.3 L1409.3,500.0 L1410.9,500.1 L1412.6,500.0 L1414.2,500.1 L1415.8,500.6 L1417.5,500.4 L1419.1,500.6 L1420.8,500.2 L1422.4,500.1 L1424.1,500.2 L1425.7,500.5 L1427.3,500.0 L1429.0,500.0 L1430.6,500.0 L1432.3,500.0 L1433.9,500.3 L1435.5,500.2 L1437.2,500.5 L1438.8,499.9 L1440.5,500.5 L1442.1,500.1 L1443.8,500.5 L1445.4,500.5 L1447.0,500.5 L1448.7,500.3 L1450.3,499.9 L1452.0,500.5 L1453.6,500.4 L1455.3,500.1 L1456.9,500.3 L1458.5,500.5 L1460.2,500.4 L1461.8,500.7 L1463.5,500.5 L1465.1,500.7 L1466.7,500.5 L1468.4,500.8 L1470.0,500.5 L1471.7,500.6 L1473.3,500.5 L1475.0,500.3 L1476.6,500.5 L1478.2,500.7 L1479.9,500.6 L1481.5,500.4 L1483.2,500.6 L1484.8,500.5 L1486.5,500.5 L1488.1,501.0 L1489.7,500.6 L1491.4,500.4 L1493.0,500.6 L1494.7,500.8 L1496.3,500.8 L1497.9,501.3 L1499.6,500.7 L1501.2,500.4 L1502.9,500.8 L1504.5,501.0 L1506.2,500.7 L1507.8,501.1 L1509.4,501.4 L1511.1,501.1 L1512.7,500.7 L1514.4,500.9 L1516.0,500.7 L1517.6,500.7 L1519.3,500.7 L1520.9,500.9 L1522.6,501.0 L1524.2,500.8 L1524.8,500.7 L1525.9,502.6 L1527.5,505.8" fill="none" stroke="#d08a7c" stroke-width="3.1" stroke-linejoin="round" stroke-linecap="round"/>
<path d="M1034.9,493.1 L1036.5,490.8 L1038.2,489.7 L1039.8,490.9 L1041.5,490.6 L1043.1,488.5 L1044.8,488.4 L1046.4,485.0 L1048.0,485.4 L1048.6,485.8 L1049.7,486.2 L1051.3,485.1 L1053.0,485.2 L1054.6,485.1 L1056.2,482.5 L1057.9,482.4 L1059.5,484.6 L1061.2,482.0 L1062.3,480.4 L1062.8,483.7 L1064.5,481.1 L1066.1,481.5 L1067.7,484.0 L1069.4,484.0 L1071.0,483.6 L1072.7,481.5 L1074.3,485.9 L1076.0,486.5 L1077.6,488.1 L1079.2,486.3 L1080.9,487.0 L1082.5,489.9 L1084.2,489.9 L1085.8,485.7 L1087.4,489.1 L1089.1,490.8 L1089.6,489.3 L1090.7,488.9 L1092.4,490.5 L1094.0,487.9 L1095.7,488.5 L1097.3,491.0 L1098.9,490.2 L1100.6,489.6 L1102.2,492.6 L1103.3,491.8 L1103.9,490.8 L1105.5,492.4 L1107.1,491.3 L1108.8,492.7 L1110.4,492.6 L1112.1,491.2 L1113.7,492.4 L1115.4,491.5 L1117.0,493.7 L1118.6,495.0 L1120.3,491.1 L1121.9,493.0 L1123.6,493.1 L1125.2,491.5 L1126.9,491.2 L1128.5,494.8 L1130.1,492.3 L1131.8,492.2 L1133.4,492.5 L1135.1,493.9 L1136.7,492.9 L1138.3,494.2 L1140.0,489.7 L1141.6,492.4 L1143.3,489.3 L1144.4,492.2 L1144.9,493.3 L1146.6,492.6 L1148.2,490.7 L1149.8,489.8 L1151.5,493.4 L1153.1,491.7 L1154.8,492.0 L1156.4,490.5 L1158.1,493.5 L1159.7,491.6 L1161.3,491.7 L1163.0,490.7 L1164.6,493.9 L1166.3,493.0 L1167.9,494.6 L1169.5,492.5 L1171.2,490.1 L1171.7,488.9 L1172.8,491.3 L1174.5,491.0 L1176.1,489.9 L1177.8,488.9 L1179.4,490.4 L1181.0,491.3 L1182.7,491.7 L1184.3,493.0 L1186.0,490.3 L1187.6,487.9 L1189.2,489.9 L1190.9,489.7 L1192.5,489.4 L1194.2,492.8 L1195.8,490.5 L1197.5,491.5 L1199.1,490.9 L1200.7,491.3 L1202.4,492.3 L1204.0,491.8 L1205.7,491.0 L1207.3,489.8 L1209.0,489.6 L1210.6,488.4 L1212.2,489.8 L1213.9,491.2 L1215.5,490.0 L1217.2,489.2 L1218.8,490.0 L1220.4,490.1 L1222.1,490.4 L1223.7,489.3 L1225.4,490.3 L1226.5,492.1 L1227.0,490.2 L1228.7,490.6 L1230.3,490.2 L1231.9,489.1 L1233.6,487.6 L1235.2,492.0 L1236.9,490.0 L1238.5,492.1 L1240.2,492.0 L1241.8,489.7 L1243.4,491.8 L1245.1,491.1 L1246.7,490.6 L1248.4,490.4 L1250.0,490.9 L1251.6,490.2 L1253.3,491.4 L1253.8,493.4 L1254.9,489.6 L1256.6,488.9 L1258.2,491.2 L1259.9,492.8 L1261.5,491.7 L1263.1,493.3 L1264.8,493.1 L1266.4,493.9 L1268.1,490.6 L1269.7,493.1 L1271.3,492.0 L1273.0,490.7 L1274.6,493.5 L1276.3,494.1 L1277.9,495.9 L1279.6,489.7 L1281.2,491.1 L1282.8,494.0 L1284.5,495.4 L1286.1,493.5 L1287.8,493.6 L1289.4,493.5 L1291.1,494.0 L1292.7,492.3 L1294.3,492.1 L1296.0,494.9 L1297.6,494.9 L1299.3,495.1 L1300.9,494.6 L1302.5,495.3 L1304.2,494.6 L1305.8,493.6 L1307.5,495.2 L1308.6,495.8 L1309.1,495.3 L1310.8,497.4 L1312.4,496.5 L1314.0,497.1 L1315.7,493.2 L1317.3,496.2 L1319.0,493.0 L1320.6,495.3 L1322.2,498.0 L1323.9,499.0 L1325.5,494.8 L1327.2,496.6 L1328.8,494.0 L1330.5,493.6 L1332.1,495.6 L1333.7,496.3 L1335.4,495.9 L1335.9,494.2 L1337.0,495.6 L1338.7,495.2 L1340.3,496.7 L1342.0,495.2 L1343.6,499.2 L1345.2,496.1 L1346.9,500.2 L1348.5,499.7 L1350.2,497.1 L1351.8,497.4 L1353.4,500.0 L1355.1,499.3 L1356.7,497.6 L1358.4,498.5 L1360.0,497.1 L1361.7,498.9 L1363.3,498.5 L1364.9,498.9 L1366.6,500.0 L1368.2,497.7 L1369.9,498.9 L1371.5,501.3 L1373.2,497.7 L1374.8,497.8 L1376.4,497.5 L1378.1,497.6 L1379.7,496.5 L1381.4,497.8 L1383.0,500.6 L1384.6,498.5 L1386.3,499.5 L1387.9,499.6 L1389.6,497.8 L1391.2,500.2 L1392.9,501.4 L1394.5,499.2 L1396.1,502.3 L1397.8,498.2 L1399.4,499.0 L1401.1,499.4 L1402.7,501.0 L1404.3,501.1 L1406.0,499.6 L1407.6,500.1 L1409.3,499.3 L1410.9,498.7 L1412.6,498.4 L1414.2,501.0 L1415.8,499.9 L1417.5,498.8 L1418.0,500.4 L1419.1,500.9 L1420.8,500.0 L1422.4,497.8 L1424.1,499.4 L1425.7,498.7 L1427.3,499.3 L1429.0,498.8 L1430.6,499.9 L1432.3,500.4 L1433.9,500.6 L1435.5,498.7 L1437.2,501.1 L1438.8,499.4 L1440.5,500.3 L1442.1,498.7 L1443.8,498.8 L1445.4,500.7 L1447.0,500.6 L1448.7,499.0 L1450.3,501.0 L1452.0,501.2 L1453.6,497.0 L1455.3,500.7 L1456.9,501.7 L1458.5,501.2 L1460.2,498.3 L1461.8,499.5 L1463.5,500.8 L1465.1,500.3 L1466.7,498.1 L1468.4,500.5 L1470.0,498.4 L1471.7,498.8 L1472.8,499.7 L1473.3,498.8 L1475.0,498.5 L1476.6,498.7 L1478.2,498.8 L1479.9,498.9 L1481.5,499.8 L1483.2,502.2 L1484.8,499.6 L1486.5,498.2 L1488.1,499.8 L1489.7,500.2 L1491.4,501.6 L1493.0,499.6 L1494.7,500.0 L1496.3,501.7 L1497.9,501.2 L1499.6,499.3 L1501.2,501.1 L1502.9,500.5 L1504.5,498.4 L1506.2,499.2 L1507.8,501.5 L1509.4,500.0 L1511.1,499.9 L1512.7,500.3 L1514.4,500.9 L1516.0,499.5 L1517.6,501.9 L1519.3,499.7 L1520.9,500.5 L1522.6,500.4 L1524.2,500.0 L1524.8,503.1 L1525.9,503.1 L1527.5,504.9" fill="none" stroke="#ee7d31" stroke-width="3.1" stroke-linejoin="round" stroke-linecap="round"/>
<path d="M1034.9,491.3 L1036.5,490.7 L1038.2,490.0 L1039.8,488.0 L1041.5,488.0 L1043.1,485.1 L1044.8,487.2 L1046.4,485.3 L1048.0,482.8 L1048.6,483.8 L1049.7,483.4 L1051.3,482.2 L1053.0,481.5 L1054.6,481.3 L1056.2,480.6 L1057.9,479.2 L1059.5,479.1 L1061.2,479.3 L1062.3,478.9 L1062.8,478.1 L1064.5,477.4 L1066.1,481.5 L1067.7,481.3 L1069.4,479.4 L1070.5,481.5 L1071.0,482.8 L1072.7,481.9 L1074.3,483.5 L1076.0,484.9 L1077.6,484.5 L1079.2,486.7 L1080.9,486.7 L1081.4,487.1 L1082.5,486.3 L1084.2,487.1 L1085.8,489.8 L1087.4,489.9 L1089.1,491.7 L1089.6,491.4 L1090.7,490.3 L1092.4,490.9 L1094.0,491.5 L1095.7,492.6 L1097.3,491.8 L1098.9,492.8 L1100.6,493.3 L1102.2,491.2 L1103.9,491.7 L1105.5,493.8 L1107.1,492.7 L1108.8,493.9 L1110.4,492.9 L1112.1,491.7 L1113.7,495.0 L1115.4,493.3 L1117.0,492.5 L1118.6,493.8 L1120.3,496.0 L1121.9,494.9 L1123.6,492.7 L1125.2,495.5 L1126.9,495.2 L1128.5,493.7 L1130.1,494.6 L1131.8,494.6 L1133.4,494.3 L1135.1,494.5 L1136.7,495.7 L1138.3,494.8 L1140.0,496.0 L1141.6,494.6 L1143.3,494.8 L1144.4,495.2 L1144.9,495.0 L1146.6,495.9 L1148.2,496.5 L1149.8,494.6 L1151.5,493.8 L1153.1,495.5 L1154.8,495.1 L1156.4,493.8 L1158.1,494.1 L1159.7,493.4 L1161.3,495.6 L1163.0,494.9 L1164.6,494.8 L1166.3,494.6 L1167.9,494.8 L1169.5,494.3 L1171.2,494.7 L1171.7,493.3 L1172.8,494.1 L1174.5,493.1 L1176.1,492.2 L1177.8,492.0 L1179.4,489.9 L1181.0,490.6 L1182.7,489.6 L1184.3,491.2 L1186.0,493.1 L1187.6,493.6 L1188.2,493.8 L1189.2,493.9 L1190.9,493.8 L1192.5,494.2 L1194.2,494.3 L1195.8,493.7 L1197.5,493.7 L1199.1,492.8 L1200.7,494.6 L1202.4,494.6 L1204.0,494.6 L1205.7,494.4 L1207.3,494.7 L1209.0,495.0 L1210.6,494.8 L1212.2,495.0 L1213.9,494.8 L1215.5,494.9 L1217.2,495.1 L1218.8,495.3 L1220.4,494.9 L1222.1,495.2 L1223.7,495.3 L1225.4,495.1 L1227.0,495.3 L1228.7,495.7 L1230.3,495.6 L1231.9,495.5 L1233.6,496.0 L1235.2,495.7 L1236.9,495.7 L1238.5,495.7 L1240.2,496.1 L1241.8,496.2 L1243.4,496.2 L1245.1,495.9 L1246.7,496.3 L1248.4,496.2 L1250.0,496.6 L1251.6,496.5 L1253.3,496.6 L1253.8,496.4 L1254.9,496.4 L1256.6,496.7 L1258.2,496.1 L1259.9,496.6 L1261.5,496.4 L1263.1,496.5 L1264.8,496.9 L1266.4,496.5 L1268.1,497.0 L1269.7,496.8 L1271.3,497.0 L1273.0,497.0 L1274.6,496.5 L1276.3,497.2 L1277.9,496.7 L1279.6,497.4 L1281.2,497.5 L1282.8,497.6 L1284.5,497.3 L1286.1,497.0 L1287.8,497.5 L1289.4,496.9 L1291.1,497.3 L1292.7,497.7 L1294.3,497.2 L1296.0,497.4 L1297.6,497.7 L1299.3,497.4 L1300.9,497.7 L1302.5,497.3 L1304.2,497.7 L1305.8,497.4 L1307.5,497.7 L1308.6,497.6 L1309.1,497.7 L1310.8,497.5 L1312.4,497.7 L1314.0,497.9 L1315.7,497.6 L1317.3,497.7 L1319.0,498.1 L1320.6,497.9 L1322.2,497.8 L1323.9,498.4 L1325.5,497.9 L1327.2,497.9 L1328.8,498.2 L1330.5,497.9 L1332.1,498.1 L1333.7,498.0 L1335.4,498.2 L1337.0,497.9 L1338.7,498.1 L1340.3,498.4 L1342.0,498.0 L1343.6,498.5 L1345.2,498.3 L1346.9,498.3 L1348.5,498.4 L1350.2,498.5 L1351.8,498.2 L1353.4,498.6 L1355.1,498.7 L1356.7,498.6 L1358.4,498.5 L1360.0,498.5 L1361.7,498.9 L1363.3,498.6 L1364.9,498.3 L1366.6,498.6 L1368.2,499.1 L1369.9,499.3 L1371.5,498.9 L1373.2,499.1 L1374.8,498.5 L1376.4,498.4 L1378.1,498.8 L1379.7,499.0 L1381.4,498.7 L1383.0,498.8 L1384.6,498.9 L1386.3,498.3 L1387.9,498.7 L1389.6,498.3 L1390.7,498.9 L1391.2,498.6 L1392.9,498.5 L1394.5,498.4 L1396.1,497.9 L1397.8,498.0 L1399.4,498.1 L1401.1,497.9 L1402.7,497.7 L1404.3,497.7 L1406.0,497.4 L1407.6,497.5 L1409.3,497.4 L1410.9,497.0 L1412.6,497.0 L1414.2,496.8 L1415.8,496.5 L1417.5,496.7 L1418.0,496.7 L1419.1,496.4 L1420.8,496.3 L1422.4,496.1 L1424.1,495.8 L1425.7,496.0 L1427.3,496.1 L1429.0,495.5 L1430.6,495.3 L1432.3,495.4 L1433.9,494.9 L1435.5,495.0 L1437.2,495.1 L1438.8,494.7 L1440.5,494.7 L1442.1,494.5 L1443.8,494.5 L1445.4,494.1 L1447.0,494.0 L1448.7,494.3 L1450.3,493.5 L1452.0,493.0 L1453.6,493.3 L1455.3,493.3 L1456.9,492.4 L1458.5,492.8 L1460.2,492.7 L1461.8,492.1 L1463.5,491.6 L1465.1,492.0 L1466.7,491.6 L1468.4,491.6 L1470.0,491.5 L1471.7,491.0 L1472.8,491.1 L1473.3,490.5 L1475.0,490.5 L1476.6,490.9 L1478.2,490.2 L1479.9,490.3 L1481.5,489.6 L1483.2,489.9 L1484.8,489.6 L1486.5,489.7 L1488.1,489.2 L1489.7,488.6 L1491.4,489.0 L1493.0,488.3 L1494.7,488.6 L1496.3,488.2 L1497.9,488.3 L1499.6,488.1 L1500.1,488.0 L1501.2,487.9 L1502.9,487.5 L1504.5,487.5 L1506.2,487.3 L1507.8,487.2 L1509.4,486.8 L1511.1,486.8 L1512.7,486.5 L1514.4,486.5 L1516.0,486.5 L1517.6,486.2 L1519.3,485.8 L1520.9,486.1 L1522.6,485.8 L1524.2,485.4 L1524.8,485.3 L1525.9,488.2 L1527.5,492.1" fill="none" stroke="#dbbfae" stroke-width="3.1" stroke-linejoin="round" stroke-linecap="round"/>
<path d="M1034.9,497.4 L1036.5,495.8 L1038.2,493.4 L1039.8,492.3 L1041.5,489.1 L1043.1,488.1 L1044.8,490.0 L1046.4,490.9 L1048.0,490.3 L1049.7,491.0 L1051.3,492.0 L1053.0,496.5 L1054.6,501.8 L1056.2,505.8 L1056.8,506.9 L1057.9,507.9 L1059.5,511.1 L1061.2,509.9 L1062.3,510.6 L1062.8,511.9 L1064.5,511.4 L1066.1,513.9 L1067.7,513.3 L1069.4,513.7 L1071.0,514.7 L1072.7,515.1 L1074.3,514.3 L1076.0,516.5 L1077.6,516.0 L1079.2,518.0 L1080.9,516.2 L1082.5,517.4 L1084.2,516.8 L1085.8,517.6 L1087.4,519.5 L1089.1,517.7 L1089.6,516.7 L1090.7,517.8 L1092.4,517.1 L1094.0,515.9 L1095.7,516.6 L1097.3,515.4 L1097.8,515.2 L1098.9,516.0 L1100.6,517.6 L1102.2,518.1 L1103.3,517.8 L1103.9,519.3 L1105.5,520.1 L1107.1,520.1 L1108.8,519.6 L1110.4,519.1 L1112.1,521.0 L1113.7,522.4 L1115.4,521.5 L1117.0,520.1 L1118.6,520.7 L1120.3,520.7 L1121.9,520.4 L1123.6,520.7 L1125.2,520.2 L1126.9,520.7 L1128.5,520.6 L1130.1,520.7 L1131.8,520.9 L1133.4,520.6 L1135.1,520.7 L1136.7,520.4 L1138.3,520.7 L1140.0,520.4 L1141.6,520.7 L1143.3,521.0 L1144.9,520.5 L1146.6,521.0 L1148.2,520.8 L1149.8,520.4 L1151.5,520.6 L1153.1,520.7 L1154.8,520.7 L1156.4,520.8 L1158.1,520.5 L1159.7,520.5 L1161.3,520.6 L1163.0,521.0 L1164.6,521.1 L1166.3,520.7 L1167.9,520.7 L1169.5,520.7 L1171.2,520.8 L1172.8,520.8 L1174.5,520.6 L1176.1,520.9 L1177.8,520.6 L1179.4,520.7 L1181.0,520.7 L1182.7,520.8 L1184.3,520.4 L1186.0,520.3 L1187.6,520.4 L1189.2,521.1 L1190.9,520.9 L1192.5,520.2 L1194.2,520.8 L1195.8,520.9 L1197.5,520.4 L1199.1,521.0 L1200.7,520.3 L1202.4,520.5 L1204.0,520.9 L1205.7,520.8 L1207.3,521.0 L1209.0,520.2 L1210.6,520.5 L1212.2,520.2 L1213.9,520.6 L1215.5,520.5 L1217.2,520.2 L1218.8,520.4 L1220.4,520.5 L1222.1,520.6 L1223.7,520.6 L1225.4,520.8 L1227.0,520.2 L1228.7,520.8 L1230.3,521.0 L1231.9,520.5 L1233.6,520.5 L1235.2,520.9 L1236.9,520.5 L1238.5,520.7 L1240.2,520.8 L1241.8,520.7 L1243.4,520.3 L1245.1,520.6 L1246.7,520.6 L1248.4,520.6 L1250.0,521.0 L1251.6,520.8 L1253.3,520.5 L1254.9,520.5 L1256.6,520.4 L1258.2,520.8 L1259.9,520.3 L1261.5,520.5 L1263.1,520.6 L1264.8,520.4 L1266.4,520.0 L1268.1,520.7 L1269.7,520.6 L1271.3,520.6 L1273.0,520.7 L1274.6,520.8 L1276.3,520.6 L1277.9,520.4 L1279.6,520.5 L1281.2,520.7 L1282.8,520.8 L1284.5,520.8 L1286.1,520.8 L1287.8,520.4 L1289.4,520.7 L1291.1,520.7 L1292.7,520.7 L1294.3,520.7 L1296.0,520.5 L1297.6,520.6 L1299.3,520.8 L1300.9,520.4 L1302.5,520.7 L1304.2,520.7 L1305.8,520.5 L1307.5,520.9 L1309.1,520.4 L1310.8,520.8 L1312.4,520.6 L1314.0,520.1 L1315.7,520.8 L1317.3,520.7 L1319.0,520.9 L1320.6,520.8 L1322.2,520.7 L1323.9,520.8 L1325.5,520.4 L1327.2,520.8 L1328.8,520.7 L1330.5,520.6 L1332.1,520.5 L1333.7,520.3 L1335.4,520.9 L1337.0,520.5 L1338.7,520.8 L1340.3,520.8 L1342.0,520.6 L1343.6,520.6 L1345.2,520.4 L1346.9,520.8 L1348.5,520.4 L1350.2,520.9 L1351.8,520.7 L1353.4,520.8 L1355.1,520.7 L1356.7,520.9 L1358.4,520.8 L1360.0,520.7 L1361.7,520.8 L1363.3,521.1 L1364.9,520.2 L1366.6,520.9 L1368.2,520.4 L1369.9,520.5 L1371.5,520.7 L1373.2,520.5 L1374.8,520.7 L1376.4,520.6 L1378.1,520.3 L1379.7,520.5 L1381.4,520.5 L1383.0,520.9 L1384.6,520.6 L1386.3,521.1 L1387.9,520.5 L1389.6,520.5 L1391.2,520.8 L1392.9,520.7 L1394.5,520.6 L1396.1,520.9 L1397.8,520.7 L1399.4,520.1 L1401.1,520.7 L1402.7,520.3 L1404.3,520.7 L1406.0,521.0 L1407.6,520.5 L1409.3,520.5 L1410.9,520.4 L1412.6,520.7 L1414.2,520.7 L1415.8,520.4 L1417.5,520.9 L1419.1,520.7 L1420.8,520.6 L1422.4,520.4 L1424.1,520.3 L1425.7,520.5 L1427.3,520.6 L1429.0,520.7 L1430.6,520.6 L1432.3,520.3 L1433.9,520.7 L1435.5,520.8 L1437.2,520.8 L1438.8,520.8 L1440.5,520.3 L1442.1,520.5 L1443.8,520.5 L1445.4,520.5 L1447.0,520.5 L1448.7,520.3 L1450.3,521.1 L1452.0,520.3 L1453.6,520.4 L1455.3,520.6 L1456.9,520.7 L1458.5,520.7 L1460.2,520.7 L1461.8,520.7 L1463.5,520.7 L1465.1,520.7 L1466.7,520.4 L1468.4,520.4 L1470.0,520.4 L1471.7,520.8 L1473.3,520.4 L1475.0,520.4 L1476.6,520.3 L1478.2,520.4 L1479.9,520.7 L1481.5,520.3 L1483.2,520.5 L1484.8,520.6 L1486.5,520.9 L1488.1,520.7 L1489.7,520.8 L1491.4,520.6 L1493.0,520.8 L1494.7,520.5 L1496.3,520.7 L1497.9,520.6 L1499.6,520.5 L1501.2,520.7 L1502.9,520.5 L1504.5,520.6 L1506.2,520.7 L1507.8,520.5 L1509.4,521.0 L1511.1,520.5 L1512.7,520.7 L1514.4,520.5 L1516.0,520.5 L1517.6,521.0 L1519.3,521.0 L1520.9,520.5 L1522.6,520.7 L1524.2,520.3 L1524.8,520.7 L1525.9,521.6 L1527.5,523.0" fill="none" stroke="#c4a3d9" stroke-width="3.1" stroke-linejoin="round" stroke-linecap="round"/>
<rect x="1479.5" y="217.5" width="51.5" height="212" fill="none" stroke="#a3d9e3" stroke-width="3" stroke-dasharray="9.5,9.5"/>
<path d="M1034.9,198.8 V543.8 M1019.8,529.4 H1529.2" stroke="#000" stroke-width="3.6" fill="none"/>
<path d="M1019.8,463.6 H1034.9" stroke="#000" stroke-width="3.6"/>
<path d="M1019.8,397.8 H1034.9" stroke="#000" stroke-width="3.6"/>
<path d="M1019.8,332.1 H1034.9" stroke="#000" stroke-width="3.6"/>
<path d="M1019.8,266.3 H1034.9" stroke="#000" stroke-width="3.6"/>
<path d="M1019.8,200.5 H1034.9" stroke="#000" stroke-width="3.6"/>
<path d="M1117.0,529.4 V543.8" stroke="#000" stroke-width="3.6"/>
<path d="M1199.1,529.4 V543.8" stroke="#000" stroke-width="3.6"/>
<path d="M1281.2,529.4 V543.8" stroke="#000" stroke-width="3.6"/>
<path d="M1363.3,529.4 V543.8" stroke="#000" stroke-width="3.6"/>
<path d="M1445.4,529.4 V543.8" stroke="#000" stroke-width="3.6"/>
<path d="M1527.5,529.4 V543.8" stroke="#000" stroke-width="3.6"/>
<text transform="translate(368.60,239.40) scale(0.9902,1.0000) translate(-0.68,0)" font-size="24.8" fill="#43aac9">selected</text>
<text transform="translate(366.70,483.60) scale(1.0126,1.0000) translate(-1.67,0)" font-size="24.8" fill="#d7282a">non-selected</text>
<text transform="translate(1249.90,232.40) scale(0.9924,1.0000) translate(-0.68,0)" font-size="24.8" fill="#43aac9">selected</text>
<text transform="translate(1250.70,483.30) scale(1.0205,1.0000) translate(-1.67,0)" font-size="24.8" fill="#d7282a">non-selected</text>
<text transform="translate(2.80,33.70) scale(0.8752,1.0000) translate(-1.64,0)" font-size="54.5" font-weight="700" fill="#1a1718">a</text>
<text transform="translate(2.80,712.00) scale(1.0064,1.0000) translate(-3.54,0)" font-size="54.5" font-weight="700" fill="#1a1718">b</text>
<text transform="translate(2.50,1076.80) scale(0.8619,1.0000) translate(-2.18,0)" font-size="54.5" font-weight="700" fill="#1a1718">c</text>
<text transform="translate(634.90,70.60) scale(0.8999,1.0000) translate(-2.73,0)" font-size="40.5" font-weight="700" fill="#000">Fitness landscape of soluble IDPs</text>
<text transform="translate(389.00,739.90) scale(0.9286,1.0000) translate(-2.73,0)" font-size="40.5" font-weight="700" fill="#1a1718">Kyte-Doolittle hydropathy scores of evolved soluble synIDPs</text>
<text transform="translate(785.80,1098.70) scale(0.8529,1.0000) translate(-1.21,0)" font-size="40.5" font-weight="700" fill="#1a1718">SDS-PAGE assay</text>
<text transform="translate(322.70,131.20) scale(1.0384,1.0000) translate(-2.64,0)" font-size="35.2" fill="#1a1718">1st round</text>
<text transform="translate(1192.80,131.10) scale(1.0613,1.0000) translate(-1.76,0)" font-size="35.2" fill="#1a1718">2nd round</text>
<text transform="translate(447.20,1175.20) scale(1.0439,1.0000) translate(-1.57,0)" font-size="35" fill="#1a1718">Soluble fraction</text>
<text transform="translate(1137.30,1175.40) scale(1.0611,1.0000) translate(-3.24,0)" font-size="35" fill="#1a1718">Insoluble fraction</text>
<text transform="translate(83.70,207.90) scale(0.9803,1.0000) translate(-2.14,0)" font-size="28.5" fill="#000">1.00</text>
<text transform="translate(81.60,291.20) scale(1.0028,1.0000) translate(-1.14,0)" font-size="28.5" fill="#000">0.75</text>
<text transform="translate(81.60,373.60) scale(1.0014,1.0000) translate(-1.14,0)" font-size="28.5" fill="#000">0.50</text>
<text transform="translate(81.60,456.30) scale(1.0028,1.0000) translate(-1.14,0)" font-size="28.5" fill="#000">0.25</text>
<text transform="translate(81.60,533.60) scale(1.0014,1.0000) translate(-1.14,0)" font-size="28.5" fill="#000">0.00</text>
<text transform="translate(145.60,570.70) scale(0.9920,1.0000) translate(-1.14,0)" font-size="28.5" fill="#000">0</text>
<text transform="translate(231.10,570.70) scale(0.8569,1.0000) translate(-1.07,0)" font-size="28.5" fill="#000">3</text>
<text transform="translate(313.80,570.70) scale(1.0318,1.0000) translate(-1.43,0)" font-size="28.5" fill="#000">6</text>
<text transform="translate(395.60,570.70) scale(1.0621,1.0000) translate(-1.35,0)" font-size="28.5" fill="#000">9</text>
<text transform="translate(471.50,570.70) scale(0.9654,1.0000) translate(-2.14,0)" font-size="28.5" fill="#000">12</text>
<text transform="translate(553.60,570.70) scale(0.9874,1.0000) translate(-2.14,0)" font-size="28.5" fill="#000">15</text>
<text transform="translate(635.80,570.70) scale(1.0464,1.0000) translate(-2.14,0)" font-size="28.5" fill="#000">18</text>
<text transform="translate(352.00,607.70) scale(0.9866,1.0000) translate(-0.67,0)" font-size="29.6" fill="#000">Time (h)</text>
<text transform="translate(980.80,208.20) scale(0.9302,1.0000) translate(-2.14,0)" font-size="28.5" fill="#000">1.5</text>
<text transform="translate(980.80,274.00) scale(0.9375,1.0000) translate(-2.14,0)" font-size="28.5" fill="#000">1.2</text>
<text transform="translate(977.90,341.30) scale(0.9868,1.0000) translate(-1.14,0)" font-size="28.5" fill="#000">0.9</text>
<text transform="translate(977.90,407.20) scale(0.9849,1.0000) translate(-1.14,0)" font-size="28.5" fill="#000">0.6</text>
<text transform="translate(977.80,474.70) scale(0.9876,1.0000) translate(-1.14,0)" font-size="28.5" fill="#000">0.3</text>
<text transform="translate(977.80,543.00) scale(0.9838,1.0000) translate(-1.14,0)" font-size="28.5" fill="#000">0.0</text>
<text transform="translate(1028.60,573.50) scale(0.9920,1.0000) translate(-1.14,0)" font-size="28.5" fill="#000">0</text>
<text transform="translate(1114.10,573.50) scale(0.8790,1.0000) translate(-1.07,0)" font-size="28.5" fill="#000">3</text>
<text transform="translate(1196.70,573.50) scale(1.1759,1.0000) translate(-1.43,0)" font-size="28.5" fill="#000">6</text>
<text transform="translate(1279.10,573.50) scale(1.1076,1.0000) translate(-1.35,0)" font-size="28.5" fill="#000">9</text>
<text transform="translate(1355.90,573.50) scale(0.9333,1.0000) translate(-2.14,0)" font-size="28.5" fill="#000">12</text>
<text transform="translate(1437.50,573.50) scale(0.9839,1.0000) translate(-2.14,0)" font-size="28.5" fill="#000">15</text>
<text transform="translate(1520.10,573.50) scale(1.0076,1.0000) translate(-2.14,0)" font-size="28.5" fill="#000">18</text>
<text transform="translate(1241.20,607.40) scale(0.9753,1.0000) translate(-0.67,0)" font-size="29.6" fill="#000">Time (h)</text>
<text transform="translate(57.20,394.90) rotate(-90) scale(0.9309,1.0000) translate(-1.50,0)" font-size="31.5" fill="#000">OD</text>
<text transform="translate(68.00,352.80) rotate(-90) scale(0.9494,1.0000) translate(-0.90,0)" font-size="18" fill="#000">600</text>
<text transform="translate(948.40,388.60) rotate(-90) scale(0.9219,1.0000) translate(-1.50,0)" font-size="31.5" fill="#000">OD</text>
<text transform="translate(959.10,346.70) rotate(-90) scale(0.9775,1.0000) translate(-0.90,0)" font-size="18" fill="#000">600</text>
<path d="M258.2,777.5 H1588.2 M258.2,852.9 H1588.2 M258.2,933.3 H1588.2 M514.7,777.5 V933.3" stroke="#1a1718" stroke-width="2.4" fill="none"/>
<text transform="translate(351.30,823.60) scale(1.0471,1.0000) translate(-2.20,0)" font-size="26.7" fill="#1a1718">Protein</text>
<text transform="translate(547.20,806.70) scale(1.0822,1.0000) translate(-0.73,0)" font-size="26.7" fill="#1a1718">starting</text>
<text transform="translate(528.70,840.90) scale(0.9870,1.0000) translate(-0.73,0)" font-size="26.7" fill="#1a1718">sequence 3</text>
<text transform="translate(320.60,886.60) scale(1.0439,1.0000) translate(-2.20,0)" font-size="26.7" fill="#1a1718">Hydropathy</text>
<text transform="translate(362.10,921.50) scale(0.9809,1.0000) translate(-0.73,0)" font-size="26.7" fill="#1a1718">score</text>
<text transform="translate(563.30,903.90) scale(0.9768,1.0000) translate(-0.60,0)" font-size="26.7" fill="#1a1718">4.000</text>
<text transform="translate(746.00,823.60) scale(0.8912,1.0000) translate(-0.73,0)" font-size="26.7" fill="#1a1718">sIDP1</text>
<text transform="translate(893.50,823.60) scale(0.9303,1.0000) translate(-0.73,0)" font-size="26.7" fill="#1a1718">sIDP2</text>
<text transform="translate(1041.30,823.60) scale(0.9333,1.0000) translate(-0.73,0)" font-size="26.7" fill="#1a1718">sIDP3</text>
<text transform="translate(1189.90,823.60) scale(0.9281,1.0000) translate(-0.73,0)" font-size="26.7" fill="#1a1718">sIDP4</text>
<text transform="translate(1337.80,823.60) scale(0.9198,1.0000) translate(-0.73,0)" font-size="26.7" fill="#1a1718">sIDP5</text>
<text transform="translate(1485.60,823.60) scale(0.9319,1.0000) translate(-0.73,0)" font-size="26.7" fill="#1a1718">sIDP6</text>
<text transform="translate(746.00,903.90) scale(0.9833,1.0000) translate(-0.60,0)" font-size="26.7" fill="#1a1718">4.422</text>
<text transform="translate(894.00,903.90) scale(0.9803,1.0000) translate(-0.60,0)" font-size="26.7" fill="#1a1718">4.437</text>
<text transform="translate(1042.10,903.90) scale(0.9911,1.0000) translate(-0.60,0)" font-size="26.7" fill="#1a1718">4.398</text>
<text transform="translate(1191.50,903.90) scale(0.9693,1.0000) translate(-1.00,0)" font-size="26.7" fill="#1a1718">3.882</text>
<text transform="translate(1339.70,903.90) scale(0.9716,1.0000) translate(-0.60,0)" font-size="26.7" fill="#1a1718">4.015</text>
<text transform="translate(1489.40,903.90) scale(0.9710,1.0000) translate(-0.60,0)" font-size="26.7" fill="#1a1718">4.027</text>
<path d="M676.2,147.5 H891.4 V468.3 H676.5" fill="none" stroke="#a3d9e3" stroke-width="3" stroke-dasharray="9.5,9.6" stroke-dashoffset="-6.7"/>
<path d="M676.2,147.5 L649.2,300.5 M676.5,468.3 L649.2,348.5" fill="none" stroke="#a3d9e3" stroke-width="3" stroke-dasharray="9.5,9.6" stroke-dashoffset="5"/>
<path d="M1565,151.3 H1765.7 V468.3 H1554" fill="none" stroke="#a3d9e3" stroke-width="3" stroke-dasharray="9.5,9.6" stroke-dashoffset="0"/>
<path d="M1564,151.5 L1531,217.5 M1554,468.3 L1531,429.5" fill="none" stroke="#a3d9e3" stroke-width="3" stroke-dasharray="9.5,9.6" stroke-dashoffset="5"/>
<clipPath id="mc1"><rect x="730.9" y="162.5" width="95.6" height="95.3"/></clipPath><rect x="730.9" y="162.5" width="95.6" height="95.3" fill="#030303"/><g clip-path="url(#mc1)"><g filter="url(#mb1)"><line x1="770.4" y1="178.9" x2="792.8" y2="180.8" stroke="#2a1470" stroke-width="9.5" stroke-linecap="round" opacity="1"/><line x1="770.4" y1="178.9" x2="792.8" y2="180.8" stroke="#8a2a8c" stroke-width="7.0" stroke-linecap="round" opacity="1"/><line x1="770.4" y1="178.9" x2="792.8" y2="180.8" stroke="#e8503c" stroke-width="5.0" stroke-linecap="round" opacity="1"/><line x1="770.4" y1="178.9" x2="792.8" y2="180.8" stroke="#fdb52e" stroke-width="3.0" stroke-linecap="round" opacity="1"/><line x1="770.4" y1="178.9" x2="792.8" y2="180.8" stroke="#fff08a" stroke-width="1.0" stroke-linecap="round" opacity="1"/></g><g filter="url(#mb1)"><line x1="774.3" y1="194.9" x2="780.4" y2="206.1" stroke="#2a1470" stroke-width="9.5" stroke-linecap="round" opacity="1"/><line x1="774.3" y1="194.9" x2="780.4" y2="206.1" stroke="#8a2a8c" stroke-width="7.0" stroke-linecap="round" opacity="1"/><line x1="774.3" y1="194.9" x2="780.4" y2="206.1" stroke="#e8503c" stroke-width="5.0" stroke-linecap="round" opacity="1"/><line x1="774.3" y1="194.9" x2="780.4" y2="206.1" stroke="#fdb52e" stroke-width="3.0" stroke-linecap="round" opacity="1"/><line x1="774.3" y1="194.9" x2="780.4" y2="206.1" stroke="#fff08a" stroke-width="1.0" stroke-linecap="round" opacity="1"/></g><g filter="url(#mb1)"><line x1="777.5" y1="220.0" x2="767.7" y2="241.5" stroke="#2a1470" stroke-width="9.5" stroke-linecap="round" opacity="1"/><line x1="777.5" y1="220.0" x2="767.7" y2="241.5" stroke="#8a2a8c" stroke-width="7.0" stroke-linecap="round" opacity="1"/><line x1="777.5" y1="220.0" x2="767.7" y2="241.5" stroke="#e8503c" stroke-width="5.0" stroke-linecap="round" opacity="1"/><line x1="777.5" y1="220.0" x2="767.7" y2="241.5" stroke="#fdb52e" stroke-width="3.0" stroke-linecap="round" opacity="1"/><line x1="777.5" y1="220.0" x2="767.7" y2="241.5" stroke="#fff08a" stroke-width="1.0" stroke-linecap="round" opacity="1"/></g><rect x="796.0" y="250.5" width="28.4" height="6.2" fill="#fff"/><text transform="translate(732.70,177.60) scale(0.8666,1.0000) translate(-0.49,0)" font-size="18" fill="#fff">sIDP1</text></g>
<clipPath id="mc2"><rect x="683.2" y="262" width="95.4" height="95.0"/></clipPath><rect x="683.2" y="262" width="95.4" height="95.0" fill="#030303"/><g clip-path="url(#mc2)"><g filter="url(#mb1)"><line x1="691.0" y1="311.0" x2="714.2" y2="298.5" stroke="#1c1060" stroke-width="8.5" stroke-linecap="round" opacity="1"/><line x1="691.0" y1="311.0" x2="714.2" y2="298.5" stroke="#4a32b8" stroke-width="6.0" stroke-linecap="round" opacity="1"/><line x1="691.0" y1="311.0" x2="714.2" y2="298.5" stroke="#6a4cd0" stroke-width="3.0" stroke-linecap="round" opacity="1"/></g><g filter="url(#mb1)"><line x1="721.7" y1="294.8" x2="737.7" y2="290.1" stroke="#150c48" stroke-width="7.5" stroke-linecap="round" opacity="1"/><line x1="721.7" y1="294.8" x2="737.7" y2="290.1" stroke="#3526a0" stroke-width="4.5" stroke-linecap="round" opacity="1"/></g><g filter="url(#mb1)"><line x1="754.0" y1="294.5" x2="777.5" y2="284.8" stroke="#1c1060" stroke-width="8.5" stroke-linecap="round" opacity="1"/><line x1="754.0" y1="294.5" x2="777.5" y2="284.8" stroke="#4a32b8" stroke-width="6.0" stroke-linecap="round" opacity="1"/><line x1="754.0" y1="294.5" x2="777.5" y2="284.8" stroke="#6a4cd0" stroke-width="3.0" stroke-linecap="round" opacity="1"/></g><g filter="url(#mb2)"><circle cx="689.4" cy="311.8" r="5.1" fill="#a0308c"/><circle cx="689.4" cy="311.8" r="3.9" fill="#f59030"/><circle cx="689.4" cy="311.8" r="2.9" fill="#fff6d8"/></g><g filter="url(#mb2)"><circle cx="752.4" cy="295.2" r="5.3" fill="#a0308c"/><circle cx="752.4" cy="295.2" r="4.1" fill="#f59030"/><circle cx="752.4" cy="295.2" r="3.1" fill="#fff6d8"/></g><text transform="translate(758.40,333.40) scale(1.1317,1.0000) translate(-2.32,0)" font-size="58" font-weight="700" fill="#2d2d2d">c</text><rect x="755.9" y="349.3" width="19.3" height="5.8" fill="#fff"/></g>
<clipPath id="mc3"><rect x="781.4" y="262" width="95.6" height="95.0"/></clipPath><rect x="781.4" y="262" width="95.6" height="95.0" fill="#030303"/><g clip-path="url(#mc3)"><g filter="url(#mb1)"><line x1="790.4" y1="291.4" x2="798.8" y2="277.4" stroke="#2a1470" stroke-width="9.0" stroke-linecap="round" opacity="1"/><line x1="790.4" y1="291.4" x2="798.8" y2="277.4" stroke="#7a2a9c" stroke-width="6.5" stroke-linecap="round" opacity="1"/><line x1="790.4" y1="291.4" x2="798.8" y2="277.4" stroke="#d03a5c" stroke-width="4.3" stroke-linecap="round" opacity="1"/><line x1="790.4" y1="291.4" x2="798.8" y2="277.4" stroke="#f2703a" stroke-width="2.1" stroke-linecap="round" opacity="1"/></g><g filter="url(#mb2)"><circle cx="788.9" cy="293.3" r="3.8" fill="#a0308c"/><circle cx="788.9" cy="293.3" r="2.6" fill="#f59030"/><circle cx="788.9" cy="293.3" r="1.6" fill="#fff6d8"/></g><g filter="url(#mb1)"><line x1="852.0" y1="329.0" x2="867.4" y2="336.7" stroke="#2a1470" stroke-width="9.0" stroke-linecap="round" opacity="1"/><line x1="852.0" y1="329.0" x2="867.4" y2="336.7" stroke="#7a2a9c" stroke-width="6.5" stroke-linecap="round" opacity="1"/><line x1="852.0" y1="329.0" x2="867.4" y2="336.7" stroke="#d03a5c" stroke-width="4.3" stroke-linecap="round" opacity="1"/><line x1="852.0" y1="329.0" x2="867.4" y2="336.7" stroke="#f2703a" stroke-width="2.1" stroke-linecap="round" opacity="1"/></g><g filter="url(#mb2)"><circle cx="850.0" cy="327.8" r="3.4" fill="#a0308c"/><circle cx="850.0" cy="327.8" r="2.2" fill="#f59030"/><circle cx="850.0" cy="327.8" r="1.2" fill="#fff6d8"/></g><g filter="url(#mb2)"><circle cx="869.0" cy="337.8" r="3.2" fill="#a0308c"/><circle cx="869.0" cy="337.8" r="2.0" fill="#f59030"/><circle cx="869.0" cy="337.8" r="1.0" fill="#fff6d8"/></g><rect x="852.2" y="349.3" width="22.1" height="5.8" fill="#fff"/></g>
<clipPath id="mc4"><rect x="683.2" y="360" width="95.4" height="95.5"/></clipPath><rect x="683.2" y="360" width="95.4" height="95.5" fill="#030303"/><g clip-path="url(#mc4)"><g filter="url(#mb1)"><line x1="697.0" y1="392.2" x2="719.5" y2="400.0" stroke="#2a1470" stroke-width="8.5" stroke-linecap="round" opacity="1"/><line x1="697.0" y1="392.2" x2="719.5" y2="400.0" stroke="#7a2a9c" stroke-width="6.0" stroke-linecap="round" opacity="1"/><line x1="697.0" y1="392.2" x2="719.5" y2="400.0" stroke="#d03a5c" stroke-width="3.8" stroke-linecap="round" opacity="1"/><line x1="697.0" y1="392.2" x2="719.5" y2="400.0" stroke="#f2703a" stroke-width="1.6" stroke-linecap="round" opacity="1"/></g><g filter="url(#mb2)"><circle cx="695.0" cy="391.5" r="3.5" fill="#a0308c"/><circle cx="695.0" cy="391.5" r="2.3" fill="#f59030"/><circle cx="695.0" cy="391.5" r="1.3" fill="#fff6d8"/></g><g filter="url(#mb2)"><circle cx="708.0" cy="396.3" r="3.2" fill="#a0308c"/><circle cx="708.0" cy="396.3" r="2.0" fill="#f59030"/><circle cx="708.0" cy="396.3" r="1.0" fill="#fff6d8"/></g><g filter="url(#mb2)"><circle cx="720.5" cy="400.6" r="3.2" fill="#a0308c"/><circle cx="720.5" cy="400.6" r="2.0" fill="#f59030"/><circle cx="720.5" cy="400.6" r="1.0" fill="#fff6d8"/></g><g filter="url(#mb1)"><line x1="744.9" y1="398.9" x2="753.8" y2="415.6" stroke="#2a1470" stroke-width="8.5" stroke-linecap="round" opacity="1"/><line x1="744.9" y1="398.9" x2="753.8" y2="415.6" stroke="#7a2a9c" stroke-width="6.0" stroke-linecap="round" opacity="1"/><line x1="744.9" y1="398.9" x2="753.8" y2="415.6" stroke="#d03a5c" stroke-width="3.8" stroke-linecap="round" opacity="1"/><line x1="744.9" y1="398.9" x2="753.8" y2="415.6" stroke="#f2703a" stroke-width="1.6" stroke-linecap="round" opacity="1"/></g><g filter="url(#mb1)"><line x1="757.7" y1="423.5" x2="765.5" y2="441.0" stroke="#2a1470" stroke-width="8.5" stroke-linecap="round" opacity="1"/><line x1="757.7" y1="423.5" x2="765.5" y2="441.0" stroke="#7a2a9c" stroke-width="6.0" stroke-linecap="round" opacity="1"/><line x1="757.7" y1="423.5" x2="765.5" y2="441.0" stroke="#d03a5c" stroke-width="3.8" stroke-linecap="round" opacity="1"/><line x1="757.7" y1="423.5" x2="765.5" y2="441.0" stroke="#f2703a" stroke-width="1.6" stroke-linecap="round" opacity="1"/></g><g filter="url(#mb2)"><circle cx="743.8" cy="396.6" r="3.5" fill="#a0308c"/><circle cx="743.8" cy="396.6" r="2.3" fill="#f59030"/><circle cx="743.8" cy="396.6" r="1.3" fill="#fff6d8"/></g><g filter="url(#mb2)"><circle cx="766.0" cy="442.0" r="3.2" fill="#a0308c"/><circle cx="766.0" cy="442.0" r="2.0" fill="#f59030"/><circle cx="766.0" cy="442.0" r="1.0" fill="#fff6d8"/></g><rect x="755.9" y="449.3" width="19.3" height="6.2" fill="#fff"/></g>
<clipPath id="mc5"><rect x="781.4" y="360" width="95.6" height="95.5"/></clipPath><rect x="781.4" y="360" width="95.6" height="95.5" fill="#030303"/><g clip-path="url(#mc5)"><g filter="url(#mb1)"><line x1="801.0" y1="398.5" x2="823.5" y2="390.0" stroke="#150c48" stroke-width="8.5" stroke-linecap="round" opacity="1"/><line x1="801.0" y1="398.5" x2="823.5" y2="390.0" stroke="#3526a0" stroke-width="5.5" stroke-linecap="round" opacity="1"/></g><g filter="url(#mb2)"><circle cx="798.6" cy="399.4" r="5.2" fill="#a0308c"/><circle cx="798.6" cy="399.4" r="4.0" fill="#f59030"/><circle cx="798.6" cy="399.4" r="3.0" fill="#fff6d8"/></g><g filter="url(#mb1)"><line x1="848.8" y1="409.0" x2="840.0" y2="435.0" stroke="#150c48" stroke-width="8.5" stroke-linecap="round" opacity="1"/><line x1="848.8" y1="409.0" x2="840.0" y2="435.0" stroke="#3526a0" stroke-width="5.5" stroke-linecap="round" opacity="1"/></g><g filter="url(#mb2)"><circle cx="844.3" cy="422.1" r="4.9" fill="#a0308c"/><circle cx="844.3" cy="422.1" r="3.7" fill="#f59030"/><circle cx="844.3" cy="422.1" r="2.7" fill="#fff6d8"/></g><circle cx="791.2" cy="364.3" r="4" fill="#2a1f8a" opacity="0.6" filter="url(#mb3)"/><circle cx="872.6" cy="444.6" r="4.5" fill="#2a1f8a" opacity="0.7" filter="url(#mb3)"/><circle cx="862.0" cy="372.0" r="3" fill="#2a1f8a" opacity="0.35" filter="url(#mb3)"/><circle cx="803.0" cy="389.0" r="4" fill="#2a1f8a" opacity="0.4" filter="url(#mb3)"/><rect x="855.4" y="449.3" width="19.3" height="6.2" fill="#fff"/></g>
<clipPath id="mc6"><rect x="1563.9" y="162.5" width="95.2" height="95.3"/></clipPath><rect x="1563.9" y="162.5" width="95.2" height="95.3" fill="#030303"/><g clip-path="url(#mc6)"><g filter="url(#mb1)"><line x1="1594.5" y1="174.7" x2="1610.0" y2="179.5" stroke="#2a1470" stroke-width="9.5" stroke-linecap="round" opacity="1"/><line x1="1594.5" y1="174.7" x2="1610.0" y2="179.5" stroke="#8a2a8c" stroke-width="7.0" stroke-linecap="round" opacity="1"/><line x1="1594.5" y1="174.7" x2="1610.0" y2="179.5" stroke="#e8503c" stroke-width="5.0" stroke-linecap="round" opacity="1"/><line x1="1594.5" y1="174.7" x2="1610.0" y2="179.5" stroke="#fdb52e" stroke-width="3.0" stroke-linecap="round" opacity="1"/><line x1="1594.5" y1="174.7" x2="1610.0" y2="179.5" stroke="#fff08a" stroke-width="1.0" stroke-linecap="round" opacity="1"/></g><g filter="url(#mb1)"><line x1="1632.1" y1="173.3" x2="1647.4" y2="170.1" stroke="#2a1470" stroke-width="9.5" stroke-linecap="round" opacity="1"/><line x1="1632.1" y1="173.3" x2="1647.4" y2="170.1" stroke="#8a2a8c" stroke-width="7.0" stroke-linecap="round" opacity="1"/><line x1="1632.1" y1="173.3" x2="1647.4" y2="170.1" stroke="#e8503c" stroke-width="5.0" stroke-linecap="round" opacity="1"/><line x1="1632.1" y1="173.3" x2="1647.4" y2="170.1" stroke="#fdb52e" stroke-width="3.0" stroke-linecap="round" opacity="1"/><line x1="1632.1" y1="173.3" x2="1647.4" y2="170.1" stroke="#fff08a" stroke-width="1.0" stroke-linecap="round" opacity="1"/></g><g filter="url(#mb1)"><line x1="1608.3" y1="209.4" x2="1611.8" y2="224.2" stroke="#2a1470" stroke-width="9.5" stroke-linecap="round" opacity="1"/><line x1="1608.3" y1="209.4" x2="1611.8" y2="224.2" stroke="#8a2a8c" stroke-width="7.0" stroke-linecap="round" opacity="1"/><line x1="1608.3" y1="209.4" x2="1611.8" y2="224.2" stroke="#e8503c" stroke-width="5.0" stroke-linecap="round" opacity="1"/><line x1="1608.3" y1="209.4" x2="1611.8" y2="224.2" stroke="#fdb52e" stroke-width="3.0" stroke-linecap="round" opacity="1"/><line x1="1608.3" y1="209.4" x2="1611.8" y2="224.2" stroke="#fff08a" stroke-width="1.0" stroke-linecap="round" opacity="1"/></g><g filter="url(#mb1)"><line x1="1583.6" y1="252.5" x2="1592.3" y2="244.9" stroke="#2a1470" stroke-width="9.5" stroke-linecap="round" opacity="1"/><line x1="1583.6" y1="252.5" x2="1592.3" y2="244.9" stroke="#8a2a8c" stroke-width="7.0" stroke-linecap="round" opacity="1"/><line x1="1583.6" y1="252.5" x2="1592.3" y2="244.9" stroke="#e8503c" stroke-width="5.0" stroke-linecap="round" opacity="1"/><line x1="1583.6" y1="252.5" x2="1592.3" y2="244.9" stroke="#fdb52e" stroke-width="3.0" stroke-linecap="round" opacity="1"/><line x1="1583.6" y1="252.5" x2="1592.3" y2="244.9" stroke="#fff08a" stroke-width="1.0" stroke-linecap="round" opacity="1"/></g><rect x="1628.7" y="250.5" width="27.8" height="6.2" fill="#fff"/><text transform="translate(1567.50,177.50) scale(0.9137,1.0000) translate(-0.49,0)" font-size="18" fill="#fff">sIDP2</text></g>
<clipPath id="mc7"><rect x="1661.2" y="162.5" width="95.5" height="95.3"/></clipPath><rect x="1661.2" y="162.5" width="95.5" height="95.3" fill="#030303"/><g clip-path="url(#mc7)"><g filter="url(#mb1)"><line x1="1670.8" y1="183.2" x2="1689.2" y2="181.2" stroke="#2a1470" stroke-width="8.5" stroke-linecap="round" opacity="1"/><line x1="1670.8" y1="183.2" x2="1689.2" y2="181.2" stroke="#7a2a9c" stroke-width="6.0" stroke-linecap="round" opacity="1"/><line x1="1670.8" y1="183.2" x2="1689.2" y2="181.2" stroke="#d03a5c" stroke-width="3.8" stroke-linecap="round" opacity="1"/><line x1="1670.8" y1="183.2" x2="1689.2" y2="181.2" stroke="#f2703a" stroke-width="1.6" stroke-linecap="round" opacity="1"/></g><g filter="url(#mb1)"><line x1="1674.0" y1="207.7" x2="1684.9" y2="205.7" stroke="#2a1470" stroke-width="8.5" stroke-linecap="round" opacity="1"/><line x1="1674.0" y1="207.7" x2="1684.9" y2="205.7" stroke="#7a2a9c" stroke-width="6.0" stroke-linecap="round" opacity="1"/><line x1="1674.0" y1="207.7" x2="1684.9" y2="205.7" stroke="#d03a5c" stroke-width="3.8" stroke-linecap="round" opacity="1"/><line x1="1674.0" y1="207.7" x2="1684.9" y2="205.7" stroke="#f2703a" stroke-width="1.6" stroke-linecap="round" opacity="1"/></g><g filter="url(#mb1)"><line x1="1730.5" y1="213.8" x2="1742.8" y2="209.9" stroke="#2a1470" stroke-width="8.5" stroke-linecap="round" opacity="1"/><line x1="1730.5" y1="213.8" x2="1742.8" y2="209.9" stroke="#7a2a9c" stroke-width="6.0" stroke-linecap="round" opacity="1"/><line x1="1730.5" y1="213.8" x2="1742.8" y2="209.9" stroke="#d03a5c" stroke-width="3.8" stroke-linecap="round" opacity="1"/><line x1="1730.5" y1="213.8" x2="1742.8" y2="209.9" stroke="#f2703a" stroke-width="1.6" stroke-linecap="round" opacity="1"/></g><g filter="url(#mb1)"><line x1="1734.0" y1="224.4" x2="1747.9" y2="223.7" stroke="#2a1470" stroke-width="8.5" stroke-linecap="round" opacity="1"/><line x1="1734.0" y1="224.4" x2="1747.9" y2="223.7" stroke="#7a2a9c" stroke-width="6.0" stroke-linecap="round" opacity="1"/><line x1="1734.0" y1="224.4" x2="1747.9" y2="223.7" stroke="#d03a5c" stroke-width="3.8" stroke-linecap="round" opacity="1"/><line x1="1734.0" y1="224.4" x2="1747.9" y2="223.7" stroke="#f2703a" stroke-width="1.6" stroke-linecap="round" opacity="1"/></g><circle cx="1677.3" cy="246.6" r="5" fill="#2a1f8a" opacity="0.75" filter="url(#mb3)"/><rect x="1725.0" y="250.5" width="31.7" height="6.2" fill="#fff"/><text transform="translate(1662.90,177.50) scale(0.9153,1.0000) translate(-0.49,0)" font-size="18" fill="#fff">sIDP3</text></g>
<clipPath id="mc8"><rect x="1563.9" y="260.1" width="95.2" height="95.5"/></clipPath><rect x="1563.9" y="260.1" width="95.2" height="95.5" fill="#030303"/><g clip-path="url(#mc8)"><g filter="url(#mb1)"><line x1="1575.5" y1="287.3" x2="1588.7" y2="283.6" stroke="#2a1470" stroke-width="8.5" stroke-linecap="round" opacity="1"/><line x1="1575.5" y1="287.3" x2="1588.7" y2="283.6" stroke="#7a2a9c" stroke-width="6.0" stroke-linecap="round" opacity="1"/><line x1="1575.5" y1="287.3" x2="1588.7" y2="283.6" stroke="#d03a5c" stroke-width="3.8" stroke-linecap="round" opacity="1"/><line x1="1575.5" y1="287.3" x2="1588.7" y2="283.6" stroke="#f2703a" stroke-width="1.6" stroke-linecap="round" opacity="1"/></g><g filter="url(#mb1)"><line x1="1633.9" y1="287.0" x2="1643.7" y2="297.4" stroke="#2a1470" stroke-width="9.0" stroke-linecap="round" opacity="1"/><line x1="1633.9" y1="287.0" x2="1643.7" y2="297.4" stroke="#8a2a8c" stroke-width="6.5" stroke-linecap="round" opacity="1"/><line x1="1633.9" y1="287.0" x2="1643.7" y2="297.4" stroke="#e8503c" stroke-width="4.5" stroke-linecap="round" opacity="1"/><line x1="1633.9" y1="287.0" x2="1643.7" y2="297.4" stroke="#fdb52e" stroke-width="2.5" stroke-linecap="round" opacity="1"/><line x1="1633.9" y1="287.0" x2="1643.7" y2="297.4" stroke="#fff08a" stroke-width="0.8" stroke-linecap="round" opacity="1"/></g><g filter="url(#mb1)"><line x1="1634.9" y1="311.0" x2="1629.9" y2="325.7" stroke="#2a1470" stroke-width="8.5" stroke-linecap="round" opacity="1"/><line x1="1634.9" y1="311.0" x2="1629.9" y2="325.7" stroke="#7a2a9c" stroke-width="6.0" stroke-linecap="round" opacity="1"/><line x1="1634.9" y1="311.0" x2="1629.9" y2="325.7" stroke="#d03a5c" stroke-width="3.8" stroke-linecap="round" opacity="1"/><line x1="1634.9" y1="311.0" x2="1629.9" y2="325.7" stroke="#f2703a" stroke-width="1.6" stroke-linecap="round" opacity="1"/></g><circle cx="1650.0" cy="275.0" r="7" fill="#2a1f8a" opacity="0.3" filter="url(#mb3)"/><rect x="1628.7" y="348.3" width="27.8" height="6.0" fill="#fff"/><text transform="translate(1567.50,278.10) scale(0.9060,1.0000) translate(-0.49,0)" font-size="18" fill="#fff">sIDP4</text></g>
<clipPath id="mc9"><rect x="1661.2" y="260.1" width="95.5" height="95.5"/></clipPath><rect x="1661.2" y="260.1" width="95.5" height="95.5" fill="#030303"/><g clip-path="url(#mc9)"><g filter="url(#mb1)"><line x1="1701.5" y1="277.5" x2="1709.7" y2="272.4" stroke="#2a1470" stroke-width="8.5" stroke-linecap="round" opacity="1"/><line x1="1701.5" y1="277.5" x2="1709.7" y2="272.4" stroke="#7a2a9c" stroke-width="6.0" stroke-linecap="round" opacity="1"/><line x1="1701.5" y1="277.5" x2="1709.7" y2="272.4" stroke="#d03a5c" stroke-width="3.8" stroke-linecap="round" opacity="1"/><line x1="1701.5" y1="277.5" x2="1709.7" y2="272.4" stroke="#f2703a" stroke-width="1.6" stroke-linecap="round" opacity="1"/></g><g filter="url(#mb1)"><line x1="1713.4" y1="324.7" x2="1719.4" y2="321.6" stroke="#2a1470" stroke-width="8.5" stroke-linecap="round" opacity="1"/><line x1="1713.4" y1="324.7" x2="1719.4" y2="321.6" stroke="#7a2a9c" stroke-width="6.0" stroke-linecap="round" opacity="1"/><line x1="1713.4" y1="324.7" x2="1719.4" y2="321.6" stroke="#d03a5c" stroke-width="3.8" stroke-linecap="round" opacity="1"/><line x1="1713.4" y1="324.7" x2="1719.4" y2="321.6" stroke="#f2703a" stroke-width="1.6" stroke-linecap="round" opacity="1"/></g><g filter="url(#mb1)"><line x1="1704.0" y1="344.5" x2="1714.9" y2="341.4" stroke="#2a1470" stroke-width="8.5" stroke-linecap="round" opacity="1"/><line x1="1704.0" y1="344.5" x2="1714.9" y2="341.4" stroke="#6a2ab0" stroke-width="6.0" stroke-linecap="round" opacity="1"/><line x1="1704.0" y1="344.5" x2="1714.9" y2="341.4" stroke="#b0308c" stroke-width="3.5" stroke-linecap="round" opacity="1"/></g><rect x="1725.0" y="349.3" width="31.7" height="5.4" fill="#fff"/><text transform="translate(1662.90,278.10) scale(0.9144,1.0000) translate(-0.49,0)" font-size="18" fill="#fff">sIDP5</text></g>
<clipPath id="mc10"><rect x="1563.9" y="358.1" width="95.2" height="95.5"/></clipPath><rect x="1563.9" y="358.1" width="95.2" height="95.5" fill="#030303"/><g clip-path="url(#mc10)"><g filter="url(#mb1)"><line x1="1596.8" y1="386.0" x2="1601.6" y2="399.5" stroke="#2a1470" stroke-width="8.0" stroke-linecap="round" opacity="1"/><line x1="1596.8" y1="386.0" x2="1601.6" y2="399.5" stroke="#7a2a9c" stroke-width="5.5" stroke-linecap="round" opacity="1"/><line x1="1596.8" y1="386.0" x2="1601.6" y2="399.5" stroke="#d03a5c" stroke-width="3.3" stroke-linecap="round" opacity="1"/><line x1="1596.8" y1="386.0" x2="1601.6" y2="399.5" stroke="#f2703a" stroke-width="1.1" stroke-linecap="round" opacity="1"/></g><g filter="url(#mb1)"><line x1="1613.9" y1="411.6" x2="1613.0" y2="419.8" stroke="#2a1470" stroke-width="8.0" stroke-linecap="round" opacity="1"/><line x1="1613.9" y1="411.6" x2="1613.0" y2="419.8" stroke="#7a2a9c" stroke-width="5.5" stroke-linecap="round" opacity="1"/><line x1="1613.9" y1="411.6" x2="1613.0" y2="419.8" stroke="#d03a5c" stroke-width="3.3" stroke-linecap="round" opacity="1"/><line x1="1613.9" y1="411.6" x2="1613.0" y2="419.8" stroke="#f2703a" stroke-width="1.1" stroke-linecap="round" opacity="1"/></g><rect x="1633.4" y="446.3" width="25.7" height="5.8" fill="#fff"/><text transform="translate(1567.50,377.20) scale(0.9111,1.0000) translate(-0.49,0)" font-size="18" fill="#fff">sIDP6</text></g>
<clipPath id="mc11"><rect x="1661.2" y="358.1" width="95.5" height="95.5"/></clipPath><rect x="1661.2" y="358.1" width="95.5" height="95.5" fill="#030303"/><g clip-path="url(#mc11)"><g filter="url(#mb1)"><line x1="1701.0" y1="385.5" x2="1720.5" y2="392.0" stroke="#150c48" stroke-width="8.5" stroke-linecap="round" opacity="1"/><line x1="1701.0" y1="385.5" x2="1720.5" y2="392.0" stroke="#3526a0" stroke-width="5.5" stroke-linecap="round" opacity="1"/></g><g filter="url(#mb2)"><circle cx="1698.7" cy="384.7" r="4.9" fill="#a0308c"/><circle cx="1698.7" cy="384.7" r="3.7" fill="#f59030"/><circle cx="1698.7" cy="384.7" r="2.7" fill="#fff6d8"/></g><g filter="url(#mb1)"><line x1="1706.0" y1="416.5" x2="1718.5" y2="411.6" stroke="#150c48" stroke-width="8.5" stroke-linecap="round" opacity="1"/><line x1="1706.0" y1="416.5" x2="1718.5" y2="411.6" stroke="#3526a0" stroke-width="5.5" stroke-linecap="round" opacity="1"/></g><g filter="url(#mb2)"><circle cx="1704.0" cy="417.2" r="4.9" fill="#a0308c"/><circle cx="1704.0" cy="417.2" r="3.7" fill="#f59030"/><circle cx="1704.0" cy="417.2" r="2.7" fill="#fff6d8"/></g><g filter="url(#mb1)"><line x1="1711.0" y1="424.6" x2="1716.5" y2="422.3" stroke="#150c48" stroke-width="8.5" stroke-linecap="round" opacity="1"/><line x1="1711.0" y1="424.6" x2="1716.5" y2="422.3" stroke="#3526a0" stroke-width="5.5" stroke-linecap="round" opacity="1"/></g><g filter="url(#mb2)"><circle cx="1709.0" cy="425.3" r="4.9" fill="#a0308c"/><circle cx="1709.0" cy="425.3" r="3.7" fill="#f59030"/><circle cx="1709.0" cy="425.3" r="2.7" fill="#fff6d8"/></g><rect x="1731.4" y="446.3" width="25.3" height="5.8" fill="#fff"/></g>
<clipPath id="gc1"><rect x="280.3" y="1319.6" width="597.2" height="359.8"/></clipPath>
<g clip-path="url(#gc1)">
<rect x="280.3" y="1319.6" width="597.2" height="359.8" fill="url(#g1bg)"/>
<rect x="280.3" y="1319.6" width="597.2" height="359.8" fill="url(#g1v)"/>
<linearGradient id="g1l0" gradientUnits="userSpaceOnUse" x1="0" y1="1324.3" x2="0" y2="1697.1"><stop offset="-0.0090" stop-color="#000" stop-opacity="0.000"/><stop offset="0.1788" stop-color="#000" stop-opacity="0.030"/><stop offset="0.1984" stop-color="#000" stop-opacity="0.050"/><stop offset="0.2040" stop-color="#000" stop-opacity="0.120"/><stop offset="0.2152" stop-color="#000" stop-opacity="0.050"/><stop offset="0.2628" stop-color="#000" stop-opacity="0.060"/><stop offset="0.2853" stop-color="#000" stop-opacity="0.150"/><stop offset="0.3133" stop-color="#000" stop-opacity="0.240"/><stop offset="0.3694" stop-color="#000" stop-opacity="0.280"/><stop offset="0.4815" stop-color="#000" stop-opacity="0.310"/><stop offset="0.5515" stop-color="#000" stop-opacity="0.310"/><stop offset="0.6216" stop-color="#000" stop-opacity="0.270"/><stop offset="0.6917" stop-color="#000" stop-opacity="0.230"/><stop offset="0.7618" stop-color="#000" stop-opacity="0.200"/><stop offset="0.8318" stop-color="#000" stop-opacity="0.190"/><stop offset="0.8739" stop-color="#000" stop-opacity="0.180"/><stop offset="0.9019" stop-color="#000" stop-opacity="0.130"/><stop offset="0.9355" stop-color="#000" stop-opacity="0.080"/><stop offset="1.0000" stop-color="#000" stop-opacity="0.000"/></linearGradient><linearGradient id="g1l1" gradientUnits="userSpaceOnUse" x1="0" y1="1323.5" x2="0" y2="1691.6"><stop offset="-0.0058" stop-color="#000" stop-opacity="0.000"/><stop offset="0.1814" stop-color="#000" stop-opacity="0.030"/><stop offset="0.2009" stop-color="#000" stop-opacity="0.050"/><stop offset="0.2065" stop-color="#000" stop-opacity="0.120"/><stop offset="0.2177" stop-color="#000" stop-opacity="0.050"/><stop offset="0.2652" stop-color="#000" stop-opacity="0.060"/><stop offset="0.2875" stop-color="#000" stop-opacity="0.150"/><stop offset="0.3155" stop-color="#000" stop-opacity="0.240"/><stop offset="0.3714" stop-color="#000" stop-opacity="0.280"/><stop offset="0.4831" stop-color="#000" stop-opacity="0.310"/><stop offset="0.5530" stop-color="#000" stop-opacity="0.310"/><stop offset="0.6228" stop-color="#000" stop-opacity="0.270"/><stop offset="0.6927" stop-color="#000" stop-opacity="0.230"/><stop offset="0.7625" stop-color="#000" stop-opacity="0.200"/><stop offset="0.8324" stop-color="#000" stop-opacity="0.190"/><stop offset="0.8743" stop-color="#000" stop-opacity="0.180"/><stop offset="0.9022" stop-color="#000" stop-opacity="0.130"/><stop offset="0.9357" stop-color="#000" stop-opacity="0.080"/><stop offset="1.0000" stop-color="#000" stop-opacity="0.000"/></linearGradient><linearGradient id="g1l2" gradientUnits="userSpaceOnUse" x1="0" y1="1319.7" x2="0" y2="1683.2"><stop offset="-0.0025" stop-color="#000" stop-opacity="0.000"/><stop offset="0.1841" stop-color="#000" stop-opacity="0.037"/><stop offset="0.2035" stop-color="#000" stop-opacity="0.062"/><stop offset="0.2091" stop-color="#000" stop-opacity="0.150"/><stop offset="0.2203" stop-color="#000" stop-opacity="0.062"/><stop offset="0.2676" stop-color="#000" stop-opacity="0.075"/><stop offset="0.2899" stop-color="#000" stop-opacity="0.188"/><stop offset="0.3177" stop-color="#000" stop-opacity="0.300"/><stop offset="0.3734" stop-color="#000" stop-opacity="0.350"/><stop offset="0.4848" stop-color="#000" stop-opacity="0.388"/><stop offset="0.5544" stop-color="#000" stop-opacity="0.388"/><stop offset="0.6241" stop-color="#000" stop-opacity="0.338"/><stop offset="0.6937" stop-color="#000" stop-opacity="0.288"/><stop offset="0.7633" stop-color="#000" stop-opacity="0.250"/><stop offset="0.8329" stop-color="#000" stop-opacity="0.237"/><stop offset="0.8747" stop-color="#000" stop-opacity="0.225"/><stop offset="0.9025" stop-color="#000" stop-opacity="0.163"/><stop offset="0.9359" stop-color="#000" stop-opacity="0.100"/><stop offset="1.0000" stop-color="#000" stop-opacity="0.000"/></linearGradient><linearGradient id="g1l3" gradientUnits="userSpaceOnUse" x1="0" y1="1320.0" x2="0" y2="1680.0"><stop offset="0.0000" stop-color="#000" stop-opacity="0.000"/><stop offset="0.1861" stop-color="#000" stop-opacity="0.030"/><stop offset="0.2056" stop-color="#000" stop-opacity="0.050"/><stop offset="0.2111" stop-color="#000" stop-opacity="0.120"/><stop offset="0.2222" stop-color="#000" stop-opacity="0.050"/><stop offset="0.2694" stop-color="#000" stop-opacity="0.060"/><stop offset="0.2917" stop-color="#000" stop-opacity="0.150"/><stop offset="0.3194" stop-color="#000" stop-opacity="0.240"/><stop offset="0.3750" stop-color="#000" stop-opacity="0.280"/><stop offset="0.4861" stop-color="#000" stop-opacity="0.310"/><stop offset="0.5556" stop-color="#000" stop-opacity="0.310"/><stop offset="0.6250" stop-color="#000" stop-opacity="0.270"/><stop offset="0.6944" stop-color="#000" stop-opacity="0.230"/><stop offset="0.7639" stop-color="#000" stop-opacity="0.200"/><stop offset="0.8333" stop-color="#000" stop-opacity="0.190"/><stop offset="0.8750" stop-color="#000" stop-opacity="0.180"/><stop offset="0.9028" stop-color="#000" stop-opacity="0.130"/><stop offset="0.9361" stop-color="#000" stop-opacity="0.080"/><stop offset="1.0000" stop-color="#000" stop-opacity="0.000"/></linearGradient><linearGradient id="g1l4" gradientUnits="userSpaceOnUse" x1="0" y1="1319.5" x2="0" y2="1678.3"><stop offset="0.0009" stop-color="#000" stop-opacity="0.000"/><stop offset="0.1868" stop-color="#000" stop-opacity="0.033"/><stop offset="0.2062" stop-color="#000" stop-opacity="0.055"/><stop offset="0.2118" stop-color="#000" stop-opacity="0.132"/><stop offset="0.2229" stop-color="#000" stop-opacity="0.055"/><stop offset="0.2701" stop-color="#000" stop-opacity="0.066"/><stop offset="0.2923" stop-color="#000" stop-opacity="0.165"/><stop offset="0.3200" stop-color="#000" stop-opacity="0.264"/><stop offset="0.3755" stop-color="#000" stop-opacity="0.308"/><stop offset="0.4865" stop-color="#000" stop-opacity="0.341"/><stop offset="0.5559" stop-color="#000" stop-opacity="0.341"/><stop offset="0.6253" stop-color="#000" stop-opacity="0.297"/><stop offset="0.6947" stop-color="#000" stop-opacity="0.253"/><stop offset="0.7641" stop-color="#000" stop-opacity="0.220"/><stop offset="0.8335" stop-color="#000" stop-opacity="0.209"/><stop offset="0.8751" stop-color="#000" stop-opacity="0.198"/><stop offset="0.9029" stop-color="#000" stop-opacity="0.143"/><stop offset="0.9362" stop-color="#000" stop-opacity="0.088"/><stop offset="1.0000" stop-color="#000" stop-opacity="0.000"/></linearGradient><linearGradient id="g1l5" gradientUnits="userSpaceOnUse" x1="0" y1="1317.0" x2="0" y2="1675.8"><stop offset="0.0009" stop-color="#000" stop-opacity="0.000"/><stop offset="0.1868" stop-color="#000" stop-opacity="0.034"/><stop offset="0.2062" stop-color="#000" stop-opacity="0.057"/><stop offset="0.2118" stop-color="#000" stop-opacity="0.138"/><stop offset="0.2229" stop-color="#000" stop-opacity="0.057"/><stop offset="0.2701" stop-color="#000" stop-opacity="0.069"/><stop offset="0.2923" stop-color="#000" stop-opacity="0.172"/><stop offset="0.3200" stop-color="#000" stop-opacity="0.276"/><stop offset="0.3755" stop-color="#000" stop-opacity="0.322"/><stop offset="0.4865" stop-color="#000" stop-opacity="0.356"/><stop offset="0.5559" stop-color="#000" stop-opacity="0.356"/><stop offset="0.6253" stop-color="#000" stop-opacity="0.310"/><stop offset="0.6947" stop-color="#000" stop-opacity="0.265"/><stop offset="0.7641" stop-color="#000" stop-opacity="0.230"/><stop offset="0.8335" stop-color="#000" stop-opacity="0.218"/><stop offset="0.8751" stop-color="#000" stop-opacity="0.207"/><stop offset="0.9029" stop-color="#000" stop-opacity="0.149"/><stop offset="0.9362" stop-color="#000" stop-opacity="0.092"/><stop offset="1.0000" stop-color="#000" stop-opacity="0.000"/></linearGradient><linearGradient id="g1l6" gradientUnits="userSpaceOnUse" x1="0" y1="1314.6" x2="0" y2="1675.8"><stop offset="-0.0008" stop-color="#000" stop-opacity="0.000"/><stop offset="0.1854" stop-color="#000" stop-opacity="0.028"/><stop offset="0.2049" stop-color="#000" stop-opacity="0.048"/><stop offset="0.2104" stop-color="#000" stop-opacity="0.114"/><stop offset="0.2216" stop-color="#000" stop-opacity="0.048"/><stop offset="0.2688" stop-color="#000" stop-opacity="0.057"/><stop offset="0.2911" stop-color="#000" stop-opacity="0.142"/><stop offset="0.3189" stop-color="#000" stop-opacity="0.228"/><stop offset="0.3745" stop-color="#000" stop-opacity="0.266"/><stop offset="0.4857" stop-color="#000" stop-opacity="0.294"/><stop offset="0.5552" stop-color="#000" stop-opacity="0.294"/><stop offset="0.6247" stop-color="#000" stop-opacity="0.257"/><stop offset="0.6942" stop-color="#000" stop-opacity="0.218"/><stop offset="0.7637" stop-color="#000" stop-opacity="0.190"/><stop offset="0.8332" stop-color="#000" stop-opacity="0.180"/><stop offset="0.8749" stop-color="#000" stop-opacity="0.171"/><stop offset="0.9027" stop-color="#000" stop-opacity="0.123"/><stop offset="0.9361" stop-color="#000" stop-opacity="0.076"/><stop offset="1.0000" stop-color="#000" stop-opacity="0.000"/></linearGradient><linearGradient id="g1l7" gradientUnits="userSpaceOnUse" x1="0" y1="1311.6" x2="0" y2="1672.8"><stop offset="-0.0008" stop-color="#000" stop-opacity="0.000"/><stop offset="0.1854" stop-color="#000" stop-opacity="0.028"/><stop offset="0.2049" stop-color="#000" stop-opacity="0.046"/><stop offset="0.2104" stop-color="#000" stop-opacity="0.110"/><stop offset="0.2216" stop-color="#000" stop-opacity="0.046"/><stop offset="0.2688" stop-color="#000" stop-opacity="0.055"/><stop offset="0.2911" stop-color="#000" stop-opacity="0.138"/><stop offset="0.3189" stop-color="#000" stop-opacity="0.221"/><stop offset="0.3745" stop-color="#000" stop-opacity="0.258"/><stop offset="0.4857" stop-color="#000" stop-opacity="0.285"/><stop offset="0.5552" stop-color="#000" stop-opacity="0.285"/><stop offset="0.6247" stop-color="#000" stop-opacity="0.248"/><stop offset="0.6942" stop-color="#000" stop-opacity="0.212"/><stop offset="0.7637" stop-color="#000" stop-opacity="0.184"/><stop offset="0.8332" stop-color="#000" stop-opacity="0.175"/><stop offset="0.8749" stop-color="#000" stop-opacity="0.166"/><stop offset="0.9027" stop-color="#000" stop-opacity="0.120"/><stop offset="0.9361" stop-color="#000" stop-opacity="0.074"/><stop offset="1.0000" stop-color="#000" stop-opacity="0.000"/></linearGradient>
<g filter="url(#gb8)"><rect x="348" y="1440" width="500" height="205" fill="#000" fill-opacity="0.06"/><rect x="340" y="1455" width="230" height="120" fill="#000" fill-opacity="0.07"/><rect x="348" y="1450" width="490" height="110" fill="#000" fill-opacity="0.035"/></g>
<g filter="url(#gb2)"><path d="M357.8,1324.3 L357.8,1339.8 L357.8,1355.4 L357.8,1370.9 L357.8,1386.4 L357.8,1402.0 L357.5,1417.5 L357.3,1433.0 L357.0,1448.6 L356.8,1464.1 L356.5,1479.6 L356.3,1495.2 L355.9,1510.7 L355.4,1526.2 L354.7,1541.8 L353.9,1557.3 L353.0,1572.8 L352.2,1588.4 L351.2,1603.9 L350.2,1619.4 L349.2,1635.0 L348.1,1650.5 L347.0,1666.0 L345.9,1681.6 L345.0,1697.1 L405.4,1697.1 L404.9,1681.6 L404.2,1666.0 L403.6,1650.5 L403.0,1635.0 L402.5,1619.4 L402.0,1603.9 L401.5,1588.4 L401.1,1572.8 L400.8,1557.3 L400.5,1541.8 L400.3,1526.2 L400.2,1510.7 L400.3,1495.2 L400.5,1479.6 L400.8,1464.1 L401.0,1448.6 L401.3,1433.0 L401.5,1417.5 L401.8,1402.0 L401.8,1386.4 L401.8,1370.9 L401.8,1355.4 L401.8,1339.8 L401.8,1324.3 Z" fill="url(#g1l0)"/><path d="M418.9,1323.5 L418.9,1338.8 L418.9,1354.2 L418.9,1369.5 L418.9,1384.9 L418.9,1400.2 L418.7,1415.5 L418.6,1430.9 L418.4,1446.2 L418.3,1461.6 L418.1,1476.9 L418.0,1492.2 L417.7,1507.6 L417.2,1522.9 L416.6,1538.2 L415.9,1553.6 L415.2,1568.9 L414.4,1584.3 L413.5,1599.6 L412.6,1614.9 L411.7,1630.3 L410.7,1645.6 L409.7,1661.0 L408.7,1676.3 L407.8,1691.6 L468.2,1691.6 L467.6,1676.3 L466.9,1661.0 L466.2,1645.6 L465.5,1630.3 L464.9,1614.9 L464.3,1599.6 L463.7,1584.3 L463.2,1568.9 L462.8,1553.6 L462.4,1538.2 L462.1,1522.9 L461.9,1507.6 L462.0,1492.2 L462.1,1476.9 L462.3,1461.6 L462.4,1446.2 L462.6,1430.9 L462.7,1415.5 L462.9,1400.2 L462.9,1384.9 L462.9,1369.5 L462.9,1354.2 L462.9,1338.8 L462.9,1323.5 Z" fill="url(#g1l1)"/><path d="M480.8,1319.7 L480.8,1334.8 L480.8,1350.0 L480.8,1365.1 L480.8,1380.3 L480.8,1395.4 L480.8,1410.6 L480.8,1425.7 L480.8,1440.9 L480.8,1456.0 L480.8,1471.2 L480.8,1486.3 L480.7,1501.4 L480.4,1516.6 L479.9,1531.7 L479.4,1546.9 L478.8,1562.0 L478.1,1577.2 L477.4,1592.3 L476.7,1607.5 L475.9,1622.6 L475.1,1637.8 L474.2,1652.9 L473.3,1668.0 L472.6,1683.2 L533.0,1683.2 L532.3,1668.0 L531.4,1652.9 L530.5,1637.8 L529.7,1622.6 L528.9,1607.5 L528.2,1592.3 L527.5,1577.2 L526.8,1562.0 L526.2,1546.9 L525.7,1531.7 L525.2,1516.6 L524.9,1501.4 L524.8,1486.3 L524.8,1471.2 L524.8,1456.0 L524.8,1440.9 L524.8,1425.7 L524.8,1410.6 L524.8,1395.4 L524.8,1380.3 L524.8,1365.1 L524.8,1350.0 L524.8,1334.8 L524.8,1319.7 Z" fill="url(#g1l2)"/><path d="M544.2,1320.0 L544.2,1335.0 L544.2,1350.0 L544.2,1365.0 L544.2,1380.0 L544.2,1395.0 L544.4,1410.0 L544.6,1425.0 L544.8,1440.0 L544.9,1455.0 L545.1,1470.0 L545.3,1485.0 L545.4,1500.0 L545.2,1515.0 L545.0,1530.0 L544.6,1545.0 L544.2,1560.0 L543.8,1575.0 L543.2,1590.0 L542.7,1605.0 L542.1,1620.0 L541.4,1635.0 L540.7,1650.0 L540.0,1665.0 L539.4,1680.0 L599.9,1680.0 L599.0,1665.0 L597.9,1650.0 L596.9,1635.0 L595.8,1620.0 L594.9,1605.0 L593.9,1590.0 L593.1,1575.0 L592.2,1560.0 L591.4,1545.0 L590.7,1530.0 L590.1,1515.0 L589.6,1500.0 L589.3,1485.0 L589.1,1470.0 L588.9,1455.0 L588.8,1440.0 L588.6,1425.0 L588.4,1410.0 L588.2,1395.0 L588.2,1380.0 L588.2,1365.0 L588.2,1350.0 L588.2,1335.0 L588.2,1320.0 Z" fill="url(#g1l3)"/><path d="M607.5,1319.5 L607.5,1334.5 L607.5,1349.4 L607.5,1364.4 L607.5,1379.3 L607.5,1394.3 L607.9,1409.2 L608.4,1424.2 L608.8,1439.1 L609.2,1454.1 L609.6,1469.0 L610.1,1484.0 L610.4,1498.9 L610.5,1513.9 L610.5,1528.8 L610.4,1543.8 L610.2,1558.7 L610.0,1573.7 L609.7,1588.6 L609.4,1603.6 L609.0,1618.5 L608.6,1633.5 L608.2,1648.4 L607.7,1663.4 L607.3,1678.3 L667.8,1678.3 L666.7,1663.4 L665.4,1648.4 L664.1,1633.5 L662.8,1618.5 L661.6,1603.6 L660.4,1588.6 L659.3,1573.7 L658.2,1558.7 L657.2,1543.8 L656.2,1528.8 L655.3,1513.9 L654.6,1498.9 L654.1,1484.0 L653.6,1469.0 L653.2,1454.1 L652.8,1439.1 L652.4,1424.2 L651.9,1409.2 L651.5,1394.3 L651.5,1379.3 L651.5,1364.4 L651.5,1349.4 L651.5,1334.5 L651.5,1319.5 Z" fill="url(#g1l4)"/><path d="M670.1,1317.0 L670.1,1332.0 L670.1,1346.9 L670.1,1361.9 L670.1,1376.8 L670.1,1391.8 L670.8,1406.7 L671.4,1421.7 L672.1,1436.6 L672.8,1451.6 L673.5,1466.5 L674.1,1481.5 L674.7,1496.4 L675.1,1511.4 L675.3,1526.3 L675.4,1541.3 L675.5,1556.2 L675.5,1571.2 L675.5,1586.1 L675.4,1601.1 L675.3,1616.0 L675.2,1631.0 L675.0,1645.9 L674.7,1660.9 L674.5,1675.8 L735.0,1675.8 L733.7,1660.9 L732.1,1645.9 L730.6,1631.0 L729.1,1616.0 L727.6,1601.1 L726.2,1586.1 L724.8,1571.2 L723.5,1556.2 L722.2,1541.3 L721.0,1526.3 L719.9,1511.4 L718.9,1496.4 L718.1,1481.5 L717.5,1466.5 L716.8,1451.6 L716.1,1436.6 L715.4,1421.7 L714.8,1406.7 L714.1,1391.8 L714.1,1376.8 L714.1,1361.9 L714.1,1346.9 L714.1,1332.0 L714.1,1317.0 Z" fill="url(#g1l5)"/><path d="M732.1,1314.6 L732.1,1329.6 L732.1,1344.7 L732.1,1359.7 L732.1,1374.8 L732.1,1389.8 L733.2,1404.9 L734.2,1419.9 L735.2,1435.0 L736.3,1450.0 L737.3,1465.1 L738.4,1480.1 L739.3,1495.2 L740.0,1510.2 L740.6,1525.3 L741.1,1540.3 L741.6,1555.4 L741.9,1570.4 L742.3,1585.5 L742.6,1600.5 L742.8,1615.6 L743.0,1630.6 L743.2,1645.7 L743.4,1660.7 L743.4,1675.8 L803.9,1675.8 L802.3,1660.7 L800.4,1645.7 L798.5,1630.6 L796.6,1615.6 L794.8,1600.5 L793.0,1585.5 L791.2,1570.4 L789.6,1555.4 L787.9,1540.3 L786.4,1525.3 L784.9,1510.2 L783.5,1495.2 L782.4,1480.1 L781.3,1465.1 L780.3,1450.0 L779.2,1435.0 L778.2,1419.9 L777.2,1404.9 L776.1,1389.8 L776.1,1374.8 L776.1,1359.7 L776.1,1344.7 L776.1,1329.6 L776.1,1314.6 Z" fill="url(#g1l6)"/><path d="M795.2,1311.6 L795.2,1326.6 L795.2,1341.7 L795.2,1356.7 L795.2,1371.8 L795.2,1386.8 L796.4,1401.9 L797.7,1416.9 L798.9,1432.0 L800.1,1447.0 L801.3,1462.1 L802.6,1477.1 L803.7,1492.2 L804.6,1507.2 L805.4,1522.3 L806.0,1537.3 L806.7,1552.4 L807.2,1567.4 L807.8,1582.5 L808.2,1597.5 L808.7,1612.6 L809.1,1627.6 L809.4,1642.7 L809.8,1657.7 L810.0,1672.8 L870.4,1672.8 L868.7,1657.7 L866.6,1642.7 L864.5,1627.6 L862.5,1612.6 L860.5,1597.5 L858.5,1582.5 L856.6,1567.4 L854.7,1552.4 L852.9,1537.3 L851.1,1522.3 L849.4,1507.2 L847.9,1492.2 L846.6,1477.1 L845.3,1462.1 L844.1,1447.0 L842.9,1432.0 L841.7,1416.9 L840.4,1401.9 L839.2,1386.8 L839.2,1371.8 L839.2,1356.7 L839.2,1341.7 L839.2,1326.6 L839.2,1311.6 Z" fill="url(#g1l7)"/></g>
<g filter="url(#gb2)"><path d="M306,1364 L339.5,1364 L338.5,1600 L336,1662 L288,1662 L297,1580 L302,1470 Z" fill="#000" fill-opacity="0.27"/><path d="M306,1322 L340,1322 L340,1364 L306,1364 Z" fill="#000" fill-opacity="0.07"/></g>
<g filter="url(#gb15)"><path d="M354.3,1546.7 Q377.5,1547.2 400.6,1547.6 L400.6,1550.6 Q377.5,1550.2 354.3,1549.8 Z" fill="#000" fill-opacity="0.13"/><path d="M354.1,1550.0 Q377.4,1550.4 400.7,1550.9 L400.7,1553.9 Q377.4,1553.4 354.1,1553.0 Z" fill="#000" fill-opacity="0.05"/><path d="M354.0,1553.7 Q377.4,1554.1 400.8,1554.6 L400.8,1557.8 Q377.4,1557.3 354.0,1557.0 Z" fill="#000" fill-opacity="0.14"/><path d="M353.7,1558.0 Q377.3,1558.3 400.8,1558.9 L400.8,1561.6 Q377.3,1561.0 353.7,1560.7 Z" fill="#000" fill-opacity="0.08"/><path d="M353.5,1561.9 Q377.2,1562.1 400.9,1562.8 L400.9,1566.4 Q377.2,1565.8 353.5,1565.5 Z" fill="#000" fill-opacity="0.18"/><path d="M353.3,1566.3 Q377.2,1566.4 401.0,1567.2 L401.0,1570.4 Q377.2,1569.7 353.3,1569.6 Z" fill="#000" fill-opacity="0.10"/><path d="M353.0,1570.6 Q377.1,1570.6 401.2,1571.5 L401.2,1577.8 Q377.1,1576.9 353.0,1576.9 Z" fill="#000" fill-opacity="0.15"/><path d="M352.8,1575.9 Q377.0,1575.9 401.3,1576.8 L401.3,1579.4 Q377.0,1578.5 352.8,1578.5 Z" fill="#000" fill-opacity="0.05"/><path d="M352.5,1579.3 Q377.0,1579.2 401.4,1580.2 L401.4,1583.9 Q377.0,1582.9 352.5,1583.0 Z" fill="#000" fill-opacity="0.12"/><path d="M352.2,1584.4 Q376.9,1584.2 401.5,1585.3 L401.5,1589.4 Q376.9,1588.3 352.2,1588.5 Z" fill="#000" fill-opacity="0.08"/><path d="M351.8,1591.2 Q376.8,1590.9 401.7,1592.1 L401.7,1596.2 Q376.8,1595.0 351.8,1595.3 Z" fill="#000" fill-opacity="0.13"/><path d="M351.5,1596.7 Q376.7,1596.3 401.8,1597.6 L401.8,1601.1 Q376.7,1599.7 351.5,1600.2 Z" fill="#000" fill-opacity="0.07"/><path d="M351.3,1600.1 Q376.6,1599.6 402.0,1601.0 L402.0,1605.1 Q376.6,1603.7 351.3,1604.2 Z" fill="#000" fill-opacity="0.19"/><path d="M350.9,1607.0 Q376.5,1606.3 402.2,1607.9 L402.2,1612.4 Q376.5,1610.9 350.9,1611.5 Z" fill="#000" fill-opacity="0.14"/><path d="M350.5,1613.6 Q376.4,1612.8 402.4,1614.4 L402.4,1617.4 Q376.4,1615.8 350.5,1616.5 Z" fill="#000" fill-opacity="0.06"/><path d="M350.1,1618.3 Q376.3,1617.5 402.5,1619.2 L402.5,1622.4 Q376.3,1620.6 350.1,1621.5 Z" fill="#000" fill-opacity="0.13"/><path d="M349.8,1623.7 Q376.3,1622.7 402.7,1624.5 L402.7,1627.7 Q376.3,1625.9 349.8,1626.9 Z" fill="#000" fill-opacity="0.06"/><path d="M349.6,1626.1 Q376.2,1625.1 402.8,1627.0 L402.8,1632.3 Q376.2,1630.3 349.6,1631.4 Z" fill="#000" fill-opacity="0.12"/><path d="M349.2,1633.4 Q376.1,1632.2 403.1,1634.3 L403.1,1637.2 Q376.1,1635.2 349.2,1636.3 Z" fill="#000" fill-opacity="0.05"/><path d="M348.8,1638.6 Q376.0,1637.3 403.2,1639.5 L403.2,1643.0 Q376.0,1640.8 348.8,1642.1 Z" fill="#000" fill-opacity="0.15"/><path d="M348.5,1643.7 Q375.9,1642.3 403.4,1644.6 L403.4,1647.8 Q375.9,1645.5 348.5,1646.9 Z" fill="#000" fill-opacity="0.06"/><path d="M348.1,1648.0 Q375.9,1646.5 403.6,1648.8 L403.6,1653.9 Q375.9,1651.6 348.1,1653.1 Z" fill="#000" fill-opacity="0.15"/><path d="M416.3,1543.8 Q439.4,1544.1 462.6,1544.4 L462.6,1547.7 Q439.4,1547.4 416.3,1547.0 Z" fill="#000" fill-opacity="0.22"/><path d="M416.1,1547.3 Q439.4,1547.6 462.7,1547.9 L462.7,1550.3 Q439.4,1550.0 416.1,1549.7 Z" fill="#000" fill-opacity="0.06"/><path d="M416.0,1550.9 Q439.4,1551.2 462.8,1551.6 L462.8,1554.9 Q439.4,1554.6 416.0,1554.3 Z" fill="#000" fill-opacity="0.22"/><path d="M415.8,1555.0 Q439.3,1555.1 462.9,1555.6 L462.9,1558.7 Q439.3,1558.2 415.8,1558.1 Z" fill="#000" fill-opacity="0.08"/><path d="M415.6,1558.2 Q439.3,1558.3 463.0,1558.9 L463.0,1562.0 Q439.3,1561.5 415.6,1561.4 Z" fill="#000" fill-opacity="0.21"/><path d="M415.4,1562.8 Q439.2,1562.8 463.1,1563.5 L463.1,1566.9 Q439.2,1566.3 415.4,1566.3 Z" fill="#000" fill-opacity="0.08"/><path d="M415.1,1567.4 Q439.2,1567.3 463.3,1568.0 L463.3,1573.0 Q439.2,1572.3 415.1,1572.4 Z" fill="#000" fill-opacity="0.14"/><path d="M414.9,1572.5 Q439.2,1572.4 463.4,1573.2 L463.4,1575.9 Q439.2,1575.1 414.9,1575.3 Z" fill="#000" fill-opacity="0.08"/><path d="M414.7,1576.3 Q439.1,1576.1 463.5,1576.9 L463.5,1580.5 Q439.1,1579.6 414.7,1579.9 Z" fill="#000" fill-opacity="0.14"/><path d="M414.4,1581.2 Q439.1,1580.9 463.7,1581.8 L463.7,1586.1 Q439.1,1585.1 414.4,1585.5 Z" fill="#000" fill-opacity="0.11"/><path d="M414.1,1587.2 Q439.0,1586.7 463.9,1587.9 L463.9,1591.4 Q439.0,1590.3 414.1,1590.8 Z" fill="#000" fill-opacity="0.14"/><path d="M413.8,1592.3 Q439.0,1591.7 464.1,1592.9 L464.1,1596.6 Q439.0,1595.4 413.8,1596.0 Z" fill="#000" fill-opacity="0.05"/><path d="M413.6,1596.8 Q438.9,1596.1 464.3,1597.4 L464.3,1601.3 Q438.9,1600.0 413.6,1600.7 Z" fill="#000" fill-opacity="0.14"/><path d="M413.2,1602.6 Q438.8,1601.9 464.5,1603.3 L464.5,1607.5 Q438.8,1606.1 413.2,1606.9 Z" fill="#000" fill-opacity="0.13"/><path d="M412.8,1609.9 Q438.8,1609.0 464.7,1610.5 L464.7,1613.5 Q438.8,1612.0 412.8,1612.9 Z" fill="#000" fill-opacity="0.06"/><path d="M412.5,1614.3 Q438.7,1613.3 464.9,1614.9 L464.9,1618.3 Q438.7,1616.7 412.5,1617.7 Z" fill="#000" fill-opacity="0.13"/><path d="M412.2,1619.7 Q438.7,1618.6 465.1,1620.3 L465.1,1623.7 Q438.7,1622.0 412.2,1623.1 Z" fill="#000" fill-opacity="0.09"/><path d="M412.0,1622.5 Q438.6,1621.3 465.3,1623.1 L465.3,1628.9 Q438.6,1627.1 412.0,1628.3 Z" fill="#000" fill-opacity="0.19"/><path d="M411.7,1629.0 Q438.6,1627.7 465.5,1629.6 L465.5,1633.0 Q438.6,1631.0 411.7,1632.3 Z" fill="#000" fill-opacity="0.07"/><path d="M411.3,1633.8 Q438.5,1632.4 465.8,1634.4 L465.8,1638.3 Q438.5,1636.3 411.3,1637.7 Z" fill="#000" fill-opacity="0.14"/><path d="M411.0,1639.6 Q438.5,1638.1 466.0,1640.2 L466.0,1643.8 Q438.5,1641.6 411.0,1643.1 Z" fill="#000" fill-opacity="0.07"/><path d="M410.7,1643.9 Q438.4,1642.3 466.2,1644.5 L466.2,1648.7 Q438.4,1646.5 410.7,1648.1 Z" fill="#000" fill-opacity="0.23"/><path d="M479.7,1537.4 Q502.8,1537.6 525.9,1537.8 L525.9,1540.9 Q502.8,1540.7 479.7,1540.6 Z" fill="#000" fill-opacity="0.18"/><path d="M479.5,1541.7 Q502.8,1541.9 526.1,1542.1 L526.1,1544.8 Q502.8,1544.6 479.5,1544.4 Z" fill="#000" fill-opacity="0.08"/><path d="M479.4,1544.4 Q502.8,1544.5 526.2,1544.8 L526.2,1548.0 Q502.8,1547.8 479.4,1547.6 Z" fill="#000" fill-opacity="0.24"/><path d="M479.2,1548.9 Q502.8,1549.0 526.4,1549.3 L526.4,1551.7 Q502.8,1551.4 479.2,1551.4 Z" fill="#000" fill-opacity="0.06"/><path d="M479.1,1552.4 Q502.8,1552.3 526.5,1552.7 L526.5,1555.8 Q502.8,1555.4 479.1,1555.4 Z" fill="#000" fill-opacity="0.27"/><path d="M478.9,1557.4 Q502.8,1557.3 526.7,1557.8 L526.7,1560.8 Q502.8,1560.3 478.9,1560.4 Z" fill="#000" fill-opacity="0.12"/><path d="M478.7,1560.7 Q502.8,1560.5 526.9,1561.1 L526.9,1566.7 Q502.8,1566.1 478.7,1566.3 Z" fill="#000" fill-opacity="0.26"/><path d="M478.5,1566.1 Q502.8,1565.8 527.1,1566.5 L527.1,1569.3 Q502.8,1568.6 478.5,1568.9 Z" fill="#000" fill-opacity="0.10"/><path d="M478.4,1569.9 Q502.8,1569.5 527.2,1570.3 L527.2,1573.7 Q502.8,1573.0 478.4,1573.4 Z" fill="#000" fill-opacity="0.21"/><path d="M478.1,1574.7 Q502.8,1574.3 527.5,1575.1 L527.5,1579.5 Q502.8,1578.6 478.1,1579.1 Z" fill="#000" fill-opacity="0.14"/><path d="M477.9,1581.0 Q502.8,1580.4 527.7,1581.4 L527.7,1584.6 Q502.8,1583.6 477.9,1584.2 Z" fill="#000" fill-opacity="0.18"/><path d="M477.6,1585.6 Q502.8,1584.9 528.0,1586.0 L528.0,1589.6 Q502.8,1588.5 477.6,1589.2 Z" fill="#000" fill-opacity="0.07"/><path d="M477.4,1590.0 Q502.8,1589.2 528.2,1590.3 L528.2,1593.5 Q502.8,1592.4 477.4,1593.2 Z" fill="#000" fill-opacity="0.20"/><path d="M477.2,1596.1 Q502.8,1595.2 528.4,1596.5 L528.4,1600.9 Q502.8,1599.6 477.2,1600.5 Z" fill="#000" fill-opacity="0.20"/><path d="M476.9,1602.2 Q502.8,1601.2 528.7,1602.6 L528.7,1605.7 Q502.8,1604.3 476.9,1605.4 Z" fill="#000" fill-opacity="0.07"/><path d="M476.6,1607.0 Q502.8,1605.8 529.0,1607.3 L529.0,1610.9 Q502.8,1609.4 476.6,1610.6 Z" fill="#000" fill-opacity="0.17"/><path d="M476.3,1612.7 Q502.8,1611.5 529.3,1613.1 L529.3,1616.9 Q502.8,1615.3 476.3,1616.5 Z" fill="#000" fill-opacity="0.09"/><path d="M476.2,1614.1 Q502.8,1612.8 529.4,1614.5 L529.4,1621.2 Q502.8,1619.5 476.2,1620.8 Z" fill="#000" fill-opacity="0.23"/><path d="M475.9,1621.7 Q502.8,1620.3 529.7,1622.1 L529.7,1625.0 Q502.8,1623.2 475.9,1624.6 Z" fill="#000" fill-opacity="0.08"/><path d="M475.6,1626.4 Q502.8,1624.8 530.0,1626.7 L530.0,1630.7 Q502.8,1628.8 475.6,1630.3 Z" fill="#000" fill-opacity="0.16"/><path d="M475.3,1632.0 Q502.8,1630.3 530.3,1632.3 L530.3,1635.2 Q502.8,1633.2 475.3,1634.8 Z" fill="#000" fill-opacity="0.08"/><path d="M475.1,1635.4 Q502.8,1633.7 530.5,1635.7 L530.5,1640.1 Q502.8,1638.0 475.1,1639.7 Z" fill="#000" fill-opacity="0.22"/><path d="M544.8,1536.2 Q568.0,1536.3 591.1,1536.4 L591.1,1539.7 Q568.0,1539.6 544.8,1539.6 Z" fill="#000" fill-opacity="0.18"/><path d="M544.7,1540.6 Q568.0,1540.6 591.3,1540.7 L591.3,1543.2 Q568.0,1543.2 544.7,1543.1 Z" fill="#000" fill-opacity="0.05"/><path d="M544.6,1543.9 Q568.0,1543.9 591.4,1544.1 L591.4,1546.9 Q568.0,1546.8 544.6,1546.8 Z" fill="#000" fill-opacity="0.22"/><path d="M544.5,1547.7 Q568.1,1547.6 591.6,1547.8 L591.6,1551.0 Q568.1,1550.8 544.5,1550.8 Z" fill="#000" fill-opacity="0.06"/><path d="M544.4,1550.6 Q568.1,1550.4 591.8,1550.7 L591.8,1553.8 Q568.1,1553.5 544.4,1553.6 Z" fill="#000" fill-opacity="0.17"/><path d="M544.3,1554.9 Q568.2,1554.7 592.1,1555.1 L592.1,1558.5 Q568.2,1558.1 544.3,1558.4 Z" fill="#000" fill-opacity="0.11"/><path d="M544.2,1558.8 Q568.2,1558.5 592.3,1558.9 L592.3,1565.2 Q568.2,1564.8 544.2,1565.1 Z" fill="#000" fill-opacity="0.13"/><path d="M544.0,1564.9 Q568.3,1564.4 592.5,1565.0 L592.5,1567.8 Q568.3,1567.2 544.0,1567.7 Z" fill="#000" fill-opacity="0.05"/><path d="M543.9,1568.0 Q568.3,1567.5 592.7,1568.1 L592.7,1571.4 Q568.3,1570.8 543.9,1571.3 Z" fill="#000" fill-opacity="0.17"/><path d="M543.8,1573.1 Q568.4,1572.5 593.1,1573.2 L593.1,1576.9 Q568.4,1576.1 543.8,1576.7 Z" fill="#000" fill-opacity="0.11"/><path d="M543.6,1579.1 Q568.5,1578.4 593.4,1579.3 L593.4,1582.8 Q568.5,1582.0 543.6,1582.7 Z" fill="#000" fill-opacity="0.10"/><path d="M543.4,1584.0 Q568.5,1583.1 593.7,1584.1 L593.7,1587.3 Q568.5,1586.3 543.4,1587.2 Z" fill="#000" fill-opacity="0.06"/><path d="M543.2,1588.7 Q568.6,1587.8 593.9,1588.8 L593.9,1592.0 Q568.6,1590.9 543.2,1591.8 Z" fill="#000" fill-opacity="0.16"/><path d="M543.0,1594.4 Q568.7,1593.4 594.3,1594.5 L594.3,1598.3 Q568.7,1597.1 543.0,1598.1 Z" fill="#000" fill-opacity="0.14"/><path d="M542.8,1600.3 Q568.7,1599.1 594.7,1600.4 L594.7,1604.1 Q568.7,1602.9 542.8,1604.0 Z" fill="#000" fill-opacity="0.08"/><path d="M542.6,1605.0 Q568.8,1603.8 595.0,1605.2 L595.0,1608.7 Q568.8,1607.3 542.6,1608.6 Z" fill="#000" fill-opacity="0.11"/><path d="M542.4,1610.4 Q568.9,1609.0 595.3,1610.5 L595.3,1613.8 Q568.9,1612.3 542.4,1613.6 Z" fill="#000" fill-opacity="0.10"/><path d="M542.3,1612.7 Q568.9,1611.2 595.5,1612.8 L595.5,1617.9 Q568.9,1616.3 542.3,1617.8 Z" fill="#000" fill-opacity="0.16"/><path d="M542.0,1619.7 Q569.0,1618.1 595.9,1619.8 L595.9,1623.0 Q569.0,1621.3 542.0,1622.8 Z" fill="#000" fill-opacity="0.05"/><path d="M541.8,1623.9 Q569.0,1622.2 596.2,1624.0 L596.2,1627.6 Q569.0,1625.9 541.8,1627.5 Z" fill="#000" fill-opacity="0.15"/><path d="M541.6,1629.0 Q569.1,1627.3 596.6,1629.1 L596.6,1632.4 Q569.1,1630.5 541.6,1632.2 Z" fill="#000" fill-opacity="0.08"/><path d="M541.4,1633.4 Q569.1,1631.5 596.9,1633.5 L596.9,1638.4 Q569.1,1636.4 541.4,1638.3 Z" fill="#000" fill-opacity="0.23"/><path d="M610.4,1535.3 Q633.6,1535.2 656.7,1535.1 L656.7,1538.9 Q633.6,1539.0 610.4,1539.1 Z" fill="#000" fill-opacity="0.20"/><path d="M610.4,1539.1 Q633.7,1539.0 657.0,1539.0 L657.0,1542.0 Q633.7,1542.1 610.4,1542.1 Z" fill="#000" fill-opacity="0.08"/><path d="M610.4,1542.5 Q633.8,1542.4 657.2,1542.4 L657.2,1545.3 Q633.8,1545.3 610.4,1545.5 Z" fill="#000" fill-opacity="0.19"/><path d="M610.3,1546.1 Q633.9,1545.9 657.5,1546.0 L657.5,1549.1 Q633.9,1549.0 610.3,1549.2 Z" fill="#000" fill-opacity="0.08"/><path d="M610.3,1549.6 Q634.0,1549.3 657.7,1549.5 L657.7,1552.5 Q634.0,1552.4 610.3,1552.6 Z" fill="#000" fill-opacity="0.21"/><path d="M610.3,1554.3 Q634.1,1553.9 658.0,1554.1 L658.0,1557.7 Q634.1,1557.4 610.3,1557.8 Z" fill="#000" fill-opacity="0.09"/><path d="M610.2,1557.6 Q634.3,1557.2 658.4,1557.5 L658.4,1563.1 Q634.3,1562.8 610.2,1563.3 Z" fill="#000" fill-opacity="0.14"/><path d="M610.1,1563.5 Q634.4,1562.9 658.6,1563.3 L658.6,1565.9 Q634.4,1565.5 610.1,1566.0 Z" fill="#000" fill-opacity="0.07"/><path d="M610.1,1566.1 Q634.5,1565.5 658.9,1566.0 L658.9,1569.5 Q634.5,1569.0 610.1,1569.6 Z" fill="#000" fill-opacity="0.16"/><path d="M610.0,1572.1 Q634.6,1571.4 659.3,1572.0 L659.3,1576.3 Q634.6,1575.7 610.0,1576.5 Z" fill="#000" fill-opacity="0.10"/><path d="M609.9,1578.1 Q634.8,1577.2 659.7,1578.0 L659.7,1581.3 Q634.8,1580.6 609.9,1581.5 Z" fill="#000" fill-opacity="0.19"/><path d="M609.8,1583.5 Q635.0,1582.5 660.1,1583.3 L660.1,1586.9 Q635.0,1586.1 609.8,1587.0 Z" fill="#000" fill-opacity="0.06"/><path d="M609.7,1586.5 Q635.1,1585.4 660.4,1586.3 L660.4,1590.0 Q635.1,1589.1 609.7,1590.1 Z" fill="#000" fill-opacity="0.18"/><path d="M609.6,1592.7 Q635.2,1591.5 660.9,1592.6 L660.9,1596.5 Q635.2,1595.5 609.6,1596.6 Z" fill="#000" fill-opacity="0.16"/><path d="M609.5,1599.6 Q635.4,1598.3 661.4,1599.5 L661.4,1602.6 Q635.4,1601.4 609.5,1602.7 Z" fill="#000" fill-opacity="0.08"/><path d="M609.4,1603.8 Q635.6,1602.4 661.8,1603.6 L661.8,1607.2 Q635.6,1605.9 609.4,1607.3 Z" fill="#000" fill-opacity="0.10"/><path d="M609.2,1608.6 Q635.7,1607.1 662.2,1608.4 L662.2,1612.1 Q635.7,1610.7 609.2,1612.2 Z" fill="#000" fill-opacity="0.09"/><path d="M609.2,1611.5 Q635.8,1609.9 662.4,1611.3 L662.4,1616.7 Q635.8,1615.3 609.2,1616.9 Z" fill="#000" fill-opacity="0.21"/><path d="M609.0,1617.6 Q636.0,1615.9 662.9,1617.5 L662.9,1621.2 Q636.0,1619.6 609.0,1621.3 Z" fill="#000" fill-opacity="0.09"/><path d="M608.9,1622.2 Q636.1,1620.5 663.3,1622.1 L663.3,1626.3 Q636.1,1624.7 608.9,1626.4 Z" fill="#000" fill-opacity="0.12"/><path d="M608.8,1628.4 Q636.2,1626.5 663.7,1628.2 L663.7,1631.6 Q636.2,1629.9 608.8,1631.7 Z" fill="#000" fill-opacity="0.08"/><path d="M608.6,1631.6 Q636.4,1629.6 664.1,1631.5 L664.1,1635.9 Q636.4,1634.0 608.6,1636.0 Z" fill="#000" fill-opacity="0.17"/><path d="M675.4,1533.0 Q698.5,1532.8 721.7,1532.6 L721.7,1536.3 Q698.5,1536.5 675.4,1536.7 Z" fill="#000" fill-opacity="0.25"/><path d="M675.4,1536.9 Q698.7,1536.7 721.9,1536.5 L721.9,1539.2 Q698.7,1539.3 675.4,1539.5 Z" fill="#000" fill-opacity="0.09"/><path d="M675.4,1539.6 Q698.8,1539.4 722.2,1539.2 L722.2,1542.9 Q698.8,1543.0 675.4,1543.3 Z" fill="#000" fill-opacity="0.19"/><path d="M675.5,1543.8 Q699.0,1543.4 722.6,1543.4 L722.6,1546.4 Q699.0,1546.4 675.5,1546.8 Z" fill="#000" fill-opacity="0.06"/><path d="M675.5,1547.1 Q699.2,1546.7 722.9,1546.7 L722.9,1549.6 Q699.2,1549.6 675.5,1550.0 Z" fill="#000" fill-opacity="0.18"/><path d="M675.5,1551.4 Q699.4,1550.9 723.2,1551.1 L723.2,1554.9 Q699.4,1554.8 675.5,1555.3 Z" fill="#000" fill-opacity="0.11"/><path d="M675.5,1556.4 Q699.6,1555.8 723.7,1556.0 L723.7,1561.2 Q699.6,1561.0 675.5,1561.6 Z" fill="#000" fill-opacity="0.24"/><path d="M675.5,1560.7 Q699.8,1560.0 724.0,1560.3 L724.0,1563.1 Q699.8,1562.8 675.5,1563.5 Z" fill="#000" fill-opacity="0.06"/><path d="M675.5,1564.2 Q699.9,1563.5 724.3,1563.9 L724.3,1567.2 Q699.9,1566.9 675.5,1567.6 Z" fill="#000" fill-opacity="0.19"/><path d="M675.5,1569.4 Q700.2,1568.5 724.8,1569.0 L724.8,1573.4 Q700.2,1572.9 675.5,1573.8 Z" fill="#000" fill-opacity="0.10"/><path d="M675.5,1575.9 Q700.5,1574.9 725.4,1575.5 L725.4,1579.3 Q700.5,1578.7 675.5,1579.7 Z" fill="#000" fill-opacity="0.19"/><path d="M675.5,1581.2 Q700.7,1580.1 725.8,1580.8 L725.8,1584.0 Q700.7,1583.2 675.5,1584.3 Z" fill="#000" fill-opacity="0.06"/><path d="M675.5,1584.3 Q700.9,1583.2 726.2,1583.9 L726.2,1587.8 Q700.9,1587.0 675.5,1588.2 Z" fill="#000" fill-opacity="0.22"/><path d="M675.5,1590.2 Q701.1,1588.9 726.8,1589.8 L726.8,1593.7 Q701.1,1592.8 675.5,1594.1 Z" fill="#000" fill-opacity="0.12"/><path d="M675.4,1597.0 Q701.4,1595.6 727.3,1596.6 L727.3,1600.1 Q701.4,1599.0 675.4,1600.4 Z" fill="#000" fill-opacity="0.06"/><path d="M675.4,1601.1 Q701.6,1599.6 727.8,1600.8 L727.8,1604.9 Q701.6,1603.8 675.4,1605.3 Z" fill="#000" fill-opacity="0.14"/><path d="M675.4,1606.2 Q701.8,1604.6 728.3,1605.8 L728.3,1609.5 Q701.8,1608.2 675.4,1609.9 Z" fill="#000" fill-opacity="0.09"/><path d="M675.4,1609.7 Q702.0,1608.0 728.6,1609.3 L728.6,1614.5 Q702.0,1613.2 675.4,1614.9 Z" fill="#000" fill-opacity="0.21"/><path d="M675.3,1615.7 Q702.2,1613.9 729.2,1615.4 L729.2,1619.1 Q702.2,1617.6 675.3,1619.4 Z" fill="#000" fill-opacity="0.07"/><path d="M675.3,1619.9 Q702.5,1618.0 729.7,1619.6 L729.7,1623.3 Q702.5,1621.7 675.3,1623.6 Z" fill="#000" fill-opacity="0.19"/><path d="M675.2,1625.0 Q702.7,1623.0 730.2,1624.6 L730.2,1628.4 Q702.7,1626.8 675.2,1628.8 Z" fill="#000" fill-opacity="0.07"/><path d="M675.2,1630.0 Q702.9,1627.9 730.6,1629.6 L730.6,1633.9 Q702.9,1632.2 675.2,1634.3 Z" fill="#000" fill-opacity="0.24"/><path d="M740.9,1531.8 Q764.0,1531.5 787.2,1531.2 L787.2,1534.8 Q764.0,1535.1 740.9,1535.5 Z" fill="#000" fill-opacity="0.20"/><path d="M741.0,1536.0 Q764.3,1535.7 787.5,1535.4 L787.5,1538.0 Q764.3,1538.3 741.0,1538.6 Z" fill="#000" fill-opacity="0.05"/><path d="M741.1,1539.0 Q764.5,1538.7 787.9,1538.4 L787.9,1542.1 Q764.5,1542.3 741.1,1542.7 Z" fill="#000" fill-opacity="0.15"/><path d="M741.2,1542.9 Q764.8,1542.4 788.3,1542.3 L788.3,1545.0 Q764.8,1545.2 741.2,1545.6 Z" fill="#000" fill-opacity="0.05"/><path d="M741.3,1546.3 Q765.0,1545.8 788.7,1545.7 L788.7,1548.7 Q765.0,1548.8 741.3,1549.3 Z" fill="#000" fill-opacity="0.16"/><path d="M741.5,1550.9 Q765.3,1550.3 789.2,1550.3 L789.2,1554.0 Q765.3,1554.1 741.5,1554.7 Z" fill="#000" fill-opacity="0.07"/><path d="M741.6,1554.7 Q765.7,1553.9 789.8,1554.0 L789.8,1560.0 Q765.7,1559.9 741.6,1560.7 Z" fill="#000" fill-opacity="0.11"/><path d="M741.7,1560.7 Q766.0,1559.9 790.2,1560.1 L790.2,1562.6 Q766.0,1562.4 741.7,1563.2 Z" fill="#000" fill-opacity="0.04"/><path d="M741.8,1563.3 Q766.2,1562.4 790.6,1562.7 L790.6,1566.4 Q766.2,1566.2 741.8,1567.1 Z" fill="#000" fill-opacity="0.13"/><path d="M741.9,1568.4 Q766.6,1567.4 791.2,1567.8 L791.2,1572.1 Q766.6,1571.7 741.9,1572.7 Z" fill="#000" fill-opacity="0.07"/><path d="M742.1,1575.0 Q767.0,1573.9 791.9,1574.4 L791.9,1578.0 Q767.0,1577.5 742.1,1578.6 Z" fill="#000" fill-opacity="0.12"/><path d="M742.2,1579.5 Q767.4,1578.3 792.5,1578.9 L792.5,1582.3 Q767.4,1581.7 742.2,1583.0 Z" fill="#000" fill-opacity="0.06"/><path d="M742.3,1583.5 Q767.6,1582.2 793.0,1582.9 L793.0,1586.8 Q767.6,1586.1 742.3,1587.4 Z" fill="#000" fill-opacity="0.16"/><path d="M742.4,1589.8 Q768.0,1588.4 793.7,1589.2 L793.7,1593.0 Q768.0,1592.2 742.4,1593.6 Z" fill="#000" fill-opacity="0.13"/><path d="M742.5,1595.9 Q768.5,1594.3 794.4,1595.2 L794.4,1598.2 Q768.5,1597.3 742.5,1598.9 Z" fill="#000" fill-opacity="0.06"/><path d="M742.6,1600.6 Q768.8,1598.9 795.0,1600.0 L795.0,1603.5 Q768.8,1602.5 742.6,1604.2 Z" fill="#000" fill-opacity="0.11"/><path d="M742.7,1605.6 Q769.2,1603.9 795.6,1605.0 L795.6,1608.5 Q769.2,1607.3 742.7,1609.1 Z" fill="#000" fill-opacity="0.07"/><path d="M742.8,1608.4 Q769.4,1606.6 796.0,1607.7 L796.0,1614.1 Q769.4,1612.9 742.8,1614.7 Z" fill="#000" fill-opacity="0.12"/><path d="M742.8,1614.7 Q769.8,1612.8 796.7,1614.1 L796.7,1617.4 Q769.8,1616.1 742.8,1618.1 Z" fill="#000" fill-opacity="0.06"/><path d="M742.9,1620.5 Q770.1,1618.5 797.3,1619.9 L797.3,1623.4 Q770.1,1622.0 742.9,1624.1 Z" fill="#000" fill-opacity="0.11"/><path d="M743.0,1625.6 Q770.5,1623.5 798.0,1625.0 L798.0,1628.5 Q770.5,1627.0 743.0,1629.2 Z" fill="#000" fill-opacity="0.08"/><path d="M743.0,1628.5 Q770.8,1626.3 798.5,1627.9 L798.5,1633.0 Q770.8,1631.4 743.0,1633.6 Z" fill="#000" fill-opacity="0.20"/><path d="M805.7,1529.5 Q828.9,1529.1 852.0,1528.6 L852.0,1531.7 Q828.9,1532.2 805.7,1532.6 Z" fill="#000" fill-opacity="0.12"/><path d="M805.9,1532.3 Q829.2,1531.8 852.4,1531.4 L852.4,1534.3 Q829.2,1534.7 805.9,1535.2 Z" fill="#000" fill-opacity="0.04"/><path d="M806.0,1536.3 Q829.4,1535.8 852.8,1535.4 L852.8,1538.7 Q829.4,1539.1 806.0,1539.6 Z" fill="#000" fill-opacity="0.19"/><path d="M806.2,1539.7 Q829.8,1539.1 853.3,1538.8 L853.3,1541.8 Q829.8,1542.1 806.2,1542.6 Z" fill="#000" fill-opacity="0.05"/><path d="M806.4,1543.2 Q830.0,1542.5 853.7,1542.3 L853.7,1545.8 Q830.0,1546.0 806.4,1546.7 Z" fill="#000" fill-opacity="0.16"/><path d="M806.6,1548.3 Q830.4,1547.6 854.3,1547.5 L854.3,1551.1 Q830.4,1551.2 806.6,1551.9 Z" fill="#000" fill-opacity="0.08"/><path d="M806.8,1552.7 Q830.8,1551.8 854.9,1551.8 L854.9,1556.7 Q830.8,1556.7 806.8,1557.6 Z" fill="#000" fill-opacity="0.12"/><path d="M806.9,1557.3 Q831.2,1556.4 855.4,1556.5 L855.4,1559.1 Q831.2,1559.0 806.9,1559.9 Z" fill="#000" fill-opacity="0.06"/><path d="M807.0,1561.0 Q831.4,1560.0 855.8,1560.1 L855.8,1563.2 Q831.4,1563.1 807.0,1564.1 Z" fill="#000" fill-opacity="0.09"/><path d="M807.2,1566.3 Q831.9,1565.2 856.5,1565.5 L856.5,1569.2 Q831.9,1569.0 807.2,1570.1 Z" fill="#000" fill-opacity="0.08"/><path d="M807.5,1572.1 Q832.4,1570.8 857.3,1571.2 L857.3,1574.9 Q832.4,1574.5 807.5,1575.7 Z" fill="#000" fill-opacity="0.10"/><path d="M807.6,1577.6 Q832.8,1576.3 858.0,1576.7 L858.0,1579.8 Q832.8,1579.3 807.6,1580.7 Z" fill="#000" fill-opacity="0.06"/><path d="M807.8,1581.0 Q833.1,1579.6 858.5,1580.2 L858.5,1583.3 Q833.1,1582.8 807.8,1584.2 Z" fill="#000" fill-opacity="0.14"/><path d="M808.0,1586.9 Q833.6,1585.4 859.3,1586.0 L859.3,1590.5 Q833.6,1589.8 808.0,1591.4 Z" fill="#000" fill-opacity="0.14"/><path d="M808.2,1593.4 Q834.1,1591.8 860.0,1592.6 L860.0,1596.1 Q834.1,1595.4 808.2,1597.0 Z" fill="#000" fill-opacity="0.04"/><path d="M808.3,1598.3 Q834.5,1596.6 860.7,1597.5 L860.7,1601.1 Q834.5,1600.2 808.3,1601.9 Z" fill="#000" fill-opacity="0.11"/><path d="M808.5,1603.0 Q834.9,1601.1 861.4,1602.1 L861.4,1605.2 Q834.9,1604.2 808.5,1606.1 Z" fill="#000" fill-opacity="0.06"/><path d="M808.6,1605.1 Q835.2,1603.2 861.8,1604.2 L861.8,1610.5 Q835.2,1609.5 808.6,1611.4 Z" fill="#000" fill-opacity="0.11"/><path d="M808.7,1612.5 Q835.6,1610.5 862.6,1611.6 L862.6,1615.2 Q835.6,1614.0 808.7,1616.1 Z" fill="#000" fill-opacity="0.06"/><path d="M808.8,1617.1 Q836.1,1615.0 863.3,1616.2 L863.3,1620.1 Q836.1,1618.8 808.8,1621.0 Z" fill="#000" fill-opacity="0.10"/><path d="M809.0,1622.5 Q836.5,1620.2 864.0,1621.6 L864.0,1624.7 Q836.5,1623.3 809.0,1625.6 Z" fill="#000" fill-opacity="0.08"/><path d="M809.1,1626.9 Q836.8,1624.6 864.6,1626.1 L864.6,1630.2 Q836.8,1628.7 809.1,1631.0 Z" fill="#000" fill-opacity="0.18"/></g>
<g filter="url(#gb1)"><path d="M357.8,1397.8 Q379.8,1398.2 401.8,1398.6 L401.8,1400.1 Q379.8,1399.7 357.8,1399.3 Z" fill="#000" fill-opacity="0.23"/><path d="M357.7,1402.0 Q379.7,1402.4 401.7,1402.8 L401.7,1404.2 Q379.7,1403.8 357.7,1403.4 Z" fill="#000" fill-opacity="0.17"/><path d="M357.6,1412.4 Q379.6,1412.8 401.6,1413.2 L401.6,1415.5 Q379.6,1415.1 357.6,1414.6 Z" fill="#000" fill-opacity="0.06"/><path d="M357.4,1424.2 Q379.4,1424.6 401.4,1425.1 L401.4,1427.3 Q379.4,1426.8 357.4,1426.4 Z" fill="#000" fill-opacity="0.30"/><path d="M357.3,1430.6 Q379.3,1431.0 401.3,1431.4 L401.3,1433.5 Q379.3,1433.0 357.3,1432.6 Z" fill="#000" fill-opacity="0.15"/><path d="M357.2,1436.5 Q379.2,1436.9 401.2,1437.3 L401.2,1440.8 Q379.2,1440.3 357.2,1439.9 Z" fill="#000" fill-opacity="0.66"/><path d="M357.1,1442.4 Q379.1,1442.9 401.1,1443.3 L401.1,1445.8 Q379.1,1445.4 357.1,1444.9 Z" fill="#000" fill-opacity="0.20"/><path d="M357.0,1448.4 Q379.0,1448.9 401.0,1449.3 L401.0,1452.2 Q379.0,1451.8 357.0,1451.4 Z" fill="#000" fill-opacity="0.53"/><path d="M356.9,1452.9 Q378.9,1453.3 400.9,1453.8 L400.9,1455.7 Q378.9,1455.3 356.9,1454.8 Z" fill="#000" fill-opacity="0.13"/><path d="M356.9,1456.8 Q378.9,1457.3 400.9,1457.7 L400.9,1460.2 Q378.9,1459.8 356.9,1459.4 Z" fill="#000" fill-opacity="0.41"/><path d="M356.8,1462.0 Q378.8,1462.4 400.8,1462.8 L400.8,1465.9 Q378.8,1465.5 356.8,1465.1 Z" fill="#000" fill-opacity="0.25"/><path d="M356.7,1465.4 Q378.7,1465.8 400.7,1466.3 L400.7,1470.3 Q378.7,1469.8 356.7,1469.4 Z" fill="#000" fill-opacity="0.45"/><path d="M356.6,1472.8 Q378.6,1473.3 400.6,1473.7 L400.6,1476.1 Q378.6,1475.6 356.6,1475.2 Z" fill="#000" fill-opacity="0.21"/><path d="M356.5,1478.1 Q378.5,1478.5 400.5,1479.0 L400.5,1481.3 Q378.5,1480.9 356.5,1480.4 Z" fill="#000" fill-opacity="0.30"/><path d="M356.4,1485.2 Q378.4,1485.6 400.4,1486.0 L400.4,1488.3 Q378.4,1487.9 356.4,1487.5 Z" fill="#000" fill-opacity="0.55"/><path d="M356.3,1490.5 Q378.3,1491.0 400.3,1491.4 L400.3,1494.1 Q378.3,1493.7 356.3,1493.2 Z" fill="#000" fill-opacity="0.16"/><path d="M356.2,1497.5 Q378.2,1497.9 400.2,1498.3 L400.2,1501.3 Q378.2,1500.9 356.2,1500.4 Z" fill="#000" fill-opacity="0.50"/><path d="M356.1,1504.1 Q378.1,1504.5 400.2,1504.9 L400.2,1507.5 Q378.1,1507.1 356.1,1506.7 Z" fill="#000" fill-opacity="0.15"/><path d="M355.9,1510.3 Q378.0,1510.8 400.2,1511.2 L400.2,1513.9 Q378.0,1513.5 355.9,1513.1 Z" fill="#000" fill-opacity="0.57"/><path d="M355.7,1515.9 Q378.0,1516.4 400.2,1516.8 L400.2,1519.3 Q378.0,1518.9 355.7,1518.5 Z" fill="#000" fill-opacity="0.24"/><path d="M355.5,1521.2 Q377.9,1521.6 400.3,1522.1 L400.3,1525.7 Q377.9,1525.3 355.5,1524.8 Z" fill="#000" fill-opacity="0.95"/><path d="M355.3,1526.9 Q377.8,1527.3 400.3,1527.7 L400.3,1530.0 Q377.8,1529.5 355.3,1529.1 Z" fill="#000" fill-opacity="0.23"/><path d="M355.1,1531.3 Q377.7,1531.7 400.4,1532.2 L400.4,1534.6 Q377.7,1534.2 355.1,1533.8 Z" fill="#000" fill-opacity="0.53"/><path d="M354.9,1534.2 Q377.7,1534.7 400.4,1535.1 L400.4,1537.3 Q377.7,1536.8 354.9,1536.4 Z" fill="#000" fill-opacity="0.21"/><path d="M354.7,1538.9 Q377.6,1539.3 400.5,1539.7 L400.5,1542.8 Q377.6,1542.4 354.7,1542.0 Z" fill="#000" fill-opacity="0.72"/><path d="M354.5,1542.9 Q377.5,1543.4 400.5,1543.8 L400.5,1545.9 Q377.5,1545.5 354.5,1545.1 Z" fill="#000" fill-opacity="0.17"/><path d="M418.9,1397.5 Q440.9,1397.8 462.9,1398.2 L462.9,1399.4 Q440.9,1399.1 418.9,1398.8 Z" fill="#000" fill-opacity="0.25"/><path d="M418.9,1401.1 Q440.9,1401.4 462.9,1401.7 L462.9,1403.0 Q440.9,1402.7 418.9,1402.4 Z" fill="#000" fill-opacity="0.17"/><path d="M418.8,1411.1 Q440.8,1411.4 462.8,1411.7 L462.8,1414.0 Q440.8,1413.7 418.8,1413.4 Z" fill="#000" fill-opacity="0.09"/><path d="M418.6,1423.5 Q440.6,1423.8 462.6,1424.2 L462.6,1426.4 Q440.6,1426.1 418.6,1425.8 Z" fill="#000" fill-opacity="0.40"/><path d="M418.6,1428.5 Q440.6,1428.8 462.6,1429.1 L462.6,1431.4 Q440.6,1431.0 418.6,1430.7 Z" fill="#000" fill-opacity="0.16"/><path d="M418.5,1435.5 Q440.5,1435.8 462.5,1436.1 L462.5,1439.4 Q440.5,1439.0 418.5,1438.7 Z" fill="#000" fill-opacity="0.95"/><path d="M418.5,1441.2 Q440.5,1441.6 462.5,1441.9 L462.5,1443.9 Q440.5,1443.6 418.5,1443.3 Z" fill="#000" fill-opacity="0.16"/><path d="M418.4,1446.5 Q440.4,1446.8 462.4,1447.1 L462.4,1450.4 Q440.4,1450.1 418.4,1449.7 Z" fill="#000" fill-opacity="0.82"/><path d="M418.4,1451.3 Q440.4,1451.6 462.4,1451.9 L462.4,1454.2 Q440.4,1453.8 418.4,1453.5 Z" fill="#000" fill-opacity="0.14"/><path d="M418.3,1455.8 Q440.3,1456.2 462.3,1456.5 L462.3,1459.1 Q440.3,1458.8 418.3,1458.5 Z" fill="#000" fill-opacity="0.44"/><path d="M418.3,1460.8 Q440.3,1461.1 462.3,1461.4 L462.3,1464.3 Q440.3,1463.9 418.3,1463.6 Z" fill="#000" fill-opacity="0.28"/><path d="M418.2,1464.0 Q440.2,1464.3 462.2,1464.6 L462.2,1468.5 Q440.2,1468.1 418.2,1467.8 Z" fill="#000" fill-opacity="0.60"/><path d="M418.2,1470.9 Q440.2,1471.2 462.2,1471.5 L462.2,1473.8 Q440.2,1473.5 418.2,1473.2 Z" fill="#000" fill-opacity="0.14"/><path d="M418.1,1476.6 Q440.1,1476.9 462.1,1477.3 L462.1,1479.7 Q440.1,1479.4 418.1,1479.1 Z" fill="#000" fill-opacity="0.31"/><path d="M418.0,1483.2 Q440.0,1483.5 462.0,1483.8 L462.0,1486.6 Q440.0,1486.2 418.0,1485.9 Z" fill="#000" fill-opacity="0.59"/><path d="M418.0,1488.3 Q440.0,1488.6 462.0,1488.9 L462.0,1491.2 Q440.0,1490.9 418.0,1490.6 Z" fill="#000" fill-opacity="0.15"/><path d="M417.9,1495.3 Q439.9,1495.6 461.9,1495.9 L461.9,1498.6 Q439.9,1498.3 417.9,1498.0 Z" fill="#000" fill-opacity="0.37"/><path d="M417.8,1502.2 Q439.9,1502.5 461.9,1502.8 L461.9,1505.3 Q439.9,1505.0 417.8,1504.7 Z" fill="#000" fill-opacity="0.23"/><path d="M417.7,1508.2 Q439.8,1508.5 461.9,1508.8 L461.9,1511.6 Q439.8,1511.3 417.7,1511.0 Z" fill="#000" fill-opacity="0.77"/><path d="M417.5,1513.5 Q439.7,1513.8 462.0,1514.1 L462.0,1516.8 Q439.7,1516.5 417.5,1516.1 Z" fill="#000" fill-opacity="0.24"/><path d="M417.3,1519.0 Q439.7,1519.3 462.1,1519.6 L462.1,1522.8 Q439.7,1522.5 417.3,1522.2 Z" fill="#000" fill-opacity="0.95"/><path d="M417.1,1523.8 Q439.6,1524.2 462.2,1524.5 L462.2,1526.9 Q439.6,1526.6 417.1,1526.3 Z" fill="#000" fill-opacity="0.26"/><path d="M417.0,1528.0 Q439.6,1528.3 462.2,1528.7 L462.2,1531.1 Q439.6,1530.7 417.0,1530.4 Z" fill="#000" fill-opacity="0.56"/><path d="M416.8,1532.2 Q439.6,1532.5 462.3,1532.8 L462.3,1534.7 Q439.6,1534.4 416.8,1534.1 Z" fill="#000" fill-opacity="0.24"/><path d="M416.7,1535.1 Q439.5,1535.4 462.4,1535.7 L462.4,1538.9 Q439.5,1538.6 416.7,1538.3 Z" fill="#000" fill-opacity="0.52"/><path d="M416.5,1539.7 Q439.5,1540.0 462.5,1540.3 L462.5,1542.5 Q439.5,1542.2 416.5,1541.9 Z" fill="#000" fill-opacity="0.22"/><path d="M480.8,1394.2 Q502.8,1394.4 524.8,1394.6 L524.8,1396.1 Q502.8,1395.9 480.8,1395.7 Z" fill="#000" fill-opacity="0.35"/><path d="M480.8,1397.1 Q502.8,1397.3 524.8,1397.4 L524.8,1398.9 Q502.8,1398.7 480.8,1398.5 Z" fill="#000" fill-opacity="0.24"/><path d="M480.8,1407.3 Q502.8,1407.5 524.8,1407.7 L524.8,1409.9 Q502.8,1409.8 480.8,1409.6 Z" fill="#000" fill-opacity="0.08"/><path d="M480.8,1419.5 Q502.8,1419.6 524.8,1419.8 L524.8,1422.5 Q502.8,1422.3 480.8,1422.2 Z" fill="#000" fill-opacity="0.47"/><path d="M480.8,1424.9 Q502.8,1425.1 524.8,1425.3 L524.8,1427.7 Q502.8,1427.5 480.8,1427.3 Z" fill="#000" fill-opacity="0.17"/><path d="M480.8,1431.1 Q502.8,1431.3 524.8,1431.5 L524.8,1434.9 Q502.8,1434.8 480.8,1434.6 Z" fill="#000" fill-opacity="0.86"/><path d="M480.8,1437.4 Q502.8,1437.6 524.8,1437.8 L524.8,1440.0 Q502.8,1439.8 480.8,1439.6 Z" fill="#000" fill-opacity="0.22"/><path d="M480.8,1442.4 Q502.8,1442.6 524.8,1442.8 L524.8,1446.1 Q502.8,1445.9 480.8,1445.8 Z" fill="#000" fill-opacity="0.95"/><path d="M480.8,1447.1 Q502.8,1447.3 524.8,1447.4 L524.8,1449.5 Q502.8,1449.3 480.8,1449.1 Z" fill="#000" fill-opacity="0.17"/><path d="M480.8,1450.7 Q502.8,1450.9 524.8,1451.1 L524.8,1453.5 Q502.8,1453.3 480.8,1453.1 Z" fill="#000" fill-opacity="0.43"/><path d="M480.8,1455.2 Q502.8,1455.4 524.8,1455.6 L524.8,1458.7 Q502.8,1458.5 480.8,1458.3 Z" fill="#000" fill-opacity="0.36"/><path d="M480.8,1458.8 Q502.8,1459.0 524.8,1459.1 L524.8,1463.3 Q502.8,1463.1 480.8,1462.9 Z" fill="#000" fill-opacity="0.79"/><path d="M480.8,1466.3 Q502.8,1466.5 524.8,1466.7 L524.8,1468.9 Q502.8,1468.7 480.8,1468.5 Z" fill="#000" fill-opacity="0.28"/><path d="M480.8,1471.4 Q502.8,1471.6 524.8,1471.7 L524.8,1474.5 Q502.8,1474.3 480.8,1474.1 Z" fill="#000" fill-opacity="0.49"/><path d="M480.8,1477.7 Q502.8,1477.9 524.8,1478.1 L524.8,1480.3 Q502.8,1480.1 480.8,1479.9 Z" fill="#000" fill-opacity="0.50"/><path d="M480.8,1483.3 Q502.8,1483.4 524.8,1483.6 L524.8,1485.9 Q502.8,1485.7 480.8,1485.5 Z" fill="#000" fill-opacity="0.25"/><path d="M480.8,1490.7 Q502.8,1490.9 524.8,1491.0 L524.8,1493.9 Q502.8,1493.7 480.8,1493.5 Z" fill="#000" fill-opacity="0.57"/><path d="M480.8,1496.1 Q502.8,1496.2 524.8,1496.4 L524.8,1499.1 Q502.8,1499.0 480.8,1498.8 Z" fill="#000" fill-opacity="0.22"/><path d="M480.7,1502.7 Q502.8,1502.8 524.9,1503.0 L524.9,1505.8 Q502.8,1505.6 480.7,1505.4 Z" fill="#000" fill-opacity="0.95"/><path d="M480.6,1507.9 Q502.8,1508.1 525.0,1508.3 L525.0,1510.7 Q502.8,1510.5 480.6,1510.3 Z" fill="#000" fill-opacity="0.23"/><path d="M480.4,1513.6 Q502.8,1513.8 525.2,1514.0 L525.2,1517.6 Q502.8,1517.4 480.4,1517.2 Z" fill="#000" fill-opacity="0.95"/><path d="M480.3,1517.9 Q502.8,1518.1 525.3,1518.3 L525.3,1520.7 Q502.8,1520.5 480.3,1520.3 Z" fill="#000" fill-opacity="0.35"/><path d="M480.2,1522.7 Q502.8,1522.9 525.4,1523.1 L525.4,1525.5 Q502.8,1525.3 480.2,1525.2 Z" fill="#000" fill-opacity="0.45"/><path d="M480.1,1526.0 Q502.8,1526.2 525.5,1526.4 L525.5,1528.7 Q502.8,1528.5 480.1,1528.3 Z" fill="#000" fill-opacity="0.23"/><path d="M479.9,1529.4 Q502.8,1529.5 525.7,1529.7 L525.7,1532.6 Q502.8,1532.4 479.9,1532.2 Z" fill="#000" fill-opacity="0.78"/><path d="M479.8,1533.9 Q502.8,1534.1 525.8,1534.3 L525.8,1536.1 Q502.8,1536.0 479.8,1535.8 Z" fill="#000" fill-opacity="0.22"/><path d="M544.2,1393.8 Q566.2,1393.8 588.2,1393.9 L588.2,1395.3 Q566.2,1395.2 544.2,1395.1 Z" fill="#000" fill-opacity="0.19"/><path d="M544.2,1397.9 Q566.2,1398.0 588.2,1398.0 L588.2,1399.5 Q566.2,1399.4 544.2,1399.3 Z" fill="#000" fill-opacity="0.19"/><path d="M544.4,1407.7 Q566.4,1407.8 588.4,1407.9 L588.4,1410.6 Q566.4,1410.5 544.4,1410.4 Z" fill="#000" fill-opacity="0.09"/><path d="M544.5,1419.3 Q566.5,1419.4 588.5,1419.5 L588.5,1421.8 Q566.5,1421.8 544.5,1421.7 Z" fill="#000" fill-opacity="0.38"/><path d="M544.6,1424.4 Q566.6,1424.5 588.6,1424.5 L588.6,1426.9 Q566.6,1426.8 544.6,1426.8 Z" fill="#000" fill-opacity="0.20"/><path d="M544.7,1430.3 Q566.7,1430.4 588.7,1430.4 L588.7,1433.8 Q566.7,1433.7 544.7,1433.6 Z" fill="#000" fill-opacity="0.85"/><path d="M544.7,1436.9 Q566.7,1436.9 588.7,1437.0 L588.7,1439.4 Q566.7,1439.3 544.7,1439.3 Z" fill="#000" fill-opacity="0.23"/><path d="M544.8,1441.5 Q566.8,1441.6 588.8,1441.7 L588.8,1444.7 Q566.8,1444.7 544.8,1444.6 Z" fill="#000" fill-opacity="0.83"/><path d="M544.8,1447.2 Q566.8,1447.2 588.8,1447.3 L588.8,1449.5 Q566.8,1449.4 544.8,1449.4 Z" fill="#000" fill-opacity="0.16"/><path d="M544.9,1450.7 Q566.9,1450.7 588.9,1450.8 L588.9,1453.5 Q566.9,1453.4 544.9,1453.4 Z" fill="#000" fill-opacity="0.41"/><path d="M545.0,1455.7 Q567.0,1455.8 589.0,1455.8 L589.0,1458.7 Q567.0,1458.6 545.0,1458.6 Z" fill="#000" fill-opacity="0.26"/><path d="M545.0,1458.5 Q567.0,1458.6 589.0,1458.6 L589.0,1462.8 Q567.0,1462.7 545.0,1462.6 Z" fill="#000" fill-opacity="0.44"/><path d="M545.1,1466.0 Q567.1,1466.1 589.1,1466.2 L589.1,1468.6 Q567.1,1468.6 545.1,1468.5 Z" fill="#000" fill-opacity="0.15"/><path d="M545.1,1470.8 Q567.1,1470.8 589.1,1470.9 L589.1,1473.5 Q567.1,1473.4 545.1,1473.3 Z" fill="#000" fill-opacity="0.30"/><path d="M545.2,1476.6 Q567.2,1476.7 589.2,1476.7 L589.2,1479.4 Q567.2,1479.3 545.2,1479.3 Z" fill="#000" fill-opacity="0.47"/><path d="M545.3,1482.7 Q567.3,1482.8 589.3,1482.8 L589.3,1485.3 Q567.3,1485.2 545.3,1485.2 Z" fill="#000" fill-opacity="0.18"/><path d="M545.4,1489.1 Q567.4,1489.2 589.4,1489.2 L589.4,1492.0 Q567.4,1492.0 545.4,1491.9 Z" fill="#000" fill-opacity="0.48"/><path d="M545.4,1495.4 Q567.4,1495.4 589.5,1495.5 L589.5,1497.8 Q567.4,1497.7 545.4,1497.7 Z" fill="#000" fill-opacity="0.16"/><path d="M545.4,1501.0 Q567.5,1501.1 589.7,1501.1 L589.7,1504.4 Q567.5,1504.3 545.4,1504.3 Z" fill="#000" fill-opacity="0.80"/><path d="M545.3,1506.7 Q567.6,1506.8 589.8,1506.9 L589.8,1509.3 Q567.6,1509.2 545.3,1509.1 Z" fill="#000" fill-opacity="0.28"/><path d="M545.3,1512.3 Q567.7,1512.3 590.1,1512.4 L590.1,1516.1 Q567.7,1516.0 545.3,1516.0 Z" fill="#000" fill-opacity="0.95"/><path d="M545.2,1517.6 Q567.7,1517.6 590.2,1517.7 L590.2,1519.7 Q567.7,1519.7 545.2,1519.6 Z" fill="#000" fill-opacity="0.23"/><path d="M545.1,1520.9 Q567.8,1521.0 590.4,1521.0 L590.4,1523.6 Q567.8,1523.6 545.1,1523.5 Z" fill="#000" fill-opacity="0.35"/><path d="M545.1,1525.1 Q567.8,1525.2 590.5,1525.2 L590.5,1527.0 Q567.8,1527.0 545.1,1526.9 Z" fill="#000" fill-opacity="0.17"/><path d="M545.0,1528.2 Q567.9,1528.3 590.7,1528.3 L590.7,1531.3 Q567.9,1531.3 545.0,1531.2 Z" fill="#000" fill-opacity="0.50"/><path d="M544.9,1533.1 Q567.9,1533.2 590.9,1533.3 L590.9,1535.2 Q567.9,1535.1 544.9,1535.1 Z" fill="#000" fill-opacity="0.21"/><path d="M607.5,1394.2 Q629.5,1394.1 651.5,1394.1 L651.5,1395.6 Q629.5,1395.7 607.5,1395.8 Z" fill="#000" fill-opacity="0.31"/><path d="M607.6,1397.7 Q629.6,1397.7 651.6,1397.6 L651.6,1398.9 Q629.6,1398.9 607.6,1399.0 Z" fill="#000" fill-opacity="0.26"/><path d="M607.9,1407.1 Q629.9,1407.0 651.9,1407.0 L651.9,1409.7 Q629.9,1409.8 607.9,1409.8 Z" fill="#000" fill-opacity="0.10"/><path d="M608.2,1418.8 Q630.2,1418.8 652.2,1418.7 L652.2,1420.9 Q630.2,1421.0 608.2,1421.0 Z" fill="#000" fill-opacity="0.39"/><path d="M608.4,1423.9 Q630.4,1423.9 652.4,1423.8 L652.4,1426.1 Q630.4,1426.1 608.4,1426.2 Z" fill="#000" fill-opacity="0.22"/><path d="M608.6,1430.1 Q630.6,1430.0 652.6,1430.0 L652.6,1433.2 Q630.6,1433.3 608.6,1433.3 Z" fill="#000" fill-opacity="0.82"/><path d="M608.7,1436.0 Q630.7,1435.9 652.7,1435.9 L652.7,1438.2 Q630.7,1438.3 608.7,1438.3 Z" fill="#000" fill-opacity="0.27"/><path d="M608.9,1441.4 Q630.9,1441.4 652.9,1441.3 L652.9,1444.3 Q630.9,1444.4 608.9,1444.4 Z" fill="#000" fill-opacity="0.72"/><path d="M609.0,1446.1 Q631.0,1446.0 653.0,1445.9 L653.0,1447.8 Q631.0,1447.9 609.0,1448.0 Z" fill="#000" fill-opacity="0.15"/><path d="M609.1,1450.2 Q631.1,1450.1 653.1,1450.1 L653.1,1452.3 Q631.1,1452.4 609.1,1452.5 Z" fill="#000" fill-opacity="0.48"/><path d="M609.3,1455.3 Q631.3,1455.2 653.3,1455.2 L653.3,1458.2 Q631.3,1458.3 609.3,1458.3 Z" fill="#000" fill-opacity="0.33"/><path d="M609.4,1458.0 Q631.4,1458.0 653.4,1457.9 L653.4,1461.8 Q631.4,1461.9 609.4,1461.9 Z" fill="#000" fill-opacity="0.54"/><path d="M609.6,1464.7 Q631.6,1464.6 653.6,1464.6 L653.6,1466.9 Q631.6,1466.9 609.6,1467.0 Z" fill="#000" fill-opacity="0.20"/><path d="M609.7,1470.0 Q631.7,1469.9 653.7,1469.8 L653.7,1472.5 Q631.7,1472.6 609.7,1472.7 Z" fill="#000" fill-opacity="0.28"/><path d="M609.9,1476.4 Q631.9,1476.4 653.9,1476.3 L653.9,1478.7 Q631.9,1478.8 609.9,1478.8 Z" fill="#000" fill-opacity="0.61"/><path d="M610.0,1481.9 Q632.0,1481.8 654.0,1481.8 L654.0,1484.1 Q632.0,1484.2 610.0,1484.3 Z" fill="#000" fill-opacity="0.18"/><path d="M610.2,1488.5 Q632.2,1488.4 654.2,1488.3 L654.2,1491.3 Q632.2,1491.4 610.2,1491.4 Z" fill="#000" fill-opacity="0.38"/><path d="M610.4,1494.9 Q632.4,1494.8 654.5,1494.8 L654.5,1497.3 Q632.4,1497.4 610.4,1497.4 Z" fill="#000" fill-opacity="0.17"/><path d="M610.4,1500.4 Q632.6,1500.3 654.7,1500.3 L654.7,1503.2 Q632.6,1503.2 610.4,1503.3 Z" fill="#000" fill-opacity="0.95"/><path d="M610.5,1505.8 Q632.7,1505.7 655.0,1505.7 L655.0,1508.1 Q632.7,1508.2 610.5,1508.2 Z" fill="#000" fill-opacity="0.22"/><path d="M610.5,1511.5 Q632.9,1511.5 655.3,1511.4 L655.3,1515.2 Q632.9,1515.3 610.5,1515.3 Z" fill="#000" fill-opacity="0.95"/><path d="M610.5,1515.9 Q633.0,1515.8 655.5,1515.8 L655.5,1518.2 Q633.0,1518.2 610.5,1518.3 Z" fill="#000" fill-opacity="0.18"/><path d="M610.5,1520.3 Q633.1,1520.2 655.8,1520.1 L655.8,1522.6 Q633.1,1522.7 610.5,1522.8 Z" fill="#000" fill-opacity="0.61"/><path d="M610.5,1523.8 Q633.2,1523.7 656.0,1523.7 L656.0,1525.9 Q633.2,1526.0 610.5,1526.1 Z" fill="#000" fill-opacity="0.15"/><path d="M610.5,1527.8 Q633.4,1527.7 656.2,1527.6 L656.2,1530.8 Q633.4,1530.9 610.5,1531.0 Z" fill="#000" fill-opacity="0.89"/><path d="M610.5,1531.7 Q633.5,1531.6 656.5,1531.5 L656.5,1533.4 Q633.5,1533.5 610.5,1533.5 Z" fill="#000" fill-opacity="0.18"/><path d="M670.1,1392.0 Q692.1,1391.8 714.1,1391.6 L714.1,1392.9 Q692.1,1393.1 670.1,1393.3 Z" fill="#000" fill-opacity="0.33"/><path d="M670.3,1394.7 Q692.3,1394.5 714.3,1394.3 L714.3,1395.9 Q692.3,1396.1 670.3,1396.3 Z" fill="#000" fill-opacity="0.25"/><path d="M670.7,1404.5 Q692.7,1404.4 714.7,1404.2 L714.7,1406.5 Q692.7,1406.6 670.7,1406.8 Z" fill="#000" fill-opacity="0.08"/><path d="M671.3,1416.8 Q693.3,1416.6 715.3,1416.5 L715.3,1419.2 Q693.3,1419.3 671.3,1419.5 Z" fill="#000" fill-opacity="0.36"/><path d="M671.5,1422.3 Q693.5,1422.1 715.5,1421.9 L715.5,1424.4 Q693.5,1424.6 671.5,1424.8 Z" fill="#000" fill-opacity="0.22"/><path d="M671.8,1427.5 Q693.8,1427.3 715.8,1427.1 L715.8,1430.5 Q693.8,1430.7 671.8,1430.9 Z" fill="#000" fill-opacity="0.86"/><path d="M672.0,1433.4 Q694.0,1433.2 716.0,1433.0 L716.0,1435.3 Q694.0,1435.5 672.0,1435.7 Z" fill="#000" fill-opacity="0.26"/><path d="M672.3,1438.9 Q694.3,1438.7 716.3,1438.5 L716.3,1441.5 Q694.3,1441.7 672.3,1441.8 Z" fill="#000" fill-opacity="0.80"/><path d="M672.5,1443.5 Q694.5,1443.3 716.5,1443.1 L716.5,1445.1 Q694.5,1445.3 672.5,1445.4 Z" fill="#000" fill-opacity="0.16"/><path d="M672.7,1448.3 Q694.7,1448.1 716.7,1447.9 L716.7,1450.2 Q694.7,1450.3 672.7,1450.5 Z" fill="#000" fill-opacity="0.38"/><path d="M672.9,1452.2 Q694.9,1452.0 716.9,1451.8 L716.9,1454.8 Q694.9,1454.9 672.9,1455.1 Z" fill="#000" fill-opacity="0.36"/><path d="M673.1,1456.1 Q695.1,1455.9 717.1,1455.7 L717.1,1460.0 Q695.1,1460.2 673.1,1460.4 Z" fill="#000" fill-opacity="0.86"/><path d="M673.3,1462.7 Q695.3,1462.5 717.3,1462.3 L717.3,1464.7 Q695.3,1464.9 673.3,1465.1 Z" fill="#000" fill-opacity="0.17"/><path d="M673.6,1467.4 Q695.6,1467.2 717.6,1467.0 L717.6,1469.4 Q695.6,1469.6 673.6,1469.8 Z" fill="#000" fill-opacity="0.42"/><path d="M673.8,1473.7 Q695.8,1473.5 717.8,1473.3 L717.8,1475.7 Q695.8,1475.9 673.8,1476.1 Z" fill="#000" fill-opacity="0.70"/><path d="M674.1,1480.0 Q696.1,1479.8 718.1,1479.6 L718.1,1481.8 Q696.1,1482.0 674.1,1482.2 Z" fill="#000" fill-opacity="0.22"/><path d="M674.4,1485.9 Q696.4,1485.7 718.4,1485.5 L718.4,1488.5 Q696.4,1488.6 674.4,1488.8 Z" fill="#000" fill-opacity="0.39"/><path d="M674.6,1492.7 Q696.7,1492.5 718.7,1492.3 L718.7,1495.0 Q696.7,1495.2 674.6,1495.4 Z" fill="#000" fill-opacity="0.20"/><path d="M674.8,1497.8 Q696.9,1497.6 719.1,1497.4 L719.1,1500.9 Q696.9,1501.0 674.8,1501.2 Z" fill="#000" fill-opacity="0.78"/><path d="M674.9,1503.2 Q697.2,1503.0 719.4,1502.8 L719.4,1505.4 Q697.2,1505.6 674.9,1505.8 Z" fill="#000" fill-opacity="0.28"/><path d="M675.0,1508.9 Q697.4,1508.8 719.8,1508.6 L719.8,1511.6 Q697.4,1511.8 675.0,1512.0 Z" fill="#000" fill-opacity="0.95"/><path d="M675.1,1514.4 Q697.6,1514.2 720.2,1514.1 L720.2,1516.4 Q697.6,1516.6 675.1,1516.8 Z" fill="#000" fill-opacity="0.31"/><path d="M675.2,1517.5 Q697.8,1517.4 720.5,1517.2 L720.5,1519.5 Q697.8,1519.7 675.2,1519.8 Z" fill="#000" fill-opacity="0.67"/><path d="M675.2,1522.0 Q698.0,1521.8 720.7,1521.6 L720.7,1523.9 Q698.0,1524.1 675.2,1524.2 Z" fill="#000" fill-opacity="0.23"/><path d="M675.3,1525.0 Q698.2,1524.8 721.0,1524.6 L721.0,1527.4 Q698.2,1527.6 675.3,1527.8 Z" fill="#000" fill-opacity="0.75"/><path d="M675.3,1530.1 Q698.3,1529.9 721.3,1529.7 L721.3,1531.6 Q698.3,1531.8 675.3,1532.0 Z" fill="#000" fill-opacity="0.23"/><path d="M732.1,1389.2 Q754.1,1388.9 776.1,1388.6 L776.1,1389.9 Q754.1,1390.2 732.1,1390.5 Z" fill="#000" fill-opacity="0.28"/><path d="M732.3,1393.3 Q754.3,1393.0 776.3,1392.7 L776.3,1394.0 Q754.3,1394.3 732.3,1394.6 Z" fill="#000" fill-opacity="0.24"/><path d="M733.1,1402.9 Q755.1,1402.6 777.1,1402.3 L777.1,1404.7 Q755.1,1405.0 733.1,1405.3 Z" fill="#000" fill-opacity="0.08"/><path d="M733.9,1414.2 Q755.9,1413.9 777.9,1413.6 L777.9,1415.9 Q755.9,1416.2 733.9,1416.5 Z" fill="#000" fill-opacity="0.27"/><path d="M734.3,1420.0 Q756.3,1419.7 778.3,1419.3 L778.3,1421.7 Q756.3,1422.0 734.3,1422.3 Z" fill="#000" fill-opacity="0.13"/><path d="M734.7,1425.6 Q756.7,1425.3 778.7,1425.0 L778.7,1427.9 Q756.7,1428.2 734.7,1428.5 Z" fill="#000" fill-opacity="0.61"/><path d="M735.1,1431.7 Q757.1,1431.4 779.1,1431.1 L779.1,1433.2 Q757.1,1433.5 735.1,1433.8 Z" fill="#000" fill-opacity="0.19"/><path d="M735.5,1437.4 Q757.5,1437.0 779.5,1436.7 L779.5,1439.8 Q757.5,1440.1 735.5,1440.5 Z" fill="#000" fill-opacity="0.55"/><path d="M735.8,1441.7 Q757.8,1441.4 779.8,1441.1 L779.8,1443.1 Q757.8,1443.4 735.8,1443.7 Z" fill="#000" fill-opacity="0.11"/><path d="M736.1,1446.2 Q758.1,1445.9 780.1,1445.6 L780.1,1447.8 Q758.1,1448.1 736.1,1448.4 Z" fill="#000" fill-opacity="0.33"/><path d="M736.4,1450.9 Q758.4,1450.5 780.4,1450.2 L780.4,1453.2 Q758.4,1453.6 736.4,1453.9 Z" fill="#000" fill-opacity="0.18"/><path d="M736.7,1453.6 Q758.7,1453.3 780.7,1453.0 L780.7,1457.8 Q758.7,1458.1 736.7,1458.4 Z" fill="#000" fill-opacity="0.49"/><path d="M737.1,1461.1 Q759.1,1460.8 781.1,1460.5 L781.1,1462.8 Q759.1,1463.1 737.1,1463.5 Z" fill="#000" fill-opacity="0.16"/><path d="M737.4,1466.2 Q759.4,1465.9 781.4,1465.6 L781.4,1468.3 Q759.4,1468.7 737.4,1469.0 Z" fill="#000" fill-opacity="0.25"/><path d="M737.9,1472.2 Q759.9,1471.8 781.9,1471.5 L781.9,1474.1 Q759.9,1474.4 737.9,1474.7 Z" fill="#000" fill-opacity="0.41"/><path d="M738.3,1477.4 Q760.3,1477.1 782.3,1476.8 L782.3,1479.5 Q760.3,1479.8 738.3,1480.1 Z" fill="#000" fill-opacity="0.12"/><path d="M738.8,1485.3 Q760.8,1485.0 782.8,1484.7 L782.8,1487.3 Q760.8,1487.6 738.8,1487.9 Z" fill="#000" fill-opacity="0.39"/><path d="M739.1,1491.2 Q761.2,1490.8 783.2,1490.5 L783.2,1492.8 Q761.2,1493.1 739.1,1493.4 Z" fill="#000" fill-opacity="0.21"/><path d="M739.5,1496.8 Q761.6,1496.5 783.7,1496.2 L783.7,1499.4 Q761.6,1499.7 739.5,1500.0 Z" fill="#000" fill-opacity="0.48"/><path d="M739.7,1501.7 Q761.9,1501.4 784.2,1501.1 L784.2,1503.6 Q761.9,1503.9 739.7,1504.2 Z" fill="#000" fill-opacity="0.25"/><path d="M740.0,1507.8 Q762.4,1507.5 784.8,1507.2 L784.8,1510.4 Q762.4,1510.7 740.0,1511.0 Z" fill="#000" fill-opacity="0.84"/><path d="M740.2,1512.7 Q762.7,1512.4 785.2,1512.1 L785.2,1514.6 Q762.7,1514.9 740.2,1515.2 Z" fill="#000" fill-opacity="0.18"/><path d="M740.3,1516.6 Q762.9,1516.3 785.6,1516.0 L785.6,1518.6 Q762.9,1518.9 740.3,1519.2 Z" fill="#000" fill-opacity="0.32"/><path d="M740.4,1520.2 Q763.2,1519.9 785.9,1519.6 L785.9,1521.5 Q763.2,1521.8 740.4,1522.1 Z" fill="#000" fill-opacity="0.22"/><path d="M740.6,1524.5 Q763.5,1524.2 786.3,1523.9 L786.3,1526.7 Q763.5,1527.1 740.6,1527.4 Z" fill="#000" fill-opacity="0.77"/><path d="M740.7,1528.9 Q763.7,1528.6 786.7,1528.3 L786.7,1530.3 Q763.7,1530.6 740.7,1530.9 Z" fill="#000" fill-opacity="0.13"/><path d="M795.2,1386.7 Q817.2,1386.3 839.2,1385.8 L839.2,1387.4 Q817.2,1387.8 795.2,1388.3 Z" fill="#000" fill-opacity="0.22"/><path d="M795.5,1390.1 Q817.5,1389.7 839.5,1389.3 L839.5,1390.9 Q817.5,1391.3 795.5,1391.7 Z" fill="#000" fill-opacity="0.16"/><path d="M796.3,1399.6 Q818.3,1399.1 840.3,1398.7 L840.3,1401.4 Q818.3,1401.9 796.3,1402.3 Z" fill="#000" fill-opacity="0.05"/><path d="M797.3,1412.1 Q819.3,1411.6 841.3,1411.2 L841.3,1413.5 Q819.3,1414.0 797.3,1414.4 Z" fill="#000" fill-opacity="0.23"/><path d="M797.7,1416.7 Q819.7,1416.2 841.7,1415.8 L841.7,1418.1 Q819.7,1418.5 797.7,1418.9 Z" fill="#000" fill-opacity="0.17"/><path d="M798.3,1423.0 Q820.3,1422.5 842.3,1422.1 L842.3,1425.0 Q820.3,1425.4 798.3,1425.8 Z" fill="#000" fill-opacity="0.87"/><path d="M798.7,1429.0 Q820.7,1428.6 842.7,1428.2 L842.7,1430.2 Q820.7,1430.6 798.7,1431.0 Z" fill="#000" fill-opacity="0.17"/><path d="M799.2,1433.7 Q821.2,1433.3 843.2,1432.8 L843.2,1436.2 Q821.2,1436.7 799.2,1437.1 Z" fill="#000" fill-opacity="0.52"/><path d="M799.5,1439.7 Q821.5,1439.3 843.5,1438.8 L843.5,1440.7 Q821.5,1441.2 799.5,1441.6 Z" fill="#000" fill-opacity="0.16"/><path d="M799.9,1442.6 Q821.9,1442.2 843.9,1441.8 L843.9,1444.2 Q821.9,1444.7 799.9,1445.1 Z" fill="#000" fill-opacity="0.36"/><path d="M800.3,1447.5 Q822.3,1447.0 844.3,1446.6 L844.3,1450.0 Q822.3,1450.4 800.3,1450.8 Z" fill="#000" fill-opacity="0.23"/><path d="M800.6,1451.0 Q822.6,1450.6 844.6,1450.2 L844.6,1454.9 Q822.6,1455.3 800.6,1455.7 Z" fill="#000" fill-opacity="0.55"/><path d="M801.1,1458.6 Q823.1,1458.1 845.1,1457.7 L845.1,1460.2 Q823.1,1460.7 801.1,1461.1 Z" fill="#000" fill-opacity="0.13"/><path d="M801.5,1463.5 Q823.5,1463.1 845.5,1462.6 L845.5,1464.9 Q823.5,1465.4 801.5,1465.8 Z" fill="#000" fill-opacity="0.24"/><path d="M802.0,1469.8 Q824.0,1469.3 846.0,1468.9 L846.0,1471.3 Q824.0,1471.7 802.0,1472.1 Z" fill="#000" fill-opacity="0.54"/><path d="M802.5,1475.2 Q824.5,1474.8 846.5,1474.3 L846.5,1476.6 Q824.5,1477.0 802.5,1477.5 Z" fill="#000" fill-opacity="0.16"/><path d="M803.0,1481.5 Q825.0,1481.1 847.0,1480.7 L847.0,1483.5 Q825.0,1484.0 803.0,1484.4 Z" fill="#000" fill-opacity="0.45"/><path d="M803.5,1488.2 Q825.5,1487.8 847.6,1487.3 L847.6,1490.1 Q825.5,1490.5 803.5,1491.0 Z" fill="#000" fill-opacity="0.15"/><path d="M803.9,1494.2 Q826.0,1493.7 848.2,1493.3 L848.2,1496.2 Q826.0,1496.7 803.9,1497.1 Z" fill="#000" fill-opacity="0.66"/><path d="M804.2,1498.9 Q826.4,1498.5 848.7,1498.0 L848.7,1500.3 Q826.4,1500.7 804.2,1501.2 Z" fill="#000" fill-opacity="0.14"/><path d="M804.5,1504.7 Q826.9,1504.3 849.3,1503.8 L849.3,1507.3 Q826.9,1507.8 804.5,1508.2 Z" fill="#000" fill-opacity="0.93"/><path d="M804.8,1509.6 Q827.3,1509.2 849.8,1508.7 L849.8,1510.9 Q827.3,1511.3 804.8,1511.7 Z" fill="#000" fill-opacity="0.24"/><path d="M805.0,1513.5 Q827.6,1513.1 850.2,1512.6 L850.2,1514.8 Q827.6,1515.2 805.0,1515.7 Z" fill="#000" fill-opacity="0.43"/><path d="M805.2,1517.2 Q827.9,1516.8 850.6,1516.3 L850.6,1518.3 Q827.9,1518.7 805.2,1519.2 Z" fill="#000" fill-opacity="0.16"/><path d="M805.4,1521.2 Q828.2,1520.8 851.1,1520.3 L851.1,1523.3 Q828.2,1523.7 805.4,1524.1 Z" fill="#000" fill-opacity="0.50"/><path d="M805.5,1525.7 Q828.5,1525.3 851.6,1524.8 L851.6,1526.9 Q828.5,1527.3 805.5,1527.7 Z" fill="#000" fill-opacity="0.14"/><path d="M670.0,1507.2 Q693.5,1507.2 717.0,1507.2 L717.0,1512.8 Q693.5,1512.8 670.0,1512.8 Z" fill="#000" fill-opacity="0.75"/><path d="M480.0,1503.5 Q503.0,1503.5 526.0,1503.5 L526.0,1506.1 Q503.0,1506.1 480.0,1506.1 Z" fill="#000" fill-opacity="0.35"/><path d="M480.0,1442.2 Q503.0,1442.2 526.0,1442.2 L526.0,1444.8 Q503.0,1444.8 480.0,1444.8 Z" fill="#000" fill-opacity="0.30"/></g>
<g filter="url(#gb1)"><path d="M312.0,1367.5 L335.1,1367.5" stroke="#080808" stroke-width="6.2" stroke-linecap="round"/><path d="M309.9,1404.6 L335.3,1404.6" stroke="#080808" stroke-width="5.8" stroke-linecap="round"/><path d="M307.4,1439.9 L334.6,1439.9" stroke="#080808" stroke-width="6.8" stroke-linecap="round"/><path d="M306.6,1466.5 L333.9,1466.5" stroke="#080808" stroke-width="11.2" stroke-linecap="round"/><path d="M304.7,1506.7 L334.8,1506.7" stroke="#080808" stroke-width="9.4" stroke-linecap="round"/><path d="M302.9,1537.8 L335.1,1537.8" stroke="#080808" stroke-width="5.8" stroke-linecap="round"/><path d="M300.4,1581.2 L334.1,1581.2" stroke="#080808" stroke-width="8.8" stroke-linecap="round"/><path d="M298.8,1598.8 L333.7,1598.8" stroke="#080808" stroke-width="7.6" stroke-linecap="round"/><path d="M295.1,1630.7 L331.4,1631.2" stroke="#080808" stroke-width="6.2" stroke-linecap="round"/><path d="M289.7,1653.5 L332.3,1654.5" stroke="#080808" stroke-width="7.4" stroke-linecap="round"/></g>
<path d="M349.4,1556.8 L376.0,1541.5 V1572.4 Z" fill="#232323"/><path d="M352.8,1533.5 L363.4,1550.8" stroke="#232323" stroke-width="3.1" fill="none"/>
<path d="M417.4,1496.8 L444.0,1481.5 V1512.4 Z" fill="#232323"/><path d="M420.8,1473.5 L431.4,1490.8" stroke="#232323" stroke-width="3.1" fill="none"/>
<path d="M475.6,1490.1 L502.2,1474.8 V1505.7 Z" fill="#232323"/><path d="M479.0,1466.8 L489.6,1484.1" stroke="#232323" stroke-width="3.1" fill="none"/>
<path d="M537.9,1487.7 L564.5,1472.4 V1503.3 Z" fill="#232323"/><path d="M541.3,1464.4 L551.9,1481.7" stroke="#232323" stroke-width="3.1" fill="none"/>
<path d="M606.3,1488.5 L632.9,1473.2 V1504.1 Z" fill="#232323"/><path d="M609.7,1465.2 L620.3,1482.5" stroke="#232323" stroke-width="3.1" fill="none"/>
<path d="M669.6,1484.6 L696.2,1469.3 V1500.2 Z" fill="#232323"/><path d="M673.0,1461.3 L683.6,1478.6" stroke="#232323" stroke-width="3.1" fill="none"/>
<path d="M736.8,1484.6 L763.4,1469.3 V1500.2 Z" fill="#232323"/><path d="M740.2,1461.3 L750.8,1478.6" stroke="#232323" stroke-width="3.1" fill="none"/>
</g>
<text transform="translate(228.40,1375.40) scale(1.0329,1.0000) translate(-1.25,0)" font-size="25" fill="#1a1718">250</text>
<text transform="translate(231.80,1415.80) scale(0.9621,1.0000) translate(-1.88,0)" font-size="25" fill="#1a1718">150</text>
<text transform="translate(231.80,1446.40) scale(0.9621,1.0000) translate(-1.88,0)" font-size="25" fill="#1a1718">100</text>
<text transform="translate(243.80,1470.30) scale(0.9961,1.0000) translate(-1.25,0)" font-size="25" fill="#1a1718">75</text>
<text transform="translate(243.10,1507.70) scale(1.0111,1.0000) translate(-1.00,0)" font-size="25" fill="#1a1718">50</text>
<text transform="translate(243.50,1544.50) scale(1.0054,1.0000) translate(-0.94,0)" font-size="25" fill="#1a1718">37</text>
<text transform="translate(243.10,1579.30) scale(1.0235,1.0000) translate(-1.25,0)" font-size="25" fill="#1a1718">25</text>
<text transform="translate(243.10,1603.80) scale(1.0210,1.0000) translate(-1.25,0)" font-size="25" fill="#1a1718">20</text>
<text transform="translate(246.50,1638.30) scale(0.9126,1.0000) translate(-1.88,0)" font-size="25" fill="#1a1718">15</text>
<text transform="translate(246.50,1661.00) scale(0.9103,1.0000) translate(-1.88,0)" font-size="25" fill="#1a1718">10</text>
<clipPath id="gc2"><rect x="981" y="1320.6" width="596.9" height="357.2"/></clipPath>
<g clip-path="url(#gc2)">
<rect x="981" y="1320.6" width="596.9" height="357.2" fill="url(#g2bg)"/>
<rect x="981" y="1320.6" width="596.9" height="357.2" fill="url(#g2v)"/>
<g filter="url(#gb8)"><rect x="1000" y="1455" width="186" height="195" fill="#000" fill-opacity="0.11"/><rect x="985" y="1470" width="95" height="150" fill="#000" fill-opacity="0.05"/><rect x="1190" y="1490" width="60" height="90" fill="#000" fill-opacity="0.03"/></g>
<g filter="url(#gb4)"><rect x="1062.6" y="1425" width="46" height="235" fill="#000" fill-opacity="0.041"/><rect x="1062.6" y="1495" width="46" height="95" fill="#000" fill-opacity="0.054"/><rect x="1128.5" y="1425" width="46" height="235" fill="#000" fill-opacity="0.054"/><rect x="1128.5" y="1495" width="46" height="95" fill="#000" fill-opacity="0.072"/><rect x="1192.4" y="1425" width="46" height="235" fill="#000" fill-opacity="0.054"/><rect x="1192.4" y="1495" width="46" height="95" fill="#000" fill-opacity="0.072"/><rect x="1260.4" y="1425" width="46" height="235" fill="#000" fill-opacity="0.009"/><rect x="1260.4" y="1495" width="46" height="95" fill="#000" fill-opacity="0.012"/><rect x="1329.4" y="1425" width="46" height="235" fill="#000" fill-opacity="0.045"/><rect x="1329.4" y="1495" width="46" height="95" fill="#000" fill-opacity="0.060"/><rect x="1397.0" y="1425" width="46" height="235" fill="#000" fill-opacity="0.034"/><rect x="1397.0" y="1495" width="46" height="95" fill="#000" fill-opacity="0.045"/><rect x="1460.3" y="1425" width="46" height="235" fill="#000" fill-opacity="0.023"/><rect x="1460.3" y="1495" width="46" height="95" fill="#000" fill-opacity="0.030"/><rect x="1523.0" y="1425" width="46" height="235" fill="#000" fill-opacity="0.005"/><rect x="1523.0" y="1495" width="46" height="95" fill="#000" fill-opacity="0.006"/></g>
<g filter="url(#gb4)"><path d="M1014,1345 L1046,1345 L1044,1500 L1004,1500 Z" fill="#000" fill-opacity="0.20"/><path d="M1004,1500 L1044,1500 L1040,1600 L1034,1672 L986,1672 L996,1580 Z" fill="#000" fill-opacity="0.08"/><path d="M1014,1322 L1046,1322 L1046,1345 L1014,1345 Z" fill="#000" fill-opacity="0.04"/></g>
<g filter="url(#gb2)"><path d="M1062.6,1506.1 Q1085.6,1506.1 1108.6,1506.1 L1108.6,1510.7 Q1085.6,1510.7 1062.6,1510.7 Z" fill="#000" fill-opacity="0.06"/><path d="M1062.6,1524.3 Q1085.6,1524.3 1108.6,1524.3 L1108.6,1528.9 Q1085.6,1528.9 1062.6,1528.9 Z" fill="#000" fill-opacity="0.05"/><path d="M1062.6,1614.3 Q1085.6,1614.3 1108.6,1614.3 L1108.6,1618.9 Q1085.6,1618.9 1062.6,1618.9 Z" fill="#000" fill-opacity="0.06"/><path d="M1062.6,1632.5 Q1085.6,1632.5 1108.6,1632.5 L1108.6,1637.1 Q1085.6,1637.1 1062.6,1637.1 Z" fill="#000" fill-opacity="0.03"/><path d="M1128.5,1516.7 Q1151.5,1516.7 1174.5,1516.7 L1174.5,1521.3 Q1151.5,1521.3 1128.5,1521.3 Z" fill="#000" fill-opacity="0.10"/><path d="M1128.5,1526.5 Q1151.5,1526.5 1174.5,1526.5 L1174.5,1531.1 Q1151.5,1531.1 1128.5,1531.1 Z" fill="#000" fill-opacity="0.11"/><path d="M1128.5,1534.0 Q1151.5,1534.0 1174.5,1534.0 L1174.5,1538.6 Q1151.5,1538.6 1128.5,1538.6 Z" fill="#000" fill-opacity="0.07"/><path d="M1128.5,1547.9 Q1151.5,1547.9 1174.5,1547.9 L1174.5,1552.5 Q1151.5,1552.5 1128.5,1552.5 Z" fill="#000" fill-opacity="0.08"/><path d="M1128.5,1570.4 Q1151.5,1570.4 1174.5,1570.4 L1174.5,1575.0 Q1151.5,1575.0 1128.5,1575.0 Z" fill="#000" fill-opacity="0.04"/><path d="M1128.5,1437.7 Q1151.5,1437.7 1174.5,1437.7 L1174.5,1442.3 Q1151.5,1442.3 1128.5,1442.3 Z" fill="#000" fill-opacity="0.02"/><path d="M1128.5,1452.7 Q1151.5,1452.7 1174.5,1452.7 L1174.5,1457.3 Q1151.5,1457.3 1128.5,1457.3 Z" fill="#000" fill-opacity="0.02"/><path d="M1128.5,1467.7 Q1151.5,1467.7 1174.5,1467.7 L1174.5,1472.3 Q1151.5,1472.3 1128.5,1472.3 Z" fill="#000" fill-opacity="0.02"/><path d="M1192.4,1506.1 Q1215.4,1506.1 1238.4,1506.1 L1238.4,1510.7 Q1215.4,1510.7 1192.4,1510.7 Z" fill="#000" fill-opacity="0.11"/><path d="M1192.4,1513.7 Q1215.4,1513.7 1238.4,1513.7 L1238.4,1518.3 Q1215.4,1518.3 1192.4,1518.3 Z" fill="#000" fill-opacity="0.08"/><path d="M1192.4,1523.3 Q1215.4,1523.3 1238.4,1523.3 L1238.4,1527.9 Q1215.4,1527.9 1192.4,1527.9 Z" fill="#000" fill-opacity="0.14"/><path d="M1192.4,1550.0 Q1215.4,1550.0 1238.4,1550.0 L1238.4,1554.6 Q1215.4,1554.6 1192.4,1554.6 Z" fill="#000" fill-opacity="0.06"/><path d="M1192.4,1563.7 Q1215.4,1563.7 1238.4,1563.7 L1238.4,1568.3 Q1215.4,1568.3 1192.4,1568.3 Z" fill="#000" fill-opacity="0.06"/><path d="M1192.4,1437.7 Q1215.4,1437.7 1238.4,1437.7 L1238.4,1442.3 Q1215.4,1442.3 1192.4,1442.3 Z" fill="#000" fill-opacity="0.03"/><path d="M1192.4,1627.7 Q1215.4,1627.7 1238.4,1627.7 L1238.4,1632.3 Q1215.4,1632.3 1192.4,1632.3 Z" fill="#000" fill-opacity="0.04"/><path d="M1260.4,1502.7 Q1283.4,1502.7 1306.4,1502.7 L1306.4,1507.3 Q1283.4,1507.3 1260.4,1507.3 Z" fill="#000" fill-opacity="0.07"/><path d="M1260.4,1509.7 Q1283.4,1509.7 1306.4,1509.7 L1306.4,1514.3 Q1283.4,1514.3 1260.4,1514.3 Z" fill="#000" fill-opacity="0.07"/><path d="M1260.4,1517.7 Q1283.4,1517.7 1306.4,1517.7 L1306.4,1522.3 Q1283.4,1522.3 1260.4,1522.3 Z" fill="#000" fill-opacity="0.05"/><path d="M1329.4,1507.2 Q1352.4,1507.2 1375.4,1507.2 L1375.4,1511.8 Q1352.4,1511.8 1329.4,1511.8 Z" fill="#000" fill-opacity="0.11"/><path d="M1329.4,1517.7 Q1352.4,1517.7 1375.4,1517.7 L1375.4,1522.3 Q1352.4,1522.3 1329.4,1522.3 Z" fill="#000" fill-opacity="0.10"/><path d="M1329.4,1532.7 Q1352.4,1532.7 1375.4,1532.7 L1375.4,1537.3 Q1352.4,1537.3 1329.4,1537.3 Z" fill="#000" fill-opacity="0.04"/><path d="M1397.0,1515.7 Q1420.0,1515.7 1443.0,1515.7 L1443.0,1520.3 Q1420.0,1520.3 1397.0,1520.3 Z" fill="#000" fill-opacity="0.08"/><path d="M1397.0,1528.7 Q1420.0,1528.7 1443.0,1528.7 L1443.0,1533.3 Q1420.0,1533.3 1397.0,1533.3 Z" fill="#000" fill-opacity="0.13"/><path d="M1397.0,1536.1 Q1420.0,1536.1 1443.0,1536.1 L1443.0,1540.7 Q1420.0,1540.7 1397.0,1540.7 Z" fill="#000" fill-opacity="0.14"/><path d="M1397.0,1552.7 Q1420.0,1552.7 1443.0,1552.7 L1443.0,1557.3 Q1420.0,1557.3 1397.0,1557.3 Z" fill="#000" fill-opacity="0.05"/><path d="M1397.0,1572.5 Q1420.0,1572.5 1443.0,1572.5 L1443.0,1577.1 Q1420.0,1577.1 1397.0,1577.1 Z" fill="#000" fill-opacity="0.08"/><path d="M1397.0,1628.2 Q1420.0,1628.2 1443.0,1628.2 L1443.0,1632.8 Q1420.0,1632.8 1397.0,1632.8 Z" fill="#000" fill-opacity="0.05"/><path d="M1397.0,1649.7 Q1420.0,1649.7 1443.0,1649.7 L1443.0,1654.3 Q1420.0,1654.3 1397.0,1654.3 Z" fill="#000" fill-opacity="0.03"/><path d="M1460.3,1518.7 Q1483.3,1518.7 1506.3,1518.7 L1506.3,1523.3 Q1483.3,1523.3 1460.3,1523.3 Z" fill="#000" fill-opacity="0.05"/><path d="M1460.3,1530.7 Q1483.3,1530.7 1506.3,1530.7 L1506.3,1535.3 Q1483.3,1535.3 1460.3,1535.3 Z" fill="#000" fill-opacity="0.06"/><path d="M1460.3,1536.1 Q1483.3,1536.1 1506.3,1536.1 L1506.3,1540.7 Q1483.3,1540.7 1460.3,1540.7 Z" fill="#000" fill-opacity="0.06"/><path d="M1460.3,1558.7 Q1483.3,1558.7 1506.3,1558.7 L1506.3,1563.3 Q1483.3,1563.3 1460.3,1563.3 Z" fill="#000" fill-opacity="0.06"/></g>
<g filter="url(#gb1)"><path d="M1058.2,1562.2 Q1085.7,1562.2 1113.2,1562.2 L1113.2,1565.8 Q1085.7,1565.8 1058.2,1565.8 Z" fill="#000" fill-opacity="0.85"/><path d="M1058.2,1568.2 Q1085.7,1568.2 1113.2,1568.2 L1113.2,1573.0 Q1085.7,1573.0 1058.2,1573.0 Z" fill="#000" fill-opacity="0.92"/><path d="M1129.2,1505.2 Q1151.4,1506.0 1173.6,1505.2 L1173.6,1510.4 Q1151.4,1511.2 1129.2,1510.4 Z" fill="#000" fill-opacity="0.90"/><path d="M1190.8,1494.5 Q1215.4,1493.5 1240.0,1494.5 L1240.0,1498.5 Q1215.4,1497.5 1190.8,1498.5 Z" fill="#000" fill-opacity="0.90"/><path d="M1258.2,1495.2 Q1283.4,1494.6 1308.6,1495.2 L1308.6,1499.2 Q1283.4,1498.6 1258.2,1499.2 Z" fill="#000" fill-opacity="0.85"/><path d="M1327.8,1495.0 Q1352.5,1494.4 1377.2,1495.0 L1377.2,1499.4 Q1352.5,1498.8 1327.8,1499.4 Z" fill="#000" fill-opacity="0.88"/><path d="M1395.4,1507.2 Q1420.1,1506.6 1444.8,1507.2 L1444.8,1513.8 Q1420.1,1513.2 1395.4,1513.8 Z" fill="#000" fill-opacity="0.95"/><path d="M1460.3,1510.6 Q1483.3,1510.6 1506.3,1510.6 L1506.3,1514.0 Q1483.3,1514.0 1460.3,1514.0 Z" fill="#000" fill-opacity="0.60"/><path d="M1522.4,1532.9 Q1546.0,1532.9 1569.5,1532.9 L1569.5,1535.3 Q1546.0,1535.3 1522.4,1535.3 Z" fill="#000" fill-opacity="0.22"/><path d="M1328.5,1563.3 Q1353.0,1564.1 1377.5,1564.8 L1377.5,1567.8 Q1353.0,1567.1 1328.5,1566.3 Z" fill="#000" fill-opacity="0.38"/></g>
<g filter="url(#gb1)"><path d="M1017.4,1337.5 L1043.2,1339.0" stroke="#080808" stroke-opacity="0.55" stroke-width="4.2" stroke-linecap="round"/><path d="M1013.8,1376.8 L1042.2,1378.8" stroke="#080808" stroke-opacity="0.5" stroke-width="3.6" stroke-linecap="round"/><path d="M1011.3,1415.4 L1041.7,1417.4" stroke="#080808" stroke-opacity="0.8" stroke-width="4.6" stroke-linecap="round"/><path d="M1010.8,1443.6 L1039.7,1445.6" stroke="#080808" stroke-opacity="1" stroke-width="9.6" stroke-linecap="round"/><path d="M1007.8,1486.2 L1039.2,1488.8" stroke="#080808" stroke-opacity="1" stroke-width="9.6" stroke-linecap="round"/><path d="M1005.7,1520.5 L1037.3,1523.5" stroke="#080808" stroke-opacity="0.95" stroke-width="5.4" stroke-linecap="round"/><path d="M999.8,1569.0 L1035.2,1573.0" stroke="#080808" stroke-opacity="1" stroke-width="9.6" stroke-linecap="round"/><path d="M999.4,1589.8 L1033.6,1594.2" stroke="#080808" stroke-opacity="1" stroke-width="6.8" stroke-linecap="round"/><path d="M993.7,1628.5 L1030.3,1633.5" stroke="#080808" stroke-opacity="0.85" stroke-width="5.4" stroke-linecap="round"/><path d="M988.7,1655.7 L1030.3,1664.7" stroke="#080808" stroke-opacity="1" stroke-width="7.4" stroke-linecap="round"/></g>
<path d="M1060.9,1539.9 L1087.5,1524.6 V1555.5 Z" fill="#232323"/><path d="M1067.9,1520.0 L1074.9,1533.9" stroke="#232323" stroke-width="3.1" fill="none"/>
<path d="M1127.4,1480.2 L1154.0,1464.9 V1495.8 Z" fill="#232323"/><path d="M1134.4,1460.3 L1141.4,1474.2" stroke="#232323" stroke-width="3.1" fill="none"/>
<path d="M1191.2,1470.6 L1217.8,1455.3 V1486.2 Z" fill="#232323"/><path d="M1198.2,1450.7 L1205.2,1464.6" stroke="#232323" stroke-width="3.1" fill="none"/>
<path d="M1261.5,1467.6 L1288.1,1452.3 V1483.2 Z" fill="#232323"/><path d="M1268.5,1447.7 L1275.5,1461.6" stroke="#232323" stroke-width="3.1" fill="none"/>
<path d="M1332.3,1470.7 L1358.9,1455.4 V1486.3 Z" fill="#232323"/><path d="M1339.3,1450.8 L1346.3,1464.7" stroke="#232323" stroke-width="3.1" fill="none"/>
<path d="M1396.0,1483.8 L1422.6,1468.5 V1499.4 Z" fill="#232323"/><path d="M1403.0,1463.9 L1410.0,1477.8" stroke="#232323" stroke-width="3.1" fill="none"/>
<path d="M1460.7,1488.6 L1487.3,1473.3 V1504.2 Z" fill="#232323"/><path d="M1467.7,1468.7 L1474.7,1482.6" stroke="#232323" stroke-width="3.1" fill="none"/>
</g>
<text transform="translate(935.10,1351.00) scale(1.0329,1.0000) translate(-1.25,0)" font-size="25" fill="#1a1718">250</text>
<text transform="translate(938.50,1391.70) scale(0.9621,1.0000) translate(-1.88,0)" font-size="25" fill="#1a1718">150</text>
<text transform="translate(938.50,1422.10) scale(0.9621,1.0000) translate(-1.88,0)" font-size="25" fill="#1a1718">100</text>
<text transform="translate(950.50,1445.80) scale(0.9961,1.0000) translate(-1.25,0)" font-size="25" fill="#1a1718">75</text>
<text transform="translate(949.80,1486.60) scale(1.0111,1.0000) translate(-1.00,0)" font-size="25" fill="#1a1718">50</text>
<text transform="translate(950.20,1523.30) scale(1.0054,1.0000) translate(-0.94,0)" font-size="25" fill="#1a1718">37</text>
<text transform="translate(949.80,1574.70) scale(1.0235,1.0000) translate(-1.25,0)" font-size="25" fill="#1a1718">25</text>
<text transform="translate(949.80,1599.20) scale(1.0210,1.0000) translate(-1.25,0)" font-size="25" fill="#1a1718">20</text>
<text transform="translate(953.20,1632.80) scale(0.9126,1.0000) translate(-1.88,0)" font-size="25" fill="#1a1718">15</text>
<text transform="translate(953.20,1666.40) scale(0.9103,1.0000) translate(-1.88,0)" font-size="25" fill="#1a1718">10</text>
<text transform="translate(382.30,1314.00) rotate(-30) scale(0.9078,1.0000) translate(-0.61,0)" font-size="27" fill="#1a1718">TEV</text>
<text transform="translate(438.20,1314.00) rotate(-30) scale(0.8760,1.0000) translate(-0.61,0)" font-size="27" fill="#1a1718">TEV-sIDP1</text>
<text transform="translate(498.80,1314.00) rotate(-30) scale(0.8764,1.0000) translate(-0.61,0)" font-size="27" fill="#1a1718">TEV-sIDP2</text>
<text transform="translate(559.60,1314.00) rotate(-30) scale(0.8751,1.0000) translate(-0.61,0)" font-size="27" fill="#1a1718">TEV-sIDP3</text>
<text transform="translate(620.10,1314.00) rotate(-30) scale(0.8724,1.0000) translate(-0.61,0)" font-size="27" fill="#1a1718">TEV-sIDP4</text>
<text transform="translate(680.60,1314.00) rotate(-30) scale(0.8746,1.0000) translate(-0.61,0)" font-size="27" fill="#1a1718">TEV-sIDP5</text>
<text transform="translate(741.10,1314.00) rotate(-30) scale(0.8751,1.0000) translate(-0.61,0)" font-size="27" fill="#1a1718">TEV-sIDP6</text>
<text transform="translate(811.50,1313.00) rotate(-30) scale(1.0417,1.0000) translate(-1.82,0)" font-size="27" fill="#1a1718">nc</text>
<text transform="translate(1080.00,1314.00) rotate(-30) scale(0.9078,1.0000) translate(-0.61,0)" font-size="27" fill="#1a1718">TEV</text>
<text transform="translate(1138.70,1314.00) rotate(-30) scale(0.8760,1.0000) translate(-0.61,0)" font-size="27" fill="#1a1718">TEV-sIDP1</text>
<text transform="translate(1208.20,1314.00) rotate(-30) scale(0.8764,1.0000) translate(-0.61,0)" font-size="27" fill="#1a1718">TEV-sIDP2</text>
<text transform="translate(1278.50,1314.00) rotate(-30) scale(0.8751,1.0000) translate(-0.61,0)" font-size="27" fill="#1a1718">TEV-sIDP3</text>
<text transform="translate(1341.60,1314.00) rotate(-30) scale(0.8724,1.0000) translate(-0.61,0)" font-size="27" fill="#1a1718">TEV-sIDP4</text>
<text transform="translate(1405.60,1314.00) rotate(-30) scale(0.8746,1.0000) translate(-0.61,0)" font-size="27" fill="#1a1718">TEV-sIDP5</text>
<text transform="translate(1471.60,1314.00) rotate(-30) scale(0.8751,1.0000) translate(-0.61,0)" font-size="27" fill="#1a1718">TEV-sIDP6</text>
<text transform="translate(1542.50,1314.00) rotate(-30) scale(1.0417,1.0000) translate(-1.82,0)" font-size="27" fill="#1a1718">nc</text>
</svg>
</body></html>
